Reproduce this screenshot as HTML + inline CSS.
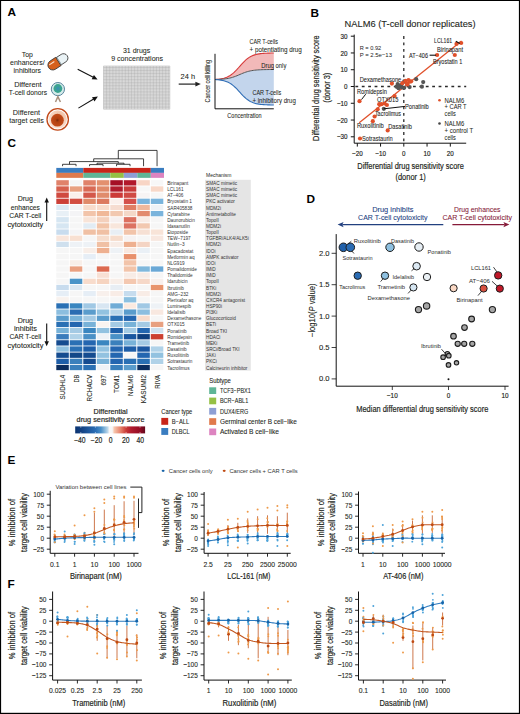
<!DOCTYPE html>
<html><head><meta charset="utf-8"><title>Figure</title>
<style>
html,body{margin:0;padding:0;background:#fff;}
body{width:520px;height:714px;overflow:hidden;position:relative;}
svg{position:absolute;left:0;top:0;display:block;}
svg text{font-family:"Liberation Sans", sans-serif;}
</style></head><body>
<svg width="520" height="714" viewBox="0 0 520 714" font-family='"Liberation Sans", sans-serif'>
<rect x="0" y="0" width="520" height="714" fill="#fff"/>
<text x="7.6" y="16.12" font-size="11.8" font-weight="bold">A</text>
<text x="27.3" y="56.9" font-size="7.25" text-anchor="middle" fill="#231f20" stroke="#231f20" stroke-width="0.06" textLength="11.12" lengthAdjust="spacingAndGlyphs">Top</text>
<text x="27.3" y="65.2" font-size="7.25" text-anchor="middle" fill="#231f20" stroke="#231f20" stroke-width="0.06" textLength="34.6" lengthAdjust="spacingAndGlyphs">enhancers/</text>
<text x="27.3" y="73.3" font-size="7.25" text-anchor="middle" fill="#231f20" stroke="#231f20" stroke-width="0.06" textLength="27.5" lengthAdjust="spacingAndGlyphs">inhibitors</text>
<text x="27.9" y="86.7" font-size="7.25" text-anchor="middle" fill="#231f20" stroke="#231f20" stroke-width="0.06" textLength="27.5" lengthAdjust="spacingAndGlyphs">Different</text>
<text x="27.9" y="94.8" font-size="7.25" text-anchor="middle" fill="#231f20" stroke="#231f20" stroke-width="0.06" textLength="38.4" lengthAdjust="spacingAndGlyphs">T-cell donors</text>
<text x="26.5" y="115.2" font-size="7.25" text-anchor="middle" fill="#231f20" stroke="#231f20" stroke-width="0.06" textLength="27.3" lengthAdjust="spacingAndGlyphs">Different</text>
<text x="26.5" y="122.9" font-size="7.25" text-anchor="middle" fill="#231f20" stroke="#231f20" stroke-width="0.06" textLength="34.6" lengthAdjust="spacingAndGlyphs">target cells</text>
<g transform="translate(58,61.7) rotate(-33)"><path d="M0.4,-4.4 L6.6,-4.4 A4.4,4.4 0 0 1 6.6,4.4 L0.4,4.4 Z" fill="#eaf3f6" stroke="#3a3a3a" stroke-width="0.8"/><path d="M0.4,-4.9 L-6.2,-4.9 A4.9,4.9 0 0 0 -6.2,4.9 L0.4,4.9 Z" fill="#d6601c" stroke="#3a3a3a" stroke-width="0.8"/><line x1="1.3" y1="-4.2" x2="1.3" y2="4.2" stroke="#8fa0a6" stroke-width="1.0"/><path d="M-8.6,-2.1 L-3.4,-2.1" stroke="#fbe3d2" stroke-width="1.1" stroke-linecap="round"/></g>
<defs><radialGradient id="tg"><stop offset="0" stop-color="#3a8cb8"/><stop offset="0.55" stop-color="#3a9f96"/><stop offset="1" stop-color="#3aa88a"/></radialGradient><radialGradient id="og" cx="0.6" cy="0.35" r="0.7"><stop offset="0" stop-color="#eeb898"/><stop offset="1" stop-color="#fbe6da"/></radialGradient><radialGradient id="ig"><stop offset="0" stop-color="#7a2a0c"/><stop offset="0.3" stop-color="#b2400f"/><stop offset="1" stop-color="#c44c1a"/></radialGradient></defs>
<circle cx="57.9" cy="89.1" r="6.6" fill="#d4eaea" stroke="#58849c" stroke-width="1"/>
<circle cx="57.9" cy="88.5" r="4.4" fill="url(#tg)"/>
<path d="M55.5,102.0 L57.9,96.6 L60.4,102.0" fill="none" stroke="#a8917f" stroke-width="1.5"/>
<circle cx="57.7" cy="119.4" r="10.7" fill="#fff" stroke="#c24a1a" stroke-width="1.3"/>
<circle cx="57.7" cy="119.4" r="9.2" fill="url(#og)"/>
<circle cx="57.4" cy="120.2" r="6.4" fill="url(#ig)"/>
<line x1="77.7" y1="69.2" x2="93.26" y2="77.33" stroke="#111" stroke-width="1.1"/>
<path d="M97.6,79.6 L91.7,79.23 L93.93,74.97 Z" fill="#111"/>
<line x1="78.4" y1="108.1" x2="93.68" y2="99.09" stroke="#111" stroke-width="1.1"/>
<path d="M97.9,96.6 L94.47,101.41 L92.03,97.28 Z" fill="#111"/>
<text x="136.6" y="53.1" font-size="7.25" text-anchor="middle" fill="#231f20" stroke="#231f20" stroke-width="0.06" textLength="27.3" lengthAdjust="spacingAndGlyphs">31 drugs</text>
<text x="137.1" y="61.3" font-size="7.25" text-anchor="middle" fill="#231f20" stroke="#231f20" stroke-width="0.06" textLength="51.9" lengthAdjust="spacingAndGlyphs">9 concentrations</text>
<path d="M103.5,66V109.2M104.97,66V109.2M106.45,66V109.2M107.92,66V109.2M109.39,66V109.2M110.87,66V109.2M112.34,66V109.2M113.81,66V109.2M115.29,66V109.2M116.76,66V109.2M118.23,66V109.2M119.71,66V109.2M121.18,66V109.2M122.65,66V109.2M124.13,66V109.2M125.6,66V109.2M127.07,66V109.2M128.55,66V109.2M130.02,66V109.2M131.49,66V109.2M132.97,66V109.2M134.44,66V109.2M135.91,66V109.2M137.39,66V109.2M138.86,66V109.2M140.33,66V109.2M141.81,66V109.2M143.28,66V109.2M144.75,66V109.2M146.23,66V109.2M147.7,66V109.2M149.17,66V109.2M150.65,66V109.2M152.12,66V109.2M153.59,66V109.2M155.07,66V109.2M156.54,66V109.2M158.01,66V109.2M159.49,66V109.2M160.96,66V109.2M162.43,66V109.2M163.91,66V109.2M165.38,66V109.2M166.85,66V109.2M168.33,66V109.2M169.8,66V109.2M103.5,66H169.8M103.5,67.49H169.8M103.5,68.98H169.8M103.5,70.47H169.8M103.5,71.96H169.8M103.5,73.45H169.8M103.5,74.94H169.8M103.5,76.43H169.8M103.5,77.92H169.8M103.5,79.41H169.8M103.5,80.9H169.8M103.5,82.39H169.8M103.5,83.88H169.8M103.5,85.37H169.8M103.5,86.86H169.8M103.5,88.34H169.8M103.5,89.83H169.8M103.5,91.32H169.8M103.5,92.81H169.8M103.5,94.3H169.8M103.5,95.79H169.8M103.5,97.28H169.8M103.5,98.77H169.8M103.5,100.26H169.8M103.5,101.75H169.8M103.5,103.24H169.8M103.5,104.73H169.8M103.5,106.22H169.8M103.5,107.71H169.8M103.5,109.2H169.8" stroke="#959595" stroke-width="0.4" fill="none"/>
<text x="187.8" y="78.8" font-size="7.25" text-anchor="middle" fill="#231f20" stroke="#231f20" stroke-width="0.06" textLength="14.5" lengthAdjust="spacingAndGlyphs">24 h</text>
<line x1="178.7" y1="84.1" x2="195.9" y2="84.1" stroke="#222" stroke-width="1.2"/>
<path d="M200.8,84.1 L195.4,86.4 L195.4,81.8 Z" fill="#222"/>
<polygon points="215,79.5 216.47,79.39 217.94,79.25 219.41,79.07 220.88,78.84 222.35,78.56 223.82,78.2 225.29,77.76 226.76,77.21 228.23,76.54 229.7,75.73 231.17,74.77 232.64,73.65 234.11,72.37 235.58,70.95 237.05,69.39 238.52,67.75 239.99,66.07 241.46,64.4 242.93,62.79 244.4,61.28 245.87,59.91 247.34,58.7 248.81,57.64 250.28,56.75 251.75,56 253.22,55.38 254.69,54.87 256.16,54.47 257.63,54.14 259.1,53.88 260.57,53.67 262.04,53.51 263.51,53.38 264.98,53.28 266.45,53.2 267.92,53.14 269.39,53.09 270.86,53.05 272.33,53.02 273.8,53 273.8,69.5 272.33,69.51 270.86,69.52 269.39,69.53 267.92,69.55 266.45,69.58 264.98,69.61 263.51,69.64 262.04,69.69 260.57,69.75 259.1,69.83 257.63,69.93 256.16,70.05 254.69,70.21 253.22,70.4 251.75,70.63 250.28,70.91 248.81,71.25 247.34,71.65 245.87,72.11 244.4,72.63 242.93,73.19 241.46,73.8 239.99,74.43 238.52,75.07 237.05,75.69 235.58,76.27 234.11,76.81 232.64,77.29 231.17,77.72 229.7,78.08 228.23,78.38 226.76,78.63 225.29,78.84 223.82,79.01 222.35,79.14 220.88,79.25 219.41,79.34 217.94,79.4 216.47,79.46 215,79.5" fill="#f2b9b9"/>
<polygon points="215,79.5 216.47,79.46 217.94,79.4 219.41,79.34 220.88,79.25 222.35,79.14 223.82,79.01 225.29,78.84 226.76,78.63 228.23,78.38 229.7,78.08 231.17,77.72 232.64,77.29 234.11,76.81 235.58,76.27 237.05,75.69 238.52,75.07 239.99,74.43 241.46,73.8 242.93,73.19 244.4,72.63 245.87,72.11 247.34,71.65 248.81,71.25 250.28,70.91 251.75,70.63 253.22,70.4 254.69,70.21 256.16,70.05 257.63,69.93 259.1,69.83 260.57,69.75 262.04,69.69 263.51,69.64 264.98,69.61 266.45,69.58 267.92,69.55 269.39,69.53 270.86,69.52 272.33,69.51 273.8,69.5 273.8,105 272.33,104.98 270.86,104.95 269.39,104.91 267.92,104.87 266.45,104.81 264.98,104.73 263.51,104.63 262.04,104.51 260.57,104.35 259.1,104.15 257.63,103.9 256.16,103.59 254.69,103.2 253.22,102.71 251.75,102.12 250.28,101.4 248.81,100.53 247.34,99.52 245.87,98.35 244.4,97.03 242.93,95.58 241.46,94.03 239.99,92.42 238.52,90.8 237.05,89.22 235.58,87.73 234.11,86.36 232.64,85.13 231.17,84.05 229.7,83.13 228.23,82.35 226.76,81.71 225.29,81.18 223.82,80.75 222.35,80.41 220.88,80.13 219.41,79.92 217.94,79.74 216.47,79.61 215,79.5" fill="#c3d5ec"/>
<polyline points="215,79.5 216.47,79.39 217.94,79.25 219.41,79.07 220.88,78.84 222.35,78.56 223.82,78.2 225.29,77.76 226.76,77.21 228.23,76.54 229.7,75.73 231.17,74.77 232.64,73.65 234.11,72.37 235.58,70.95 237.05,69.39 238.52,67.75 239.99,66.07 241.46,64.4 242.93,62.79 244.4,61.28 245.87,59.91 247.34,58.7 248.81,57.64 250.28,56.75 251.75,56 253.22,55.38 254.69,54.87 256.16,54.47 257.63,54.14 259.1,53.88 260.57,53.67 262.04,53.51 263.51,53.38 264.98,53.28 266.45,53.2 267.92,53.14 269.39,53.09 270.86,53.05 272.33,53.02 273.8,53" fill="none" stroke="#d63a3a" stroke-width="1.1"/>
<polyline points="215,79.5 216.47,79.46 217.94,79.4 219.41,79.34 220.88,79.25 222.35,79.14 223.82,79.01 225.29,78.84 226.76,78.63 228.23,78.38 229.7,78.08 231.17,77.72 232.64,77.29 234.11,76.81 235.58,76.27 237.05,75.69 238.52,75.07 239.99,74.43 241.46,73.8 242.93,73.19 244.4,72.63 245.87,72.11 247.34,71.65 248.81,71.25 250.28,70.91 251.75,70.63 253.22,70.4 254.69,70.21 256.16,70.05 257.63,69.93 259.1,69.83 260.57,69.75 262.04,69.69 263.51,69.64 264.98,69.61 266.45,69.58 267.92,69.55 269.39,69.53 270.86,69.52 272.33,69.51 273.8,69.5" fill="none" stroke="#555" stroke-width="1.0"/>
<polyline points="215,79.5 216.47,79.61 217.94,79.74 219.41,79.92 220.88,80.13 222.35,80.41 223.82,80.75 225.29,81.18 226.76,81.71 228.23,82.35 229.7,83.13 231.17,84.05 232.64,85.13 234.11,86.36 235.58,87.73 237.05,89.22 238.52,90.8 239.99,92.42 241.46,94.03 242.93,95.58 244.4,97.03 245.87,98.35 247.34,99.52 248.81,100.53 250.28,101.4 251.75,102.12 253.22,102.71 254.69,103.2 256.16,103.59 257.63,103.9 259.1,104.15 260.57,104.35 262.04,104.51 263.51,104.63 264.98,104.73 266.45,104.81 267.92,104.87 269.39,104.91 270.86,104.95 272.33,104.98 273.8,105" fill="none" stroke="#2f6db5" stroke-width="1.1"/>
<path d="M215,53.8 V108.8 H273.8" fill="none" stroke="#111" stroke-width="1"/>
<text x="249.5" y="44.39" font-size="6.93" fill="#231f20" stroke="#231f20" stroke-width="0.06" textLength="28.5" lengthAdjust="spacingAndGlyphs">CAR T-cells</text>
<text x="249.5" y="51.89" font-size="6.93" fill="#231f20" stroke="#231f20" stroke-width="0.06" textLength="52.3" lengthAdjust="spacingAndGlyphs">+ potentiating drug</text>
<text x="261.3" y="67.89" font-size="6.93" fill="#231f20" stroke="#231f20" stroke-width="0.06" textLength="25" lengthAdjust="spacingAndGlyphs">Drug only</text>
<text x="252.5" y="95.39" font-size="6.93" fill="#231f20" stroke="#231f20" stroke-width="0.06" textLength="28.8" lengthAdjust="spacingAndGlyphs">CAR T-cells</text>
<text x="252.5" y="102.89" font-size="6.93" fill="#231f20" stroke="#231f20" stroke-width="0.06" textLength="43.3" lengthAdjust="spacingAndGlyphs">+ inhibitory drug</text>
<text transform="translate(207.6,81.3) rotate(-90)" x="0" y="2.25" font-size="6.51" text-anchor="middle" fill="#231f20" stroke="#231f20" stroke-width="0.06" textLength="42.5" lengthAdjust="spacingAndGlyphs">Cancer cell killing</text>
<text x="244.5" y="117.75" font-size="6.51" text-anchor="middle" fill="#231f20" stroke="#231f20" stroke-width="0.06" textLength="34.3" lengthAdjust="spacingAndGlyphs">Concentration</text>
<text x="310.4" y="17.02" font-size="11.8" font-weight="bold">B</text>
<text x="344.6" y="27.41" font-size="9.3" fill="#231f20" stroke="#231f20" stroke-width="0.1" textLength="131" lengthAdjust="spacingAndGlyphs">NALM6 (T-cell donor replicates)</text>
<line x1="350.8" y1="36.19" x2="354.2" y2="36.19" stroke="#111" stroke-width="1"/>
<text x="347.6" y="38.84" font-size="7.68" text-anchor="end" fill="#231f20" stroke="#231f20" stroke-width="0.18" textLength="7.01" lengthAdjust="spacingAndGlyphs">30</text>
<line x1="350.8" y1="52.96" x2="354.2" y2="52.96" stroke="#111" stroke-width="1"/>
<text x="347.6" y="55.61" font-size="7.68" text-anchor="end" fill="#231f20" stroke="#231f20" stroke-width="0.18" textLength="7.01" lengthAdjust="spacingAndGlyphs">20</text>
<line x1="350.8" y1="69.73" x2="354.2" y2="69.73" stroke="#111" stroke-width="1"/>
<text x="347.6" y="72.38" font-size="7.68" text-anchor="end" fill="#231f20" stroke="#231f20" stroke-width="0.18" textLength="7.01" lengthAdjust="spacingAndGlyphs">10</text>
<line x1="350.8" y1="86.5" x2="354.2" y2="86.5" stroke="#111" stroke-width="1"/>
<text x="347.6" y="89.15" font-size="7.68" text-anchor="end" fill="#231f20" stroke="#231f20" stroke-width="0.18" textLength="3.5" lengthAdjust="spacingAndGlyphs">0</text>
<line x1="350.8" y1="103.27" x2="354.2" y2="103.27" stroke="#111" stroke-width="1"/>
<text x="347.6" y="105.92" font-size="7.68" text-anchor="end" fill="#231f20" stroke="#231f20" stroke-width="0.18" textLength="10.69" lengthAdjust="spacingAndGlyphs">−10</text>
<line x1="350.8" y1="120.04" x2="354.2" y2="120.04" stroke="#111" stroke-width="1"/>
<text x="347.6" y="122.69" font-size="7.68" text-anchor="end" fill="#231f20" stroke="#231f20" stroke-width="0.18" textLength="10.69" lengthAdjust="spacingAndGlyphs">−20</text>
<line x1="350.8" y1="136.81" x2="354.2" y2="136.81" stroke="#111" stroke-width="1"/>
<text x="347.6" y="139.46" font-size="7.68" text-anchor="end" fill="#231f20" stroke="#231f20" stroke-width="0.18" textLength="10.69" lengthAdjust="spacingAndGlyphs">−30</text>
<line x1="357.3" y1="143.2" x2="357.3" y2="146.6" stroke="#111" stroke-width="1"/>
<text x="357.3" y="155.65" font-size="7.68" text-anchor="middle" fill="#231f20" stroke="#231f20" stroke-width="0.18" textLength="10.69" lengthAdjust="spacingAndGlyphs">−20</text>
<line x1="380.55" y1="143.2" x2="380.55" y2="146.6" stroke="#111" stroke-width="1"/>
<text x="380.55" y="155.65" font-size="7.68" text-anchor="middle" fill="#231f20" stroke="#231f20" stroke-width="0.18" textLength="10.69" lengthAdjust="spacingAndGlyphs">−10</text>
<line x1="403.8" y1="143.2" x2="403.8" y2="146.6" stroke="#111" stroke-width="1"/>
<text x="403.8" y="155.65" font-size="7.68" text-anchor="middle" fill="#231f20" stroke="#231f20" stroke-width="0.18" textLength="3.5" lengthAdjust="spacingAndGlyphs">0</text>
<line x1="427.05" y1="143.2" x2="427.05" y2="146.6" stroke="#111" stroke-width="1"/>
<text x="427.05" y="155.65" font-size="7.68" text-anchor="middle" fill="#231f20" stroke="#231f20" stroke-width="0.18" textLength="7.01" lengthAdjust="spacingAndGlyphs">10</text>
<line x1="450.3" y1="143.2" x2="450.3" y2="146.6" stroke="#111" stroke-width="1"/>
<text x="450.3" y="155.65" font-size="7.68" text-anchor="middle" fill="#231f20" stroke="#231f20" stroke-width="0.18" textLength="7.01" lengthAdjust="spacingAndGlyphs">20</text>
<line x1="403.8" y1="36.1" x2="403.8" y2="143.2" stroke="#2a2a2a" stroke-width="1.3" stroke-dasharray="2.8,3.6"/>
<line x1="355.4" y1="86.5" x2="466.2" y2="86.5" stroke="#2a2a2a" stroke-width="1.3" stroke-dasharray="2.8,3.6"/>
<path d="M354.2,34.6 V143.2 H466.2" fill="none" stroke="#111" stroke-width="1"/>
<text x="410.6" y="168.76" font-size="8.88" text-anchor="middle" fill="#231f20" stroke="#231f20" stroke-width="0.18" textLength="106.6" lengthAdjust="spacingAndGlyphs">Differential drug sensitivity score</text>
<text x="410.6" y="179.56" font-size="8.88" text-anchor="middle" fill="#231f20" stroke="#231f20" stroke-width="0.18" textLength="30.4" lengthAdjust="spacingAndGlyphs">(donor 1)</text>
<text transform="translate(316,88.2) rotate(-90)" x="0" y="3.06" font-size="8.88" text-anchor="middle" fill="#231f20" stroke="#231f20" stroke-width="0.18" textLength="105.4" lengthAdjust="spacingAndGlyphs">Differential drug sensitivity score</text>
<text transform="translate(327,87.7) rotate(-90)" x="0" y="3.06" font-size="8.88" text-anchor="middle" fill="#231f20" stroke="#231f20" stroke-width="0.18" textLength="30" lengthAdjust="spacingAndGlyphs">(donor 3)</text>
<text x="359.7" y="49.8" font-size="6.2" fill="#222" textLength="21.5" lengthAdjust="spacingAndGlyphs">R = 0.92</text>
<text x="359.7" y="56.7" font-size="6.2" fill="#222" textLength="32.3" lengthAdjust="spacingAndGlyphs">P = 2.5e−13</text>
<line x1="359.2" y1="122.7" x2="461.5" y2="41" stroke="#e0502a" stroke-width="1.25"/>
<circle cx="396.5" cy="86.7" r="2.1" fill="#555"/>
<circle cx="397.7" cy="84" r="2.1" fill="#555"/>
<circle cx="400" cy="86.7" r="2.1" fill="#555"/>
<circle cx="402.3" cy="87.5" r="2.1" fill="#555"/>
<circle cx="404.2" cy="81.3" r="2.1" fill="#555"/>
<circle cx="404.2" cy="87.8" r="2.1" fill="#555"/>
<circle cx="409.6" cy="87.1" r="2.1" fill="#555"/>
<circle cx="416.2" cy="79.2" r="2.1" fill="#555"/>
<circle cx="423.2" cy="82.1" r="2.1" fill="#555"/>
<circle cx="421.9" cy="86.7" r="2.1" fill="#555"/>
<circle cx="399.2" cy="85.9" r="2.1" fill="#555"/>
<circle cx="383.8" cy="108.8" r="2.1" fill="#555"/>
<circle cx="401.5" cy="84.5" r="2.1" fill="#555"/>
<circle cx="398.5" cy="88.2" r="2.1" fill="#555"/>
<circle cx="456.5" cy="43.9" r="2.1" fill="#e0502a"/>
<circle cx="461.2" cy="43" r="2.1" fill="#e0502a"/>
<circle cx="437.1" cy="55" r="2.1" fill="#e0502a"/>
<circle cx="454.8" cy="55" r="2.1" fill="#e0502a"/>
<circle cx="391.9" cy="83.6" r="2.1" fill="#e0502a"/>
<circle cx="359.5" cy="101.2" r="2.1" fill="#e0502a"/>
<circle cx="379.2" cy="104.2" r="2.1" fill="#e0502a"/>
<circle cx="381.5" cy="104.2" r="2.1" fill="#e0502a"/>
<circle cx="384.6" cy="103.5" r="2.1" fill="#e0502a"/>
<circle cx="386.9" cy="105" r="2.1" fill="#e0502a"/>
<circle cx="377.7" cy="109.3" r="2.1" fill="#e0502a"/>
<circle cx="374.6" cy="116.5" r="2.1" fill="#e0502a"/>
<circle cx="372.8" cy="121.2" r="2.1" fill="#e0502a"/>
<circle cx="387.7" cy="130.4" r="2.1" fill="#e0502a"/>
<circle cx="360" cy="138.5" r="2.1" fill="#e0502a"/>
<circle cx="394.6" cy="96" r="2.1" fill="#e0502a"/>
<circle cx="405.4" cy="80.9" r="2.1" fill="#e0502a"/>
<circle cx="409.6" cy="81.7" r="2.1" fill="#e0502a"/>
<circle cx="411.2" cy="81.3" r="2.1" fill="#e0502a"/>
<circle cx="402.3" cy="83.2" r="2.1" fill="#e0502a"/>
<circle cx="406.9" cy="83.6" r="2.1" fill="#e0502a"/>
<circle cx="408.5" cy="80" r="2.1" fill="#e0502a"/>
<circle cx="407.5" cy="84.5" r="2.1" fill="#e0502a"/>
<text x="434" y="43.36" font-size="6.55" fill="#222" stroke="#222" stroke-width="0.07" textLength="18.2" lengthAdjust="spacingAndGlyphs">LCL161</text>
<text x="437.1" y="51.76" font-size="6.55" fill="#222" stroke="#222" stroke-width="0.07" textLength="26" lengthAdjust="spacingAndGlyphs">Birinapant</text>
<text x="408.9" y="57.56" font-size="6.55" fill="#222" stroke="#222" stroke-width="0.07" textLength="19.1" lengthAdjust="spacingAndGlyphs">AT−406</text>
<text x="433" y="63.56" font-size="6.55" fill="#222" stroke="#222" stroke-width="0.07" textLength="29.3" lengthAdjust="spacingAndGlyphs">Bryostatin 1</text>
<text x="359.7" y="81.76" font-size="6.55" fill="#222" stroke="#222" stroke-width="0.07" textLength="41.6" lengthAdjust="spacingAndGlyphs">Dexamethasone</text>
<text x="356.9" y="94.06" font-size="6.55" fill="#222" stroke="#222" stroke-width="0.07" textLength="30" lengthAdjust="spacingAndGlyphs">Romidepsin</text>
<text x="377" y="101.76" font-size="6.55" fill="#222" stroke="#222" stroke-width="0.07" textLength="21.5" lengthAdjust="spacingAndGlyphs">OTX015</text>
<text x="405" y="109.36" font-size="6.55" fill="#222" stroke="#222" stroke-width="0.07" textLength="23.8" lengthAdjust="spacingAndGlyphs">Ponatinib</text>
<text x="374.9" y="116.36" font-size="6.55" fill="#222" stroke="#222" stroke-width="0.07" textLength="26.1" lengthAdjust="spacingAndGlyphs">Tacrolimus</text>
<text x="356.9" y="128.36" font-size="6.55" fill="#222" stroke="#222" stroke-width="0.07" textLength="26.9" lengthAdjust="spacingAndGlyphs">Ruxolitinib</text>
<text x="388.2" y="128.76" font-size="6.55" fill="#222" stroke="#222" stroke-width="0.07" textLength="23.6" lengthAdjust="spacingAndGlyphs">Dasatinib</text>
<text x="362" y="141.06" font-size="6.55" fill="#222" stroke="#222" stroke-width="0.07" textLength="30.8" lengthAdjust="spacingAndGlyphs">Sotrastaurin</text>
<line x1="455.8" y1="41.3" x2="459.9" y2="43.6" stroke="#111" stroke-width="1.1"/>
<line x1="429.6" y1="55.2" x2="436" y2="55.2" stroke="#111" stroke-width="1.1"/>
<line x1="361.5" y1="99.6" x2="365.7" y2="94.2" stroke="#111" stroke-width="1"/>
<line x1="383.8" y1="108.8" x2="405" y2="106.4" stroke="#111" stroke-width="1"/>
<circle cx="439.5" cy="100.3" r="1.3" fill="#e0502a"/>
<circle cx="439.5" cy="123.5" r="1.3" fill="#444"/>
<text x="444.6" y="102.51" font-size="6.42" fill="#231f20" stroke="#231f20" stroke-width="0.05" textLength="19.6" lengthAdjust="spacingAndGlyphs">NALM6</text>
<text x="444.6" y="109.11" font-size="6.42" fill="#231f20" stroke="#231f20" stroke-width="0.05" textLength="22" lengthAdjust="spacingAndGlyphs">+ CAR T</text>
<text x="444.6" y="116.01" font-size="6.42" fill="#231f20" stroke="#231f20" stroke-width="0.05" textLength="11.2" lengthAdjust="spacingAndGlyphs">cells</text>
<text x="444.6" y="125.71" font-size="6.42" fill="#231f20" stroke="#231f20" stroke-width="0.05" textLength="19.6" lengthAdjust="spacingAndGlyphs">NALM6</text>
<text x="444.6" y="133.01" font-size="6.42" fill="#231f20" stroke="#231f20" stroke-width="0.05" textLength="28.5" lengthAdjust="spacingAndGlyphs">+ control T</text>
<text x="444.6" y="139.61" font-size="6.42" fill="#231f20" stroke="#231f20" stroke-width="0.05" textLength="11.2" lengthAdjust="spacingAndGlyphs">cells</text>
<text x="7.5" y="147.32" font-size="11.8" font-weight="bold">C</text>
<rect x="56.3" y="180.2" width="12.5" height="5.31" fill="#e0826a"/>
<rect x="69.8" y="180.2" width="12.5" height="5.31" fill="#f5f5f5"/>
<rect x="83.3" y="180.2" width="12.5" height="5.31" fill="#e0826a"/>
<rect x="96.8" y="180.2" width="12.5" height="5.31" fill="#e3906f"/>
<rect x="110.3" y="180.2" width="12.5" height="5.31" fill="#a50f26"/>
<rect x="123.8" y="180.2" width="12.5" height="5.31" fill="#b2182b"/>
<rect x="137.3" y="180.2" width="12.5" height="5.31" fill="#f8d5c5"/>
<rect x="150.8" y="180.2" width="12.5" height="5.31" fill="#f7f7f7"/>
<rect x="56.3" y="186.35" width="12.5" height="5.31" fill="#d6604d"/>
<rect x="69.8" y="186.35" width="12.5" height="5.31" fill="#e8a080"/>
<rect x="83.3" y="186.35" width="12.5" height="5.31" fill="#d96a55"/>
<rect x="96.8" y="186.35" width="12.5" height="5.31" fill="#e08a6a"/>
<rect x="110.3" y="186.35" width="12.5" height="5.31" fill="#b01c2e"/>
<rect x="123.8" y="186.35" width="12.5" height="5.31" fill="#c83a3a"/>
<rect x="137.3" y="186.35" width="12.5" height="5.31" fill="#f7f7f7"/>
<rect x="150.8" y="186.35" width="12.5" height="5.31" fill="#f8d8c8"/>
<rect x="56.3" y="192.51" width="12.5" height="5.31" fill="#d04a40"/>
<rect x="69.8" y="192.51" width="12.5" height="5.31" fill="#faf0ec"/>
<rect x="83.3" y="192.51" width="12.5" height="5.31" fill="#d4584a"/>
<rect x="96.8" y="192.51" width="12.5" height="5.31" fill="#e08c6c"/>
<rect x="110.3" y="192.51" width="12.5" height="5.31" fill="#cc3a38"/>
<rect x="123.8" y="192.51" width="12.5" height="5.31" fill="#d04a44"/>
<rect x="137.3" y="192.51" width="12.5" height="5.31" fill="#f7f4f4"/>
<rect x="150.8" y="192.51" width="12.5" height="5.31" fill="#f7f7f7"/>
<rect x="56.3" y="198.66" width="12.5" height="5.31" fill="#cc4038"/>
<rect x="69.8" y="198.66" width="12.5" height="5.31" fill="#d24e42"/>
<rect x="83.3" y="198.66" width="12.5" height="5.31" fill="#e08a6a"/>
<rect x="96.8" y="198.66" width="12.5" height="5.31" fill="#dc7a60"/>
<rect x="110.3" y="198.66" width="12.5" height="5.31" fill="#fbf0ec"/>
<rect x="123.8" y="198.66" width="12.5" height="5.31" fill="#d4504a"/>
<rect x="137.3" y="198.66" width="12.5" height="5.31" fill="#7ab4dc"/>
<rect x="150.8" y="198.66" width="12.5" height="5.31" fill="#7ab4dc"/>
<rect x="56.3" y="204.82" width="12.5" height="5.31" fill="#dce9f4"/>
<rect x="69.8" y="204.82" width="12.5" height="5.31" fill="#f2f4f6"/>
<rect x="83.3" y="204.82" width="12.5" height="5.31" fill="#f8dccc"/>
<rect x="96.8" y="204.82" width="12.5" height="5.31" fill="#f8dccc"/>
<rect x="110.3" y="204.82" width="12.5" height="5.31" fill="#f6dcd0"/>
<rect x="123.8" y="204.82" width="12.5" height="5.31" fill="#e07e64"/>
<rect x="137.3" y="204.82" width="12.5" height="5.31" fill="#f0b89c"/>
<rect x="150.8" y="204.82" width="12.5" height="5.31" fill="#eef2f6"/>
<rect x="56.3" y="210.97" width="12.5" height="5.31" fill="#e8f0f6"/>
<rect x="69.8" y="210.97" width="12.5" height="5.31" fill="#f4f4f6"/>
<rect x="83.3" y="210.97" width="12.5" height="5.31" fill="#f2c4aa"/>
<rect x="96.8" y="210.97" width="12.5" height="5.31" fill="#f0b898"/>
<rect x="110.3" y="210.97" width="12.5" height="5.31" fill="#f2c8b0"/>
<rect x="123.8" y="210.97" width="12.5" height="5.31" fill="#f4d8c8"/>
<rect x="137.3" y="210.97" width="12.5" height="5.31" fill="#e28a6e"/>
<rect x="150.8" y="210.97" width="12.5" height="5.31" fill="#7ab4dc"/>
<rect x="56.3" y="217.13" width="12.5" height="5.31" fill="#d6e6f2"/>
<rect x="69.8" y="217.13" width="12.5" height="5.31" fill="#f6f6f6"/>
<rect x="83.3" y="217.13" width="12.5" height="5.31" fill="#f8e4d8"/>
<rect x="96.8" y="217.13" width="12.5" height="5.31" fill="#f4d0bc"/>
<rect x="110.3" y="217.13" width="12.5" height="5.31" fill="#f6f0f0"/>
<rect x="123.8" y="217.13" width="12.5" height="5.31" fill="#dc7060"/>
<rect x="137.3" y="217.13" width="12.5" height="5.31" fill="#f8ece6"/>
<rect x="150.8" y="217.13" width="12.5" height="5.31" fill="#f6f6f6"/>
<rect x="56.3" y="223.28" width="12.5" height="5.31" fill="#d6e6f2"/>
<rect x="69.8" y="223.28" width="12.5" height="5.31" fill="#f6f6f6"/>
<rect x="83.3" y="223.28" width="12.5" height="5.31" fill="#e2ecf4"/>
<rect x="96.8" y="223.28" width="12.5" height="5.31" fill="#f2c4a8"/>
<rect x="110.3" y="223.28" width="12.5" height="5.31" fill="#f8e6dc"/>
<rect x="123.8" y="223.28" width="12.5" height="5.31" fill="#dc7262"/>
<rect x="137.3" y="223.28" width="12.5" height="5.31" fill="#f2c8b0"/>
<rect x="150.8" y="223.28" width="12.5" height="5.31" fill="#f6f6f6"/>
<rect x="56.3" y="229.44" width="12.5" height="5.31" fill="#c8dcee"/>
<rect x="69.8" y="229.44" width="12.5" height="5.31" fill="#f4f4f6"/>
<rect x="83.3" y="229.44" width="12.5" height="5.31" fill="#f0c0a4"/>
<rect x="96.8" y="229.44" width="12.5" height="5.31" fill="#f0c0a4"/>
<rect x="110.3" y="229.44" width="12.5" height="5.31" fill="#e8eef4"/>
<rect x="123.8" y="229.44" width="12.5" height="5.31" fill="#f2c4aa"/>
<rect x="137.3" y="229.44" width="12.5" height="5.31" fill="#f6e0d4"/>
<rect x="150.8" y="229.44" width="12.5" height="5.31" fill="#f8e4d8"/>
<rect x="56.3" y="235.59" width="12.5" height="5.31" fill="#f8e6dc"/>
<rect x="69.8" y="235.59" width="12.5" height="5.31" fill="#f8e0d2"/>
<rect x="83.3" y="235.59" width="12.5" height="5.31" fill="#f6f6f6"/>
<rect x="96.8" y="235.59" width="12.5" height="5.31" fill="#f6dccc"/>
<rect x="110.3" y="235.59" width="12.5" height="5.31" fill="#f6dccc"/>
<rect x="123.8" y="235.59" width="12.5" height="5.31" fill="#f6f2f2"/>
<rect x="137.3" y="235.59" width="12.5" height="5.31" fill="#f6f6f6"/>
<rect x="150.8" y="235.59" width="12.5" height="5.31" fill="#f8e8e0"/>
<rect x="56.3" y="241.75" width="12.5" height="5.31" fill="#cfe0ee"/>
<rect x="69.8" y="241.75" width="12.5" height="5.31" fill="#eef2f6"/>
<rect x="83.3" y="241.75" width="12.5" height="5.31" fill="#eef2f6"/>
<rect x="96.8" y="241.75" width="12.5" height="5.31" fill="#f0c0a4"/>
<rect x="110.3" y="241.75" width="12.5" height="5.31" fill="#f8ece6"/>
<rect x="123.8" y="241.75" width="12.5" height="5.31" fill="#eeb090"/>
<rect x="137.3" y="241.75" width="12.5" height="5.31" fill="#f4d4c4"/>
<rect x="150.8" y="241.75" width="12.5" height="5.31" fill="#f6f6f6"/>
<rect x="56.3" y="247.9" width="12.5" height="5.31" fill="#f6f6f6"/>
<rect x="69.8" y="247.9" width="12.5" height="5.31" fill="#f6f6f6"/>
<rect x="83.3" y="247.9" width="12.5" height="5.31" fill="#f8eee8"/>
<rect x="96.8" y="247.9" width="12.5" height="5.31" fill="#eeb090"/>
<rect x="110.3" y="247.9" width="12.5" height="5.31" fill="#eef2f6"/>
<rect x="123.8" y="247.9" width="12.5" height="5.31" fill="#f8e8e0"/>
<rect x="137.3" y="247.9" width="12.5" height="5.31" fill="#eaf0f6"/>
<rect x="150.8" y="247.9" width="12.5" height="5.31" fill="#f6f6f6"/>
<rect x="56.3" y="254.06" width="12.5" height="5.31" fill="#f6f6f6"/>
<rect x="69.8" y="254.06" width="12.5" height="5.31" fill="#f6f6f6"/>
<rect x="83.3" y="254.06" width="12.5" height="5.31" fill="#e6eef6"/>
<rect x="96.8" y="254.06" width="12.5" height="5.31" fill="#f6f6f6"/>
<rect x="110.3" y="254.06" width="12.5" height="5.31" fill="#f6f6f6"/>
<rect x="123.8" y="254.06" width="12.5" height="5.31" fill="#e8906c"/>
<rect x="137.3" y="254.06" width="12.5" height="5.31" fill="#f6f6f6"/>
<rect x="150.8" y="254.06" width="12.5" height="5.31" fill="#f6f6f6"/>
<rect x="56.3" y="260.21" width="12.5" height="5.31" fill="#f6f6f6"/>
<rect x="69.8" y="260.21" width="12.5" height="5.31" fill="#f8eee8"/>
<rect x="83.3" y="260.21" width="12.5" height="5.31" fill="#f6f6f6"/>
<rect x="96.8" y="260.21" width="12.5" height="5.31" fill="#f6f6f6"/>
<rect x="110.3" y="260.21" width="12.5" height="5.31" fill="#f6f6f6"/>
<rect x="123.8" y="260.21" width="12.5" height="5.31" fill="#f2c4aa"/>
<rect x="137.3" y="260.21" width="12.5" height="5.31" fill="#f6f6f6"/>
<rect x="150.8" y="260.21" width="12.5" height="5.31" fill="#f6f6f6"/>
<rect x="56.3" y="266.37" width="12.5" height="5.31" fill="#f6f6f6"/>
<rect x="69.8" y="266.37" width="12.5" height="5.31" fill="#eaa080"/>
<rect x="83.3" y="266.37" width="12.5" height="5.31" fill="#f6f6f6"/>
<rect x="96.8" y="266.37" width="12.5" height="5.31" fill="#dc6a50"/>
<rect x="110.3" y="266.37" width="12.5" height="5.31" fill="#f6f6f6"/>
<rect x="123.8" y="266.37" width="12.5" height="5.31" fill="#f2c4aa"/>
<rect x="137.3" y="266.37" width="12.5" height="5.31" fill="#80b8dc"/>
<rect x="150.8" y="266.37" width="12.5" height="5.31" fill="#6aa8d6"/>
<rect x="56.3" y="272.52" width="12.5" height="5.31" fill="#f6f6f6"/>
<rect x="69.8" y="272.52" width="12.5" height="5.31" fill="#f6f6f6"/>
<rect x="83.3" y="272.52" width="12.5" height="5.31" fill="#f6f6f6"/>
<rect x="96.8" y="272.52" width="12.5" height="5.31" fill="#f8e0d4"/>
<rect x="110.3" y="272.52" width="12.5" height="5.31" fill="#f6f6f6"/>
<rect x="123.8" y="272.52" width="12.5" height="5.31" fill="#f8ece6"/>
<rect x="137.3" y="272.52" width="12.5" height="5.31" fill="#f8ece6"/>
<rect x="150.8" y="272.52" width="12.5" height="5.31" fill="#f6f6f6"/>
<rect x="56.3" y="278.68" width="12.5" height="5.31" fill="#f6f6f6"/>
<rect x="69.8" y="278.68" width="12.5" height="5.31" fill="#4a94c8"/>
<rect x="83.3" y="278.68" width="12.5" height="5.31" fill="#f8dccc"/>
<rect x="96.8" y="278.68" width="12.5" height="5.31" fill="#f6d4c0"/>
<rect x="110.3" y="278.68" width="12.5" height="5.31" fill="#f8eee8"/>
<rect x="123.8" y="278.68" width="12.5" height="5.31" fill="#f4c8b0"/>
<rect x="137.3" y="278.68" width="12.5" height="5.31" fill="#f6d8c8"/>
<rect x="150.8" y="278.68" width="12.5" height="5.31" fill="#f8f0ec"/>
<rect x="56.3" y="284.83" width="12.5" height="5.31" fill="#c8dcee"/>
<rect x="69.8" y="284.83" width="12.5" height="5.31" fill="#dce8f2"/>
<rect x="83.3" y="284.83" width="12.5" height="5.31" fill="#f6f6f6"/>
<rect x="96.8" y="284.83" width="12.5" height="5.31" fill="#f6f6f6"/>
<rect x="110.3" y="284.83" width="12.5" height="5.31" fill="#e8eef4"/>
<rect x="123.8" y="284.83" width="12.5" height="5.31" fill="#f6f6f6"/>
<rect x="137.3" y="284.83" width="12.5" height="5.31" fill="#f6f6f6"/>
<rect x="150.8" y="284.83" width="12.5" height="5.31" fill="#e8946c"/>
<rect x="56.3" y="290.99" width="12.5" height="5.31" fill="#e6eef6"/>
<rect x="69.8" y="290.99" width="12.5" height="5.31" fill="#f6f6f6"/>
<rect x="83.3" y="290.99" width="12.5" height="5.31" fill="#e6eef6"/>
<rect x="96.8" y="290.99" width="12.5" height="5.31" fill="#f8f0ec"/>
<rect x="110.3" y="290.99" width="12.5" height="5.31" fill="#f8ece6"/>
<rect x="123.8" y="290.99" width="12.5" height="5.31" fill="#c6dcee"/>
<rect x="137.3" y="290.99" width="12.5" height="5.31" fill="#f8ece6"/>
<rect x="150.8" y="290.99" width="12.5" height="5.31" fill="#f6f6f6"/>
<rect x="56.3" y="297.14" width="12.5" height="5.31" fill="#f8f2ee"/>
<rect x="69.8" y="297.14" width="12.5" height="5.31" fill="#f6f6f6"/>
<rect x="83.3" y="297.14" width="12.5" height="5.31" fill="#f6f6f6"/>
<rect x="96.8" y="297.14" width="12.5" height="5.31" fill="#f6f6f6"/>
<rect x="110.3" y="297.14" width="12.5" height="5.31" fill="#f6f6f6"/>
<rect x="123.8" y="297.14" width="12.5" height="5.31" fill="#8cc0e0"/>
<rect x="137.3" y="297.14" width="12.5" height="5.31" fill="#f6f6f6"/>
<rect x="150.8" y="297.14" width="12.5" height="5.31" fill="#f6f6f6"/>
<rect x="56.3" y="303.3" width="12.5" height="5.31" fill="#2a70b4"/>
<rect x="69.8" y="303.3" width="12.5" height="5.31" fill="#3a86c0"/>
<rect x="83.3" y="303.3" width="12.5" height="5.31" fill="#a0c8e4"/>
<rect x="96.8" y="303.3" width="12.5" height="5.31" fill="#d8e6f2"/>
<rect x="110.3" y="303.3" width="12.5" height="5.31" fill="#70acd6"/>
<rect x="123.8" y="303.3" width="12.5" height="5.31" fill="#fbeae0"/>
<rect x="137.3" y="303.3" width="12.5" height="5.31" fill="#a0c8e4"/>
<rect x="150.8" y="303.3" width="12.5" height="5.31" fill="#eef2f6"/>
<rect x="56.3" y="309.45" width="12.5" height="5.31" fill="#8cbedf"/>
<rect x="69.8" y="309.45" width="12.5" height="5.31" fill="#2a6cb2"/>
<rect x="83.3" y="309.45" width="12.5" height="5.31" fill="#5a9ccc"/>
<rect x="96.8" y="309.45" width="12.5" height="5.31" fill="#92c2e0"/>
<rect x="110.3" y="309.45" width="12.5" height="5.31" fill="#b8d6ea"/>
<rect x="123.8" y="309.45" width="12.5" height="5.31" fill="#5a9ccc"/>
<rect x="137.3" y="309.45" width="12.5" height="5.31" fill="#8cbedf"/>
<rect x="150.8" y="309.45" width="12.5" height="5.31" fill="#f8e8e0"/>
<rect x="56.3" y="315.61" width="12.5" height="5.31" fill="#5a9ccc"/>
<rect x="69.8" y="315.61" width="12.5" height="5.31" fill="#78b2d8"/>
<rect x="83.3" y="315.61" width="12.5" height="5.31" fill="#a4cae4"/>
<rect x="96.8" y="315.61" width="12.5" height="5.31" fill="#5a9ccc"/>
<rect x="110.3" y="315.61" width="12.5" height="5.31" fill="#2a70b4"/>
<rect x="123.8" y="315.61" width="12.5" height="5.31" fill="#2466b0"/>
<rect x="137.3" y="315.61" width="12.5" height="5.31" fill="#f8dccc"/>
<rect x="150.8" y="315.61" width="12.5" height="5.31" fill="#f6f6f6"/>
<rect x="56.3" y="321.76" width="12.5" height="5.31" fill="#2a70b4"/>
<rect x="69.8" y="321.76" width="12.5" height="5.31" fill="#2466b0"/>
<rect x="83.3" y="321.76" width="12.5" height="5.31" fill="#78b2d8"/>
<rect x="96.8" y="321.76" width="12.5" height="5.31" fill="#faf4f0"/>
<rect x="110.3" y="321.76" width="12.5" height="5.31" fill="#a4cae4"/>
<rect x="123.8" y="321.76" width="12.5" height="5.31" fill="#78b2d8"/>
<rect x="137.3" y="321.76" width="12.5" height="5.31" fill="#a4cae4"/>
<rect x="150.8" y="321.76" width="12.5" height="5.31" fill="#e8a080"/>
<rect x="56.3" y="327.92" width="12.5" height="5.31" fill="#78b2d8"/>
<rect x="69.8" y="327.92" width="12.5" height="5.31" fill="#a4cae4"/>
<rect x="83.3" y="327.92" width="12.5" height="5.31" fill="#3a86c0"/>
<rect x="96.8" y="327.92" width="12.5" height="5.31" fill="#92c2e0"/>
<rect x="110.3" y="327.92" width="12.5" height="5.31" fill="#1e5ea8"/>
<rect x="123.8" y="327.92" width="12.5" height="5.31" fill="#a4cae4"/>
<rect x="137.3" y="327.92" width="12.5" height="5.31" fill="#2466b0"/>
<rect x="150.8" y="327.92" width="12.5" height="5.31" fill="#d0e2f0"/>
<rect x="56.3" y="334.07" width="12.5" height="5.31" fill="#3a7cbc"/>
<rect x="69.8" y="334.07" width="12.5" height="5.31" fill="#b0d2e8"/>
<rect x="83.3" y="334.07" width="12.5" height="5.31" fill="#4a90c6"/>
<rect x="96.8" y="334.07" width="12.5" height="5.31" fill="#eef2f6"/>
<rect x="110.3" y="334.07" width="12.5" height="5.31" fill="#4a90c6"/>
<rect x="123.8" y="334.07" width="12.5" height="5.31" fill="#1a56a0"/>
<rect x="137.3" y="334.07" width="12.5" height="5.31" fill="#0e3e7e"/>
<rect x="150.8" y="334.07" width="12.5" height="5.31" fill="#cc4030"/>
<rect x="56.3" y="340.23" width="12.5" height="5.31" fill="#154c90"/>
<rect x="69.8" y="340.23" width="12.5" height="5.31" fill="#2a70b4"/>
<rect x="83.3" y="340.23" width="12.5" height="5.31" fill="#2466b0"/>
<rect x="96.8" y="340.23" width="12.5" height="5.31" fill="#3a86c0"/>
<rect x="110.3" y="340.23" width="12.5" height="5.31" fill="#3a80bc"/>
<rect x="123.8" y="340.23" width="12.5" height="5.31" fill="#78b2d8"/>
<rect x="137.3" y="340.23" width="12.5" height="5.31" fill="#a4cae4"/>
<rect x="150.8" y="340.23" width="12.5" height="5.31" fill="#f6f6f6"/>
<rect x="56.3" y="346.38" width="12.5" height="5.31" fill="#92c2e0"/>
<rect x="69.8" y="346.38" width="12.5" height="5.31" fill="#2a70b4"/>
<rect x="83.3" y="346.38" width="12.5" height="5.31" fill="#1e5ea8"/>
<rect x="96.8" y="346.38" width="12.5" height="5.31" fill="#92c2e0"/>
<rect x="110.3" y="346.38" width="12.5" height="5.31" fill="#2466b0"/>
<rect x="123.8" y="346.38" width="12.5" height="5.31" fill="#1e5ea8"/>
<rect x="137.3" y="346.38" width="12.5" height="5.31" fill="#1a56a0"/>
<rect x="150.8" y="346.38" width="12.5" height="5.31" fill="#b0d2e8"/>
<rect x="56.3" y="352.54" width="12.5" height="5.31" fill="#154c90"/>
<rect x="69.8" y="352.54" width="12.5" height="5.31" fill="#124888"/>
<rect x="83.3" y="352.54" width="12.5" height="5.31" fill="#154c90"/>
<rect x="96.8" y="352.54" width="12.5" height="5.31" fill="#92c2e0"/>
<rect x="110.3" y="352.54" width="12.5" height="5.31" fill="#2466b0"/>
<rect x="123.8" y="352.54" width="12.5" height="5.31" fill="#f6f6f6"/>
<rect x="137.3" y="352.54" width="12.5" height="5.31" fill="#2466b0"/>
<rect x="150.8" y="352.54" width="12.5" height="5.31" fill="#92c2e0"/>
<rect x="56.3" y="358.69" width="12.5" height="5.31" fill="#1e5ea8"/>
<rect x="69.8" y="358.69" width="12.5" height="5.31" fill="#3a80bc"/>
<rect x="83.3" y="358.69" width="12.5" height="5.31" fill="#154c90"/>
<rect x="96.8" y="358.69" width="12.5" height="5.31" fill="#78b2d8"/>
<rect x="110.3" y="358.69" width="12.5" height="5.31" fill="#2466b0"/>
<rect x="123.8" y="358.69" width="12.5" height="5.31" fill="#2a70b4"/>
<rect x="137.3" y="358.69" width="12.5" height="5.31" fill="#2a70b4"/>
<rect x="150.8" y="358.69" width="12.5" height="5.31" fill="#b0d2e8"/>
<rect x="56.3" y="364.85" width="12.5" height="5.31" fill="#0c2d5e"/>
<rect x="69.8" y="364.85" width="12.5" height="5.31" fill="#3a80bc"/>
<rect x="83.3" y="364.85" width="12.5" height="5.31" fill="#2a70b4"/>
<rect x="96.8" y="364.85" width="12.5" height="5.31" fill="#eef2f6"/>
<rect x="110.3" y="364.85" width="12.5" height="5.31" fill="#3a80bc"/>
<rect x="123.8" y="364.85" width="12.5" height="5.31" fill="#5a9ccc"/>
<rect x="137.3" y="364.85" width="12.5" height="5.31" fill="#0c2d5e"/>
<rect x="150.8" y="364.85" width="12.5" height="5.31" fill="#f6f6f6"/>
<rect x="56.3" y="167.9" width="27" height="5" fill="#3a7dc0"/>
<rect x="83.3" y="167.9" width="67.5" height="5" fill="#c8251a"/>
<rect x="150.8" y="167.9" width="13.2" height="5" fill="#3a7dc0"/>
<rect x="56.3" y="172.85" width="27" height="5" fill="#e07a4c"/>
<rect x="83.3" y="172.85" width="27" height="5" fill="#5fb596"/>
<rect x="110.3" y="172.85" width="13.5" height="5" fill="#95c045"/>
<rect x="123.8" y="172.85" width="13.5" height="5" fill="#8d9fd4"/>
<rect x="137.3" y="172.85" width="13.5" height="5" fill="#5fb596"/>
<rect x="150.8" y="172.85" width="13.2" height="5" fill="#dd84c0"/>
<path d="M62.55,166.2 V164.3 H76.05 V166.2" fill="none" stroke="#111" stroke-width="0.8"/>
<path d="M89.55,166.2 V164.6 H103.05 V166.2" fill="none" stroke="#111" stroke-width="0.8"/>
<path d="M116.55,166.2 V164.3 H130.05 V166.2" fill="none" stroke="#111" stroke-width="0.8"/>
<path d="M97,164.6 V163.2 H124 V164.3" fill="none" stroke="#111" stroke-width="0.8"/>
<path d="M69.5,164.3 V161.6 H118.3 V163.2" fill="none" stroke="#111" stroke-width="0.8"/>
<path d="M93.7,161.6 V158.8 H143.55 V166.2" fill="none" stroke="#111" stroke-width="0.8"/>
<path d="M118.3,158.8 V150.4 H157.05 V166.2" fill="none" stroke="#111" stroke-width="0.8"/>
<text transform="translate(62.65,374.9) rotate(-90)" x="0" y="2.42" font-size="7.02" text-anchor="end" fill="#231f20" stroke="#231f20" stroke-width="0.09" textLength="24.6" lengthAdjust="spacingAndGlyphs">SUDHL4</text>
<text transform="translate(76.15,374.9) rotate(-90)" x="0" y="2.42" font-size="7.02" text-anchor="end" fill="#231f20" stroke="#231f20" stroke-width="0.09" textLength="7.7" lengthAdjust="spacingAndGlyphs">DB</text>
<text transform="translate(89.65,374.9) rotate(-90)" x="0" y="2.42" font-size="7.02" text-anchor="end" fill="#231f20" stroke="#231f20" stroke-width="0.09" textLength="26.5" lengthAdjust="spacingAndGlyphs">RCHACV</text>
<text transform="translate(103.15,374.9) rotate(-90)" x="0" y="2.42" font-size="7.02" text-anchor="end" fill="#231f20" stroke="#231f20" stroke-width="0.09" textLength="10.5" lengthAdjust="spacingAndGlyphs">697</text>
<text transform="translate(116.65,374.9) rotate(-90)" x="0" y="2.42" font-size="7.02" text-anchor="end" fill="#231f20" stroke="#231f20" stroke-width="0.09" textLength="18" lengthAdjust="spacingAndGlyphs">TOM1</text>
<text transform="translate(130.15,374.9) rotate(-90)" x="0" y="2.42" font-size="7.02" text-anchor="end" fill="#231f20" stroke="#231f20" stroke-width="0.09" textLength="21" lengthAdjust="spacingAndGlyphs">NALM6</text>
<text transform="translate(143.65,374.9) rotate(-90)" x="0" y="2.42" font-size="7.02" text-anchor="end" fill="#231f20" stroke="#231f20" stroke-width="0.09" textLength="28.4" lengthAdjust="spacingAndGlyphs">KASUMI2</text>
<text transform="translate(157.15,374.9) rotate(-90)" x="0" y="2.42" font-size="7.02" text-anchor="end" fill="#231f20" stroke="#231f20" stroke-width="0.09" textLength="13.8" lengthAdjust="spacingAndGlyphs">RIVA</text>
<rect x="205" y="179.8" width="45.8" height="190.8" fill="#e5e5e5"/>
<text x="206" y="177.47" font-size="6" fill="#231f20" textLength="25.5" lengthAdjust="spacingAndGlyphs">Mechanism</text>
<text x="167.2" y="184.93" font-size="5.3" fill="#333" textLength="21.07" lengthAdjust="spacingAndGlyphs">Birinapant</text>
<text x="206" y="184.93" font-size="5.3" fill="#333" textLength="31.21" lengthAdjust="spacingAndGlyphs">SMAC mimetic</text>
<text x="167.2" y="191.08" font-size="5.3" fill="#333" textLength="16.39" lengthAdjust="spacingAndGlyphs">LCL161</text>
<text x="206" y="191.08" font-size="5.3" fill="#333" textLength="31.21" lengthAdjust="spacingAndGlyphs">SMAC mimetic</text>
<text x="167.2" y="197.24" font-size="5.3" fill="#333" textLength="16.17" lengthAdjust="spacingAndGlyphs">AT−406</text>
<text x="206" y="197.24" font-size="5.3" fill="#333" textLength="31.21" lengthAdjust="spacingAndGlyphs">SMAC mimetic</text>
<text x="167.2" y="203.39" font-size="5.3" fill="#333" textLength="24.71" lengthAdjust="spacingAndGlyphs">Bryostatin 1</text>
<text x="206" y="203.39" font-size="5.3" fill="#333" textLength="28.85" lengthAdjust="spacingAndGlyphs">PKC activator</text>
<text x="167.2" y="209.55" font-size="5.3" fill="#333" textLength="25.24" lengthAdjust="spacingAndGlyphs">SAR405838</text>
<text x="206" y="209.55" font-size="5.3" fill="#333" textLength="14.95" lengthAdjust="spacingAndGlyphs">MDM2i</text>
<text x="167.2" y="215.7" font-size="5.3" fill="#333" textLength="22.63" lengthAdjust="spacingAndGlyphs">Cytarabine</text>
<text x="206" y="215.7" font-size="5.3" fill="#333" textLength="29.91" lengthAdjust="spacingAndGlyphs">Antimetabolite</text>
<text x="167.2" y="221.86" font-size="5.3" fill="#333" textLength="27.58" lengthAdjust="spacingAndGlyphs">Daunorubicin</text>
<text x="206" y="221.86" font-size="5.3" fill="#333" textLength="12.86" lengthAdjust="spacingAndGlyphs">TopoII</text>
<text x="167.2" y="228.01" font-size="5.3" fill="#333" textLength="22.64" lengthAdjust="spacingAndGlyphs">Idasanutlin</text>
<text x="206" y="228.01" font-size="5.3" fill="#333" textLength="14.95" lengthAdjust="spacingAndGlyphs">MDM2i</text>
<text x="167.2" y="234.17" font-size="5.3" fill="#333" textLength="20.81" lengthAdjust="spacingAndGlyphs">Etoposide</text>
<text x="206" y="234.17" font-size="5.3" fill="#333" textLength="12.86" lengthAdjust="spacingAndGlyphs">TopoII</text>
<text x="167.2" y="240.32" font-size="5.3" fill="#333" textLength="23.54" lengthAdjust="spacingAndGlyphs">TEW−7197</text>
<text x="206" y="240.32" font-size="5.3" fill="#333" textLength="42.76" lengthAdjust="spacingAndGlyphs">TGFBR/ALK4/ALK5i</text>
<text x="167.2" y="246.48" font-size="5.3" fill="#333" textLength="17.3" lengthAdjust="spacingAndGlyphs">Nutlin−3</text>
<text x="206" y="246.48" font-size="5.3" fill="#333" textLength="14.95" lengthAdjust="spacingAndGlyphs">MDM2i</text>
<text x="167.2" y="252.63" font-size="5.3" fill="#333" textLength="26.02" lengthAdjust="spacingAndGlyphs">Epacadostat</text>
<text x="206" y="252.63" font-size="5.3" fill="#333" textLength="9.44" lengthAdjust="spacingAndGlyphs">IDOi</text>
<text x="167.2" y="258.79" font-size="5.3" fill="#333" textLength="27.31" lengthAdjust="spacingAndGlyphs">Metformin aq</text>
<text x="206" y="258.79" font-size="5.3" fill="#333" textLength="32.53" lengthAdjust="spacingAndGlyphs">AMPK activator</text>
<text x="167.2" y="264.94" font-size="5.3" fill="#333" textLength="17.43" lengthAdjust="spacingAndGlyphs">NLG919</text>
<text x="206" y="264.94" font-size="5.3" fill="#333" textLength="9.44" lengthAdjust="spacingAndGlyphs">IDOi</text>
<text x="167.2" y="271.1" font-size="5.3" fill="#333" textLength="29.65" lengthAdjust="spacingAndGlyphs">Pomalidomide</text>
<text x="206" y="271.1" font-size="5.3" fill="#333" textLength="9.7" lengthAdjust="spacingAndGlyphs">IMiD</text>
<text x="167.2" y="277.25" font-size="5.3" fill="#333" textLength="25.49" lengthAdjust="spacingAndGlyphs">Thalidomide</text>
<text x="206" y="277.25" font-size="5.3" fill="#333" textLength="9.7" lengthAdjust="spacingAndGlyphs">IMiD</text>
<text x="167.2" y="283.41" font-size="5.3" fill="#333" textLength="20.29" lengthAdjust="spacingAndGlyphs">Idarubicin</text>
<text x="206" y="283.41" font-size="5.3" fill="#333" textLength="12.86" lengthAdjust="spacingAndGlyphs">TopoII</text>
<text x="167.2" y="289.56" font-size="5.3" fill="#333" textLength="16.65" lengthAdjust="spacingAndGlyphs">Ibrutinib</text>
<text x="206" y="289.56" font-size="5.3" fill="#333" textLength="10.23" lengthAdjust="spacingAndGlyphs">BTKi</text>
<text x="167.2" y="295.72" font-size="5.3" fill="#333" textLength="21.2" lengthAdjust="spacingAndGlyphs">AMG−232</text>
<text x="206" y="295.72" font-size="5.3" fill="#333" textLength="14.95" lengthAdjust="spacingAndGlyphs">MDM2i</text>
<text x="167.2" y="301.87" font-size="5.3" fill="#333" textLength="26.27" lengthAdjust="spacingAndGlyphs">Plerixafor aq</text>
<text x="206" y="301.87" font-size="5.3" fill="#333" textLength="39.09" lengthAdjust="spacingAndGlyphs">CXCR4 antagonist</text>
<text x="167.2" y="308.03" font-size="5.3" fill="#333" textLength="23.93" lengthAdjust="spacingAndGlyphs">Luminespib</text>
<text x="206" y="308.03" font-size="5.3" fill="#333" textLength="16" lengthAdjust="spacingAndGlyphs">HSP90i</text>
<text x="167.2" y="314.18" font-size="5.3" fill="#333" textLength="18.21" lengthAdjust="spacingAndGlyphs">Idelalisib</text>
<text x="206" y="314.18" font-size="5.3" fill="#333" textLength="11.28" lengthAdjust="spacingAndGlyphs">PI3Ki</text>
<text x="167.2" y="320.34" font-size="5.3" fill="#333" textLength="34.08" lengthAdjust="spacingAndGlyphs">Dexamethasone</text>
<text x="206" y="320.34" font-size="5.3" fill="#333" textLength="29.9" lengthAdjust="spacingAndGlyphs">Glucocorticoid</text>
<text x="167.2" y="326.49" font-size="5.3" fill="#333" textLength="17.43" lengthAdjust="spacingAndGlyphs">OTX015</text>
<text x="206" y="326.49" font-size="5.3" fill="#333" textLength="10.05" lengthAdjust="spacingAndGlyphs">BETi</text>
<text x="167.2" y="332.65" font-size="5.3" fill="#333" textLength="19.51" lengthAdjust="spacingAndGlyphs">Ponatinib</text>
<text x="206" y="332.65" font-size="5.3" fill="#333" textLength="21.16" lengthAdjust="spacingAndGlyphs">Broad TKI</text>
<text x="167.2" y="338.8" font-size="5.3" fill="#333" textLength="24.71" lengthAdjust="spacingAndGlyphs">Romidepsin</text>
<text x="206" y="338.8" font-size="5.3" fill="#333" textLength="14.42" lengthAdjust="spacingAndGlyphs">HDACi</text>
<text x="167.2" y="344.96" font-size="5.3" fill="#333" textLength="21.93" lengthAdjust="spacingAndGlyphs">Trametinib</text>
<text x="206" y="344.96" font-size="5.3" fill="#333" textLength="11.28" lengthAdjust="spacingAndGlyphs">MEKi</text>
<text x="167.2" y="351.11" font-size="5.3" fill="#333" textLength="19.51" lengthAdjust="spacingAndGlyphs">Dasatinib</text>
<text x="206" y="351.11" font-size="5.3" fill="#333" textLength="33.49" lengthAdjust="spacingAndGlyphs">SRCi/Broad TKI</text>
<text x="167.2" y="357.27" font-size="5.3" fill="#333" textLength="21.59" lengthAdjust="spacingAndGlyphs">Ruxolitinib</text>
<text x="206" y="357.27" font-size="5.3" fill="#333" textLength="9.71" lengthAdjust="spacingAndGlyphs">JAKi</text>
<text x="167.2" y="363.42" font-size="5.3" fill="#333" textLength="25.23" lengthAdjust="spacingAndGlyphs">Sotrastaurin</text>
<text x="206" y="363.42" font-size="5.3" fill="#333" textLength="10.75" lengthAdjust="spacingAndGlyphs">PKCi</text>
<text x="167.2" y="369.58" font-size="5.3" fill="#333" textLength="22.36" lengthAdjust="spacingAndGlyphs">Tacrolimus</text>
<text x="206" y="369.58" font-size="5.3" fill="#333" textLength="41.45" lengthAdjust="spacingAndGlyphs">Calcineurin inhibitor</text>
<text x="25.3" y="201.4" font-size="7.25" text-anchor="middle" fill="#231f20" stroke="#231f20" stroke-width="0.09" textLength="15.2" lengthAdjust="spacingAndGlyphs">Drug</text>
<text x="25.3" y="210.1" font-size="7.25" text-anchor="middle" fill="#231f20" stroke="#231f20" stroke-width="0.09" textLength="29" lengthAdjust="spacingAndGlyphs">enhances</text>
<text x="25.3" y="218.2" font-size="7.25" text-anchor="middle" fill="#231f20" stroke="#231f20" stroke-width="0.09" textLength="32" lengthAdjust="spacingAndGlyphs">CAR T-cell</text>
<text x="25.3" y="226.6" font-size="7.25" text-anchor="middle" fill="#231f20" stroke="#231f20" stroke-width="0.09" textLength="35.8" lengthAdjust="spacingAndGlyphs">cytotoxicity</text>
<line x1="46.7" y1="221" x2="46.7" y2="202.1" stroke="#111" stroke-width="1.1"/>
<path d="M46.7,197.6 L48.9,202.6 L44.5,202.6 Z" fill="#111"/>
<text x="25.4" y="322.7" font-size="7.25" text-anchor="middle" fill="#231f20" stroke="#231f20" stroke-width="0.09" textLength="15.3" lengthAdjust="spacingAndGlyphs">Drug</text>
<text x="25.4" y="330.8" font-size="7.25" text-anchor="middle" fill="#231f20" stroke="#231f20" stroke-width="0.09" textLength="23" lengthAdjust="spacingAndGlyphs">inhibits</text>
<text x="25.4" y="339.2" font-size="7.25" text-anchor="middle" fill="#231f20" stroke="#231f20" stroke-width="0.09" textLength="31.8" lengthAdjust="spacingAndGlyphs">CAR T-cell</text>
<text x="25.4" y="347.7" font-size="7.25" text-anchor="middle" fill="#231f20" stroke="#231f20" stroke-width="0.09" textLength="35.8" lengthAdjust="spacingAndGlyphs">cytotoxicity</text>
<line x1="46.7" y1="323.4" x2="46.7" y2="341.7" stroke="#111" stroke-width="1.1"/>
<path d="M46.7,346.2 L44.5,341.2 L48.9,341.2 Z" fill="#111"/>
<text x="110.6" y="413.58" font-size="7.48" text-anchor="middle" fill="#231f20" stroke="#231f20" stroke-width="0.18" textLength="34" lengthAdjust="spacingAndGlyphs">Differential</text>
<text x="110.6" y="422.48" font-size="7.48" text-anchor="middle" fill="#231f20" stroke="#231f20" stroke-width="0.18" textLength="68" lengthAdjust="spacingAndGlyphs">drug sensitivity score</text>
<defs><linearGradient id="cb" x1="0" x2="1" y1="0" y2="0"><stop offset="0" stop-color="#0b3370"/><stop offset="0.08" stop-color="#123f80"/><stop offset="0.29" stop-color="#2a6db5"/><stop offset="0.37" stop-color="#4a90c8"/><stop offset="0.46" stop-color="#b4d3e9"/><stop offset="0.49" stop-color="#f7f7f7"/><stop offset="0.53" stop-color="#f7f7f7"/><stop offset="0.56" stop-color="#f6c4aa"/><stop offset="0.65" stop-color="#e6806a"/><stop offset="0.73" stop-color="#c83a36"/><stop offset="0.8" stop-color="#b01c2e"/><stop offset="0.93" stop-color="#920c24"/><stop offset="1" stop-color="#62081d"/></linearGradient></defs>
<rect x="75.2" y="426.4" width="69.9" height="7" fill="url(#cb)"/>
<line x1="80.8" y1="426.4" x2="80.8" y2="427.6" stroke="#fff" stroke-width="0.6"/>
<line x1="80.8" y1="432.2" x2="80.8" y2="433.4" stroke="#fff" stroke-width="0.6"/>
<line x1="95.4" y1="426.4" x2="95.4" y2="427.6" stroke="#fff" stroke-width="0.6"/>
<line x1="95.4" y1="432.2" x2="95.4" y2="433.4" stroke="#fff" stroke-width="0.6"/>
<line x1="126.1" y1="426.4" x2="126.1" y2="427.6" stroke="#fff" stroke-width="0.6"/>
<line x1="126.1" y1="432.2" x2="126.1" y2="433.4" stroke="#fff" stroke-width="0.6"/>
<line x1="140" y1="426.4" x2="140" y2="427.6" stroke="#fff" stroke-width="0.6"/>
<line x1="140" y1="432.2" x2="140" y2="433.4" stroke="#fff" stroke-width="0.6"/>
<text x="79.9" y="443.42" font-size="8.16" text-anchor="middle" fill="#231f20" stroke="#231f20" stroke-width="0.18" textLength="11.53" lengthAdjust="spacingAndGlyphs">−40</text>
<text x="96.6" y="443.42" font-size="8.16" text-anchor="middle" fill="#231f20" stroke="#231f20" stroke-width="0.18" textLength="11.53" lengthAdjust="spacingAndGlyphs">−20</text>
<text x="110.6" y="443.42" font-size="8.16" text-anchor="middle" fill="#231f20" stroke="#231f20" stroke-width="0.18" textLength="3.78" lengthAdjust="spacingAndGlyphs">0</text>
<text x="125.7" y="443.42" font-size="8.16" text-anchor="middle" fill="#231f20" stroke="#231f20" stroke-width="0.18" textLength="7.56" lengthAdjust="spacingAndGlyphs">20</text>
<text x="140.3" y="443.42" font-size="8.16" text-anchor="middle" fill="#231f20" stroke="#231f20" stroke-width="0.18" textLength="7.56" lengthAdjust="spacingAndGlyphs">40</text>
<text x="161.3" y="413.78" font-size="6.6" fill="#231f20" stroke="#231f20" stroke-width="0.09" textLength="31" lengthAdjust="spacingAndGlyphs">Cancer type</text>
<rect x="161.3" y="417.9" width="6.9" height="6.9" fill="#c8251a"/>
<rect x="161.3" y="428" width="6.9" height="6.9" fill="#3a7dc0"/>
<text x="171.7" y="423.68" font-size="6.6" fill="#231f20" stroke="#231f20" stroke-width="0.09" textLength="17.5" lengthAdjust="spacingAndGlyphs">B−ALL</text>
<text x="171.7" y="433.78" font-size="6.6" fill="#231f20" stroke="#231f20" stroke-width="0.09" textLength="18" lengthAdjust="spacingAndGlyphs">DLBCL</text>
<text x="209.2" y="383.25" font-size="6.82" fill="#231f20" stroke="#231f20" stroke-width="0.09" textLength="21.7" lengthAdjust="spacingAndGlyphs">Subtype</text>
<rect x="209.2" y="387.3" width="7" height="6.7" fill="#5fb596"/>
<text x="219.9" y="393" font-size="6.82" fill="#231f20" stroke="#231f20" stroke-width="0.09" textLength="30.9" lengthAdjust="spacingAndGlyphs">TCF3−PBX1</text>
<rect x="209.2" y="397.6" width="7" height="6.7" fill="#95c045"/>
<text x="219.9" y="403.3" font-size="6.82" fill="#231f20" stroke="#231f20" stroke-width="0.09" textLength="28.3" lengthAdjust="spacingAndGlyphs">BCR−ABL1</text>
<rect x="209.2" y="407.9" width="7" height="6.7" fill="#8d9fd4"/>
<text x="219.9" y="413.6" font-size="6.82" fill="#231f20" stroke="#231f20" stroke-width="0.09" textLength="28.3" lengthAdjust="spacingAndGlyphs">DUX4/ERG</text>
<rect x="209.2" y="418.2" width="7" height="6.7" fill="#e07a4c"/>
<text x="219.9" y="423.9" font-size="6.82" fill="#231f20" stroke="#231f20" stroke-width="0.09" textLength="77" lengthAdjust="spacingAndGlyphs">Germinal center B cell−like</text>
<rect x="209.2" y="428.5" width="7" height="6.7" fill="#dd84c0"/>
<text x="219.9" y="434.2" font-size="6.82" fill="#231f20" stroke="#231f20" stroke-width="0.09" textLength="59" lengthAdjust="spacingAndGlyphs">Activated B cell−like</text>
<text x="306.5" y="202.52" font-size="11.8" font-weight="bold">D</text>
<text x="392.8" y="212.33" font-size="7.92" text-anchor="middle" fill="#22407f" stroke="#22407f" stroke-width="0.08" textLength="41.3" lengthAdjust="spacingAndGlyphs">Drug inhibits</text>
<text x="392.8" y="220.43" font-size="7.92" text-anchor="middle" fill="#22407f" stroke="#22407f" stroke-width="0.08" textLength="69.4" lengthAdjust="spacingAndGlyphs">CAR T-cell cytotoxicity</text>
<text x="477.2" y="212.33" font-size="7.92" text-anchor="middle" fill="#861a38" stroke="#861a38" stroke-width="0.08" textLength="46.4" lengthAdjust="spacingAndGlyphs">Drug enhances</text>
<text x="477.2" y="220.43" font-size="7.92" text-anchor="middle" fill="#861a38" stroke="#861a38" stroke-width="0.08" textLength="69.4" lengthAdjust="spacingAndGlyphs">CAR T-cell cytotoxicity</text>
<line x1="443.3" y1="224.6" x2="342.3" y2="224.6" stroke="#22407f" stroke-width="1.2"/>
<path d="M337.6,224.6 L343.6,222 L342.3,224.6 L343.6,227.2 Z" fill="#22407f"/>
<line x1="452.4" y1="224.6" x2="504.7" y2="224.6" stroke="#861a38" stroke-width="1.2"/>
<path d="M509.4,224.6 L503.4,227.2 L504.7,224.6 L503.4,222 Z" fill="#861a38"/>
<line x1="331.6" y1="253.3" x2="336.2" y2="253.3" stroke="#111" stroke-width="0.8"/>
<text x="329.6" y="255.84" font-size="7.36" text-anchor="end" fill="#231f20" stroke="#231f20" stroke-width="0.09" textLength="10.6" lengthAdjust="spacingAndGlyphs">2.0</text>
<line x1="331.6" y1="284.7" x2="336.2" y2="284.7" stroke="#111" stroke-width="0.8"/>
<text x="329.6" y="287.24" font-size="7.36" text-anchor="end" fill="#231f20" stroke="#231f20" stroke-width="0.09" textLength="10.6" lengthAdjust="spacingAndGlyphs">1.5</text>
<line x1="331.6" y1="316.1" x2="336.2" y2="316.1" stroke="#111" stroke-width="0.8"/>
<text x="329.6" y="318.64" font-size="7.36" text-anchor="end" fill="#231f20" stroke="#231f20" stroke-width="0.09" textLength="10.6" lengthAdjust="spacingAndGlyphs">1.0</text>
<line x1="331.6" y1="347.5" x2="336.2" y2="347.5" stroke="#111" stroke-width="0.8"/>
<text x="329.6" y="350.04" font-size="7.36" text-anchor="end" fill="#231f20" stroke="#231f20" stroke-width="0.09" textLength="10.6" lengthAdjust="spacingAndGlyphs">0.5</text>
<line x1="331.6" y1="378.9" x2="336.2" y2="378.9" stroke="#111" stroke-width="0.8"/>
<text x="329.6" y="381.44" font-size="7.36" text-anchor="end" fill="#231f20" stroke="#231f20" stroke-width="0.09" textLength="10.6" lengthAdjust="spacingAndGlyphs">0.0</text>
<line x1="392.3" y1="386.2" x2="392.3" y2="390" stroke="#111" stroke-width="0.8"/>
<text x="392.3" y="398.45" font-size="7.68" text-anchor="middle" fill="#231f20" stroke="#231f20" stroke-width="0.18" textLength="10.86" lengthAdjust="spacingAndGlyphs">−10</text>
<line x1="448.5" y1="386.2" x2="448.5" y2="390" stroke="#111" stroke-width="0.8"/>
<text x="448.5" y="398.45" font-size="7.68" text-anchor="middle" fill="#231f20" stroke="#231f20" stroke-width="0.18" textLength="3.56" lengthAdjust="spacingAndGlyphs">0</text>
<line x1="505" y1="386.2" x2="505" y2="390" stroke="#111" stroke-width="0.8"/>
<text x="505" y="398.45" font-size="7.68" text-anchor="middle" fill="#231f20" stroke="#231f20" stroke-width="0.18" textLength="7.12" lengthAdjust="spacingAndGlyphs">10</text>
<path d="M336.2,234.1 V386.2 H508.6" fill="none" stroke="#111" stroke-width="1"/>
<text x="422.3" y="412.26" font-size="8.88" text-anchor="middle" fill="#231f20" stroke="#231f20" stroke-width="0.18" textLength="132" lengthAdjust="spacingAndGlyphs">Median differential drug sensitivity score</text>
<text transform="translate(312.0,310.3) rotate(-90)" x="0" y="2.85" font-size="8.3" fill="#231f20" stroke="#231f20" stroke-width="0.12" text-anchor="middle" textLength="53.5" lengthAdjust="spacingAndGlyphs">−log10(<tspan font-style="italic">P</tspan> value)</text>
<circle cx="418.5" cy="309.6" r="3.1" fill="#a6a6a6" stroke="#1d1d1d" stroke-width="1.1"/>
<circle cx="426.6" cy="305.9" r="3.2" fill="#a6a6a6" stroke="#1d1d1d" stroke-width="1.1"/>
<circle cx="492.4" cy="309.6" r="3.1" fill="#a6a6a6" stroke="#1d1d1d" stroke-width="1.1"/>
<circle cx="471.6" cy="319" r="2.9" fill="#a6a6a6" stroke="#1d1d1d" stroke-width="1.1"/>
<circle cx="464.5" cy="327.6" r="2.8" fill="#a6a6a6" stroke="#1d1d1d" stroke-width="1.1"/>
<circle cx="453.5" cy="336.2" r="2.8" fill="#a6a6a6" stroke="#1d1d1d" stroke-width="1.1"/>
<circle cx="457.7" cy="343.8" r="2.6" fill="#a6a6a6" stroke="#1d1d1d" stroke-width="1.1"/>
<circle cx="464.2" cy="343.8" r="2.6" fill="#a6a6a6" stroke="#1d1d1d" stroke-width="1.1"/>
<circle cx="472.3" cy="343.8" r="2.6" fill="#a6a6a6" stroke="#1d1d1d" stroke-width="1.1"/>
<circle cx="443.1" cy="357.2" r="2.3" fill="#a6a6a6" stroke="#1d1d1d" stroke-width="1.1"/>
<circle cx="447.4" cy="353.8" r="2.3" fill="#a6a6a6" stroke="#1d1d1d" stroke-width="1.1"/>
<circle cx="448.8" cy="355.7" r="2.3" fill="#a6a6a6" stroke="#1d1d1d" stroke-width="1.1"/>
<circle cx="448.5" cy="364.9" r="2.3" fill="#a6a6a6" stroke="#1d1d1d" stroke-width="1.1"/>
<circle cx="456.5" cy="362.8" r="2.2" fill="#a6a6a6" stroke="#1d1d1d" stroke-width="1.1"/>
<circle cx="413.4" cy="287.4" r="3.6" fill="#d6e6f2" stroke="#1d1d1d" stroke-width="1"/>
<circle cx="427" cy="277" r="3.7" fill="#eaf0f4" stroke="#1d1d1d" stroke-width="1"/>
<circle cx="416.6" cy="266.2" r="3.8" fill="#dce9f3" stroke="#1d1d1d" stroke-width="1"/>
<circle cx="419" cy="247" r="4.2" fill="#e6eef4" stroke="#1d1d1d" stroke-width="1"/>
<circle cx="390" cy="247.3" r="4.2" fill="#8ec0e0" stroke="#1d1d1d" stroke-width="1"/>
<circle cx="385" cy="275.7" r="3.7" fill="#8ec0e0" stroke="#1d1d1d" stroke-width="1"/>
<circle cx="357.7" cy="275.7" r="3.7" fill="#2a6cb4" stroke="#1d1d1d" stroke-width="1"/>
<circle cx="343.4" cy="247.3" r="4.3" fill="#2060aa" stroke="#1d1d1d" stroke-width="1"/>
<circle cx="350.3" cy="247.3" r="4.3" fill="#2a6cb4" stroke="#1d1d1d" stroke-width="1"/>
<circle cx="453.6" cy="288.2" r="3.6" fill="#fad8c4" stroke="#1d1d1d" stroke-width="1"/>
<circle cx="483.6" cy="288.5" r="3.6" fill="#d65040" stroke="#1d1d1d" stroke-width="1"/>
<circle cx="499.8" cy="288.6" r="3.6" fill="#c01828" stroke="#1d1d1d" stroke-width="1"/>
<circle cx="498.2" cy="275.4" r="3.7" fill="#c01828" stroke="#1d1d1d" stroke-width="1"/>
<circle cx="448.5" cy="379.2" r="1" fill="#111"/>
<text x="353.8" y="243.1" font-size="6.09" fill="#2a2a2a" textLength="27" lengthAdjust="spacingAndGlyphs">Ruxolitinib</text>
<text x="342.5" y="260" font-size="6.09" fill="#2a2a2a" textLength="30" lengthAdjust="spacingAndGlyphs">Sotrastaurin</text>
<text x="391" y="243.1" font-size="6.09" fill="#2a2a2a" textLength="23" lengthAdjust="spacingAndGlyphs">Dasatinib</text>
<text x="427.5" y="254.4" font-size="6.09" fill="#2a2a2a" textLength="23.5" lengthAdjust="spacingAndGlyphs">Ponatinib</text>
<text x="339.2" y="288.8" font-size="6.09" fill="#2a2a2a" textLength="26" lengthAdjust="spacingAndGlyphs">Tacrolimus</text>
<text x="377.5" y="288.8" font-size="6.09" fill="#2a2a2a" textLength="27.5" lengthAdjust="spacingAndGlyphs">Trametinib</text>
<text x="392.5" y="278.9" font-size="6.09" fill="#2a2a2a" textLength="21.5" lengthAdjust="spacingAndGlyphs">Idelalisib</text>
<text x="367.5" y="300.1" font-size="6.09" fill="#2a2a2a" textLength="42.5" lengthAdjust="spacingAndGlyphs">Dexamethasone</text>
<text x="471" y="270" font-size="6.09" fill="#2a2a2a" textLength="20" lengthAdjust="spacingAndGlyphs">LCL161</text>
<text x="469" y="282.7" font-size="6.09" fill="#2a2a2a" textLength="21" lengthAdjust="spacingAndGlyphs">AT−406</text>
<text x="456.5" y="301.7" font-size="6.09" fill="#2a2a2a" textLength="26" lengthAdjust="spacingAndGlyphs">Birinapant</text>
<text x="421" y="347.6" font-size="6.09" fill="#2a2a2a" textLength="20" lengthAdjust="spacingAndGlyphs">Ibrutinib</text>
<line x1="351.3" y1="241.2" x2="347.8" y2="244.4" stroke="#111" stroke-width="0.8"/>
<line x1="354" y1="253.5" x2="351.8" y2="251" stroke="#111" stroke-width="0.8"/>
<line x1="411.5" y1="270.8" x2="414.3" y2="268.5" stroke="#111" stroke-width="0.8"/>
<line x1="380.6" y1="281.6" x2="383.2" y2="278.6" stroke="#111" stroke-width="0.8"/>
<line x1="408.1" y1="293.4" x2="411" y2="290.2" stroke="#111" stroke-width="0.8"/>
<line x1="493.5" y1="267.2" x2="497" y2="272" stroke="#111" stroke-width="0.8"/>
<line x1="492" y1="281.3" x2="497.2" y2="286" stroke="#111" stroke-width="0.8"/>
<line x1="478" y1="295.6" x2="481.5" y2="291.4" stroke="#111" stroke-width="0.8"/>
<line x1="441.5" y1="349.2" x2="445.3" y2="353.5" stroke="#111" stroke-width="0.8"/>
<text x="7.6" y="464.12" font-size="11.8" font-weight="bold">E</text>
<text x="7.4" y="587.52" font-size="11.8" font-weight="bold">F</text>
<ellipse cx="163.1" cy="470.8" rx="1.5" ry="1.1" fill="#1763a8"/>
<ellipse cx="224.2" cy="470.8" rx="1.5" ry="1.1" fill="#bf4a12"/>
<text x="168.8" y="473.03" font-size="6.16" fill="#333" textLength="43.8" lengthAdjust="spacingAndGlyphs">Cancer cells only</text>
<text x="229.4" y="473.03" font-size="6.16" fill="#333" textLength="68.3" lengthAdjust="spacingAndGlyphs">Cancer cells + CAR T cells</text>
<text x="55.4" y="489.03" font-size="6.16" fill="#333" textLength="71" lengthAdjust="spacingAndGlyphs">Variation between cell lines</text>
<path d="M130.3,487.1 H141.9 V512.6 H138.9" fill="none" stroke="#222" stroke-width="1"/>
<line x1="138.5" y1="498.5" x2="138.5" y2="527.9" stroke="#111" stroke-width="0.9"/>
<path d="M50.2,490.8 V553.3 H138.5" fill="none" stroke="#111" stroke-width="1"/>
<line x1="46.8" y1="494.2" x2="50.2" y2="494.2" stroke="#111" stroke-width="0.9"/>
<text x="44" y="496.68" font-size="7.2" text-anchor="end" fill="#231f20" stroke="#231f20" stroke-width="0.09" textLength="10.84" lengthAdjust="spacingAndGlyphs">100</text>
<line x1="46.8" y1="505.2" x2="50.2" y2="505.2" stroke="#111" stroke-width="0.9"/>
<text x="44" y="507.68" font-size="7.2" text-anchor="end" fill="#231f20" stroke="#231f20" stroke-width="0.09" textLength="7.23" lengthAdjust="spacingAndGlyphs">75</text>
<line x1="46.8" y1="516.2" x2="50.2" y2="516.2" stroke="#111" stroke-width="0.9"/>
<text x="44" y="518.68" font-size="7.2" text-anchor="end" fill="#231f20" stroke="#231f20" stroke-width="0.09" textLength="7.23" lengthAdjust="spacingAndGlyphs">50</text>
<line x1="46.8" y1="527.2" x2="50.2" y2="527.2" stroke="#111" stroke-width="0.9"/>
<text x="44" y="529.68" font-size="7.2" text-anchor="end" fill="#231f20" stroke="#231f20" stroke-width="0.09" textLength="7.23" lengthAdjust="spacingAndGlyphs">25</text>
<line x1="46.8" y1="538.2" x2="50.2" y2="538.2" stroke="#111" stroke-width="0.9"/>
<text x="44" y="540.68" font-size="7.2" text-anchor="end" fill="#231f20" stroke="#231f20" stroke-width="0.09" textLength="3.61" lengthAdjust="spacingAndGlyphs">0</text>
<line x1="46.8" y1="549.2" x2="50.2" y2="549.2" stroke="#111" stroke-width="0.9"/>
<text x="44" y="551.68" font-size="7.2" text-anchor="end" fill="#231f20" stroke="#231f20" stroke-width="0.09" textLength="11.03" lengthAdjust="spacingAndGlyphs">−25</text>
<line x1="54.8" y1="553.3" x2="54.8" y2="556.7" stroke="#111" stroke-width="0.9"/>
<text x="54.8" y="566.68" font-size="7.2" text-anchor="middle" fill="#231f20" stroke="#231f20" stroke-width="0.09" textLength="9.45" lengthAdjust="spacingAndGlyphs">0.1</text>
<line x1="74.6" y1="553.3" x2="74.6" y2="556.7" stroke="#111" stroke-width="0.9"/>
<text x="74.6" y="566.68" font-size="7.2" text-anchor="middle" fill="#231f20" stroke="#231f20" stroke-width="0.09" textLength="3.78" lengthAdjust="spacingAndGlyphs">1</text>
<line x1="94.4" y1="553.3" x2="94.4" y2="556.7" stroke="#111" stroke-width="0.9"/>
<text x="94.4" y="566.68" font-size="7.2" text-anchor="middle" fill="#231f20" stroke="#231f20" stroke-width="0.09" textLength="7.56" lengthAdjust="spacingAndGlyphs">10</text>
<line x1="114.2" y1="553.3" x2="114.2" y2="556.7" stroke="#111" stroke-width="0.9"/>
<text x="114.2" y="566.68" font-size="7.2" text-anchor="middle" fill="#231f20" stroke="#231f20" stroke-width="0.09" textLength="11.34" lengthAdjust="spacingAndGlyphs">100</text>
<line x1="134" y1="553.3" x2="134" y2="556.7" stroke="#111" stroke-width="0.9"/>
<text x="134" y="566.68" font-size="7.2" text-anchor="middle" fill="#231f20" stroke="#231f20" stroke-width="0.09" textLength="15.13" lengthAdjust="spacingAndGlyphs">1000</text>
<text x="95.85" y="579.02" font-size="8.75" text-anchor="middle" fill="#231f20" stroke="#231f20" stroke-width="0.18" textLength="51.9" lengthAdjust="spacingAndGlyphs">Birinapant (nM)</text>
<text transform="translate(12.3,522.5) rotate(-90)" x="0" y="2.94" font-size="8.52" text-anchor="middle" fill="#231f20" stroke="#231f20" stroke-width="0.18" textLength="47.4" lengthAdjust="spacingAndGlyphs">% inhibition of</text>
<text transform="translate(23.7,522.5) rotate(-90)" x="0" y="2.94" font-size="8.52" text-anchor="middle" fill="#231f20" stroke="#231f20" stroke-width="0.18" textLength="58.8" lengthAdjust="spacingAndGlyphs">target cell viability</text>
<line x1="54.8" y1="534.68" x2="54.8" y2="538.2" stroke="#c2561f" stroke-width="0.8"/>
<line x1="64.7" y1="534.68" x2="64.7" y2="538.2" stroke="#c2561f" stroke-width="0.8"/>
<line x1="74.6" y1="534.24" x2="74.6" y2="538.2" stroke="#c2561f" stroke-width="0.8"/>
<line x1="84.5" y1="532.04" x2="84.5" y2="538.2" stroke="#c2561f" stroke-width="0.8"/>
<line x1="94.4" y1="512.68" x2="94.4" y2="536" stroke="#c2561f" stroke-width="0.8"/>
<line x1="104.3" y1="509.6" x2="104.3" y2="535.12" stroke="#c2561f" stroke-width="0.8"/>
<line x1="114.2" y1="505.2" x2="114.2" y2="536" stroke="#c2561f" stroke-width="0.8"/>
<line x1="124.1" y1="501.24" x2="124.1" y2="535.56" stroke="#c2561f" stroke-width="0.8"/>
<line x1="134" y1="500.8" x2="134" y2="535.12" stroke="#c2561f" stroke-width="0.8"/>
<circle cx="54.59" cy="540.32" r="0.95" fill="#4ea3d9"/>
<circle cx="54.54" cy="538.02" r="0.95" fill="#4ea3d9"/>
<circle cx="54.72" cy="538.83" r="0.95" fill="#4ea3d9"/>
<circle cx="54.8" cy="542.19" r="0.95" fill="#4ea3d9"/>
<circle cx="54.76" cy="542.34" r="0.95" fill="#4ea3d9"/>
<circle cx="54.55" cy="542.11" r="0.95" fill="#4ea3d9"/>
<circle cx="55" cy="539.61" r="0.95" fill="#4ea3d9"/>
<circle cx="54.63" cy="541.73" r="0.95" fill="#4ea3d9"/>
<circle cx="55.07" cy="536.21" r="0.95" fill="#ee9a4a"/>
<circle cx="54.74" cy="536.47" r="0.95" fill="#ee9a4a"/>
<circle cx="54.53" cy="534.37" r="0.95" fill="#ee9a4a"/>
<circle cx="54.67" cy="534.99" r="0.95" fill="#ee9a4a"/>
<circle cx="54.57" cy="538.76" r="0.95" fill="#ee9a4a"/>
<circle cx="54.99" cy="537.89" r="0.95" fill="#ee9a4a"/>
<circle cx="64.75" cy="541.01" r="0.95" fill="#4ea3d9"/>
<circle cx="64.62" cy="536.98" r="0.95" fill="#4ea3d9"/>
<circle cx="64.44" cy="537.78" r="0.95" fill="#4ea3d9"/>
<circle cx="64.52" cy="542.08" r="0.95" fill="#4ea3d9"/>
<circle cx="64.66" cy="536.61" r="0.95" fill="#4ea3d9"/>
<circle cx="64.75" cy="539.84" r="0.95" fill="#4ea3d9"/>
<circle cx="64.58" cy="538.61" r="0.95" fill="#4ea3d9"/>
<circle cx="64.82" cy="535.61" r="0.95" fill="#4ea3d9"/>
<circle cx="64.74" cy="537.79" r="0.95" fill="#ee9a4a"/>
<circle cx="64.93" cy="536.55" r="0.95" fill="#ee9a4a"/>
<circle cx="64.57" cy="535.65" r="0.95" fill="#ee9a4a"/>
<circle cx="64.47" cy="534.55" r="0.95" fill="#ee9a4a"/>
<circle cx="64.85" cy="537.02" r="0.95" fill="#ee9a4a"/>
<circle cx="64.69" cy="538.19" r="0.95" fill="#ee9a4a"/>
<circle cx="74.7" cy="541.81" r="0.95" fill="#4ea3d9"/>
<circle cx="74.64" cy="535.43" r="0.95" fill="#4ea3d9"/>
<circle cx="74.49" cy="534.46" r="0.95" fill="#4ea3d9"/>
<circle cx="74.66" cy="536.04" r="0.95" fill="#4ea3d9"/>
<circle cx="74.57" cy="537.06" r="0.95" fill="#4ea3d9"/>
<circle cx="74.87" cy="534.77" r="0.95" fill="#4ea3d9"/>
<circle cx="74.7" cy="537.99" r="0.95" fill="#4ea3d9"/>
<circle cx="74.72" cy="541.63" r="0.95" fill="#4ea3d9"/>
<circle cx="74.9" cy="535.66" r="0.95" fill="#ee9a4a"/>
<circle cx="74.47" cy="534.74" r="0.95" fill="#ee9a4a"/>
<circle cx="74.7" cy="537.04" r="0.95" fill="#ee9a4a"/>
<circle cx="74.58" cy="538.96" r="0.95" fill="#ee9a4a"/>
<circle cx="74.37" cy="538.19" r="0.95" fill="#ee9a4a"/>
<circle cx="74.76" cy="538.77" r="0.95" fill="#ee9a4a"/>
<circle cx="84.35" cy="540.48" r="0.95" fill="#4ea3d9"/>
<circle cx="84.72" cy="538.4" r="0.95" fill="#4ea3d9"/>
<circle cx="84.47" cy="540.86" r="0.95" fill="#4ea3d9"/>
<circle cx="84.73" cy="537.15" r="0.95" fill="#4ea3d9"/>
<circle cx="84.72" cy="535.01" r="0.95" fill="#4ea3d9"/>
<circle cx="84.45" cy="539.29" r="0.95" fill="#4ea3d9"/>
<circle cx="84.73" cy="538.66" r="0.95" fill="#4ea3d9"/>
<circle cx="84.29" cy="533.91" r="0.95" fill="#4ea3d9"/>
<circle cx="84.34" cy="537.55" r="0.95" fill="#ee9a4a"/>
<circle cx="84.49" cy="537.2" r="0.95" fill="#ee9a4a"/>
<circle cx="84.36" cy="535.01" r="0.95" fill="#ee9a4a"/>
<circle cx="84.45" cy="538.61" r="0.95" fill="#ee9a4a"/>
<circle cx="84.54" cy="536.37" r="0.95" fill="#ee9a4a"/>
<circle cx="84.61" cy="532.77" r="0.95" fill="#ee9a4a"/>
<circle cx="94.47" cy="537.16" r="0.95" fill="#4ea3d9"/>
<circle cx="94.13" cy="535.46" r="0.95" fill="#4ea3d9"/>
<circle cx="94.57" cy="533.1" r="0.95" fill="#4ea3d9"/>
<circle cx="94.58" cy="533.37" r="0.95" fill="#4ea3d9"/>
<circle cx="94.34" cy="538.46" r="0.95" fill="#4ea3d9"/>
<circle cx="94.48" cy="541.51" r="0.95" fill="#4ea3d9"/>
<circle cx="94.14" cy="541.94" r="0.95" fill="#4ea3d9"/>
<circle cx="94.2" cy="540.4" r="0.95" fill="#4ea3d9"/>
<circle cx="94.13" cy="535.05" r="0.95" fill="#ee9a4a"/>
<circle cx="94.19" cy="538.64" r="0.95" fill="#ee9a4a"/>
<circle cx="94.32" cy="537.57" r="0.95" fill="#ee9a4a"/>
<circle cx="94.62" cy="538.37" r="0.95" fill="#ee9a4a"/>
<circle cx="94.19" cy="532.16" r="0.95" fill="#ee9a4a"/>
<circle cx="94.31" cy="535.98" r="0.95" fill="#ee9a4a"/>
<circle cx="104.07" cy="538.63" r="0.95" fill="#4ea3d9"/>
<circle cx="104.6" cy="533.94" r="0.95" fill="#4ea3d9"/>
<circle cx="104.29" cy="537.65" r="0.95" fill="#4ea3d9"/>
<circle cx="104.06" cy="541.33" r="0.95" fill="#4ea3d9"/>
<circle cx="104.16" cy="538.84" r="0.95" fill="#4ea3d9"/>
<circle cx="104.1" cy="534.14" r="0.95" fill="#4ea3d9"/>
<circle cx="104.57" cy="541.94" r="0.95" fill="#4ea3d9"/>
<circle cx="104.09" cy="537.05" r="0.95" fill="#4ea3d9"/>
<circle cx="104.02" cy="528.87" r="0.95" fill="#ee9a4a"/>
<circle cx="104.59" cy="529.05" r="0.95" fill="#ee9a4a"/>
<circle cx="104.42" cy="524.92" r="0.95" fill="#ee9a4a"/>
<circle cx="104.22" cy="532.34" r="0.95" fill="#ee9a4a"/>
<circle cx="104.46" cy="533.5" r="0.95" fill="#ee9a4a"/>
<circle cx="104.47" cy="529" r="0.95" fill="#ee9a4a"/>
<circle cx="114.03" cy="538.97" r="0.95" fill="#4ea3d9"/>
<circle cx="114.49" cy="534.3" r="0.95" fill="#4ea3d9"/>
<circle cx="114.38" cy="533.91" r="0.95" fill="#4ea3d9"/>
<circle cx="114.34" cy="534.24" r="0.95" fill="#4ea3d9"/>
<circle cx="114.21" cy="539.97" r="0.95" fill="#4ea3d9"/>
<circle cx="113.92" cy="538.72" r="0.95" fill="#4ea3d9"/>
<circle cx="114.07" cy="541.89" r="0.95" fill="#4ea3d9"/>
<circle cx="114.32" cy="539.65" r="0.95" fill="#4ea3d9"/>
<circle cx="114.17" cy="519.45" r="0.95" fill="#ee9a4a"/>
<circle cx="114.49" cy="519.73" r="0.95" fill="#ee9a4a"/>
<circle cx="114.12" cy="519.47" r="0.95" fill="#ee9a4a"/>
<circle cx="114.04" cy="529.82" r="0.95" fill="#ee9a4a"/>
<circle cx="114.02" cy="530.15" r="0.95" fill="#ee9a4a"/>
<circle cx="114.44" cy="524.13" r="0.95" fill="#ee9a4a"/>
<circle cx="124.09" cy="534.32" r="0.95" fill="#4ea3d9"/>
<circle cx="124.28" cy="535.97" r="0.95" fill="#4ea3d9"/>
<circle cx="124.2" cy="540.97" r="0.95" fill="#4ea3d9"/>
<circle cx="124.27" cy="533.71" r="0.95" fill="#4ea3d9"/>
<circle cx="124.09" cy="535.12" r="0.95" fill="#4ea3d9"/>
<circle cx="124.27" cy="540.15" r="0.95" fill="#4ea3d9"/>
<circle cx="124.28" cy="538.79" r="0.95" fill="#4ea3d9"/>
<circle cx="124.04" cy="533.17" r="0.95" fill="#4ea3d9"/>
<circle cx="124.37" cy="525.24" r="0.95" fill="#ee9a4a"/>
<circle cx="123.9" cy="520.12" r="0.95" fill="#ee9a4a"/>
<circle cx="123.89" cy="529.59" r="0.95" fill="#ee9a4a"/>
<circle cx="124.28" cy="517.27" r="0.95" fill="#ee9a4a"/>
<circle cx="124.3" cy="529.28" r="0.95" fill="#ee9a4a"/>
<circle cx="124.19" cy="516.07" r="0.95" fill="#ee9a4a"/>
<circle cx="134.03" cy="538.64" r="0.95" fill="#4ea3d9"/>
<circle cx="133.71" cy="540.57" r="0.95" fill="#4ea3d9"/>
<circle cx="134.09" cy="533.18" r="0.95" fill="#4ea3d9"/>
<circle cx="134.26" cy="537.09" r="0.95" fill="#4ea3d9"/>
<circle cx="134.22" cy="537.9" r="0.95" fill="#4ea3d9"/>
<circle cx="133.83" cy="534.45" r="0.95" fill="#4ea3d9"/>
<circle cx="133.88" cy="539.5" r="0.95" fill="#4ea3d9"/>
<circle cx="134.05" cy="539.6" r="0.95" fill="#4ea3d9"/>
<circle cx="133.95" cy="526.61" r="0.95" fill="#ee9a4a"/>
<circle cx="134.25" cy="528.64" r="0.95" fill="#ee9a4a"/>
<circle cx="133.97" cy="525.12" r="0.95" fill="#ee9a4a"/>
<circle cx="134.24" cy="521.48" r="0.95" fill="#ee9a4a"/>
<circle cx="134.25" cy="524.06" r="0.95" fill="#ee9a4a"/>
<circle cx="134.02" cy="522.77" r="0.95" fill="#ee9a4a"/>
<circle cx="54.8" cy="531.16" r="1" fill="#ee9a4a"/>
<circle cx="74.6" cy="525.44" r="1" fill="#ee9a4a"/>
<circle cx="84.5" cy="515.32" r="1" fill="#ee9a4a"/>
<circle cx="94.4" cy="508.28" r="1" fill="#ee9a4a"/>
<circle cx="94.4" cy="511.8" r="1" fill="#ee9a4a"/>
<circle cx="104.3" cy="499.48" r="1" fill="#ee9a4a"/>
<circle cx="104.3" cy="503" r="1" fill="#ee9a4a"/>
<circle cx="114.2" cy="496.4" r="1" fill="#ee9a4a"/>
<circle cx="114.2" cy="498.6" r="1" fill="#ee9a4a"/>
<circle cx="124.1" cy="496.4" r="1" fill="#ee9a4a"/>
<circle cx="124.1" cy="497.72" r="1" fill="#ee9a4a"/>
<circle cx="134" cy="496.4" r="1" fill="#ee9a4a"/>
<circle cx="134" cy="497.72" r="1" fill="#ee9a4a"/>
<circle cx="54.8" cy="542.16" r="1" fill="#ee9a4a"/>
<circle cx="64.7" cy="531.6" r="1" fill="#4ea3d9"/>
<circle cx="74.6" cy="543.92" r="1" fill="#4ea3d9"/>
<circle cx="94.4" cy="544.8" r="1" fill="#4ea3d9"/>
<circle cx="114.2" cy="544.36" r="1" fill="#4ea3d9"/>
<circle cx="84.5" cy="532.92" r="1" fill="#4ea3d9"/>
<polyline points="54.8,539.08 56.04,538.97 57.27,538.85 58.51,538.73 59.75,538.61 60.99,538.5 62.22,538.39 63.46,538.29 64.7,538.2 65.94,538.12 67.17,538.05 68.41,537.99 69.65,537.94 70.89,537.89 72.12,537.84 73.36,537.8 74.6,537.76 75.84,537.72 77.07,537.69 78.31,537.66 79.55,537.64 80.79,537.61 82.02,537.59 83.26,537.57 84.5,537.54 85.74,537.51 86.97,537.48 88.21,537.45 89.45,537.42 90.69,537.39 91.92,537.36 93.16,537.34 94.4,537.32 95.64,537.31 96.88,537.3 98.11,537.3 99.35,537.31 100.59,537.31 101.83,537.31 103.06,537.32 104.3,537.32 105.54,537.32 106.77,537.32 108.01,537.32 109.25,537.32 110.49,537.32 111.72,537.32 112.96,537.32 114.2,537.32 115.44,537.32 116.67,537.32 117.91,537.32 119.15,537.32 120.39,537.32 121.63,537.32 122.86,537.32 124.1,537.32 125.34,537.32 126.57,537.32 127.81,537.32 129.05,537.32 130.29,537.32 131.53,537.32 132.76,537.32 134,537.32" fill="none" stroke="#2c7bbf" stroke-width="1.1"/>
<polyline points="54.8,536.88 56.04,536.85 57.27,536.83 58.51,536.8 59.75,536.77 60.99,536.74 62.22,536.72 63.46,536.69 64.7,536.66 65.94,536.64 67.17,536.62 68.41,536.61 69.65,536.59 70.89,536.57 72.12,536.54 73.36,536.5 74.6,536.44 75.84,536.37 77.07,536.3 78.31,536.22 79.55,536.12 80.79,536.02 82.02,535.89 83.26,535.74 84.5,535.56 85.74,535.36 86.97,535.14 88.21,534.91 89.45,534.65 90.69,534.37 91.92,534.06 93.16,533.73 94.4,533.36 95.64,532.95 96.88,532.48 98.11,531.98 99.35,531.46 100.59,530.93 101.83,530.4 103.06,529.89 104.3,529.4 105.54,528.93 106.77,528.46 108.01,527.99 109.25,527.53 110.49,527.08 111.72,526.66 112.96,526.25 114.2,525.88 115.44,525.53 116.67,525.21 117.91,524.9 119.15,524.62 120.39,524.35 121.63,524.11 122.86,523.88 124.1,523.68 125.34,523.51 126.57,523.37 127.81,523.25 129.05,523.16 130.29,523.07 131.53,522.99 132.76,522.9 134,522.8" fill="none" stroke="#c2561f" stroke-width="1.1"/>
<circle cx="54.8" cy="539.08" r="1.4" fill="#1763a8"/>
<circle cx="54.8" cy="536.88" r="1.4" fill="#bf4a12"/>
<circle cx="64.7" cy="538.2" r="1.4" fill="#1763a8"/>
<circle cx="64.7" cy="536.88" r="1.4" fill="#bf4a12"/>
<circle cx="74.6" cy="537.76" r="1.4" fill="#1763a8"/>
<circle cx="74.6" cy="536.44" r="1.4" fill="#bf4a12"/>
<circle cx="84.5" cy="537.54" r="1.4" fill="#1763a8"/>
<circle cx="84.5" cy="536" r="1.4" fill="#bf4a12"/>
<circle cx="94.4" cy="537.32" r="1.4" fill="#1763a8"/>
<circle cx="94.4" cy="532.92" r="1.4" fill="#bf4a12"/>
<circle cx="104.3" cy="537.32" r="1.4" fill="#1763a8"/>
<circle cx="104.3" cy="528.52" r="1.4" fill="#bf4a12"/>
<circle cx="114.2" cy="537.32" r="1.4" fill="#1763a8"/>
<circle cx="114.2" cy="525" r="1.4" fill="#bf4a12"/>
<circle cx="124.1" cy="537.32" r="1.4" fill="#1763a8"/>
<circle cx="124.1" cy="522.36" r="1.4" fill="#bf4a12"/>
<circle cx="134" cy="537.32" r="1.4" fill="#1763a8"/>
<circle cx="134" cy="519.28" r="1.4" fill="#bf4a12"/>
<path d="M204.1,492 V553.3 H290.7" fill="none" stroke="#111" stroke-width="1"/>
<line x1="200.7" y1="494.2" x2="204.1" y2="494.2" stroke="#111" stroke-width="0.9"/>
<text x="197.9" y="496.68" font-size="7.2" text-anchor="end" fill="#231f20" stroke="#231f20" stroke-width="0.09" textLength="10.84" lengthAdjust="spacingAndGlyphs">100</text>
<line x1="200.7" y1="505.2" x2="204.1" y2="505.2" stroke="#111" stroke-width="0.9"/>
<text x="197.9" y="507.68" font-size="7.2" text-anchor="end" fill="#231f20" stroke="#231f20" stroke-width="0.09" textLength="7.23" lengthAdjust="spacingAndGlyphs">75</text>
<line x1="200.7" y1="516.2" x2="204.1" y2="516.2" stroke="#111" stroke-width="0.9"/>
<text x="197.9" y="518.68" font-size="7.2" text-anchor="end" fill="#231f20" stroke="#231f20" stroke-width="0.09" textLength="7.23" lengthAdjust="spacingAndGlyphs">50</text>
<line x1="200.7" y1="527.2" x2="204.1" y2="527.2" stroke="#111" stroke-width="0.9"/>
<text x="197.9" y="529.68" font-size="7.2" text-anchor="end" fill="#231f20" stroke="#231f20" stroke-width="0.09" textLength="7.23" lengthAdjust="spacingAndGlyphs">25</text>
<line x1="200.7" y1="538.2" x2="204.1" y2="538.2" stroke="#111" stroke-width="0.9"/>
<text x="197.9" y="540.68" font-size="7.2" text-anchor="end" fill="#231f20" stroke="#231f20" stroke-width="0.09" textLength="3.61" lengthAdjust="spacingAndGlyphs">0</text>
<line x1="200.7" y1="549.2" x2="204.1" y2="549.2" stroke="#111" stroke-width="0.9"/>
<text x="197.9" y="551.68" font-size="7.2" text-anchor="end" fill="#231f20" stroke="#231f20" stroke-width="0.09" textLength="11.03" lengthAdjust="spacingAndGlyphs">−25</text>
<line x1="208.1" y1="553.3" x2="208.1" y2="556.7" stroke="#111" stroke-width="0.9"/>
<text x="208.1" y="566.68" font-size="7.2" text-anchor="middle" fill="#231f20" stroke="#231f20" stroke-width="0.09" textLength="9.45" lengthAdjust="spacingAndGlyphs">2.5</text>
<line x1="227.9" y1="553.3" x2="227.9" y2="556.7" stroke="#111" stroke-width="0.9"/>
<text x="227.9" y="566.68" font-size="7.2" text-anchor="middle" fill="#231f20" stroke="#231f20" stroke-width="0.09" textLength="7.56" lengthAdjust="spacingAndGlyphs">25</text>
<line x1="247.7" y1="553.3" x2="247.7" y2="556.7" stroke="#111" stroke-width="0.9"/>
<text x="247.7" y="566.68" font-size="7.2" text-anchor="middle" fill="#231f20" stroke="#231f20" stroke-width="0.09" textLength="11.34" lengthAdjust="spacingAndGlyphs">250</text>
<line x1="267.5" y1="553.3" x2="267.5" y2="556.7" stroke="#111" stroke-width="0.9"/>
<text x="267.5" y="566.68" font-size="7.2" text-anchor="middle" fill="#231f20" stroke="#231f20" stroke-width="0.09" textLength="15.13" lengthAdjust="spacingAndGlyphs">2500</text>
<line x1="287.3" y1="553.3" x2="287.3" y2="556.7" stroke="#111" stroke-width="0.9"/>
<text x="287.3" y="566.68" font-size="7.2" text-anchor="middle" fill="#231f20" stroke="#231f20" stroke-width="0.09" textLength="18.91" lengthAdjust="spacingAndGlyphs">25000</text>
<text x="248.9" y="579.02" font-size="8.75" text-anchor="middle" fill="#231f20" stroke="#231f20" stroke-width="0.18" textLength="43.1" lengthAdjust="spacingAndGlyphs">LCL-161 (nM)</text>
<text transform="translate(166.2,522.5) rotate(-90)" x="0" y="2.94" font-size="8.52" text-anchor="middle" fill="#231f20" stroke="#231f20" stroke-width="0.18" textLength="47.4" lengthAdjust="spacingAndGlyphs">% inhibition of</text>
<text transform="translate(177.6,522.5) rotate(-90)" x="0" y="2.94" font-size="8.52" text-anchor="middle" fill="#231f20" stroke="#231f20" stroke-width="0.18" textLength="58.8" lengthAdjust="spacingAndGlyphs">target cell viability</text>
<line x1="208.1" y1="530.28" x2="208.1" y2="536" stroke="#c2561f" stroke-width="0.8"/>
<line x1="218" y1="528.52" x2="218" y2="534.68" stroke="#c2561f" stroke-width="0.8"/>
<line x1="227.9" y1="525" x2="227.9" y2="532.92" stroke="#c2561f" stroke-width="0.8"/>
<line x1="237.8" y1="522.8" x2="237.8" y2="531.6" stroke="#c2561f" stroke-width="0.8"/>
<line x1="247.7" y1="518.4" x2="247.7" y2="532.92" stroke="#c2561f" stroke-width="0.8"/>
<line x1="257.6" y1="516.2" x2="257.6" y2="533.8" stroke="#c2561f" stroke-width="0.8"/>
<line x1="267.5" y1="515.32" x2="267.5" y2="533.8" stroke="#c2561f" stroke-width="0.8"/>
<line x1="277.4" y1="516.2" x2="277.4" y2="534.68" stroke="#c2561f" stroke-width="0.8"/>
<line x1="287.3" y1="512.68" x2="287.3" y2="536" stroke="#c2561f" stroke-width="0.8"/>
<circle cx="207.81" cy="540.85" r="0.95" fill="#4ea3d9"/>
<circle cx="207.91" cy="541.44" r="0.95" fill="#4ea3d9"/>
<circle cx="208.28" cy="544.51" r="0.95" fill="#4ea3d9"/>
<circle cx="208.08" cy="543.32" r="0.95" fill="#4ea3d9"/>
<circle cx="208.13" cy="539.43" r="0.95" fill="#4ea3d9"/>
<circle cx="208.11" cy="542.24" r="0.95" fill="#4ea3d9"/>
<circle cx="208.27" cy="540.63" r="0.95" fill="#4ea3d9"/>
<circle cx="208.14" cy="543.79" r="0.95" fill="#4ea3d9"/>
<circle cx="207.97" cy="534.95" r="0.95" fill="#ee9a4a"/>
<circle cx="208.1" cy="531.27" r="0.95" fill="#ee9a4a"/>
<circle cx="208.26" cy="532.75" r="0.95" fill="#ee9a4a"/>
<circle cx="208.07" cy="530.28" r="0.95" fill="#ee9a4a"/>
<circle cx="208.1" cy="532.39" r="0.95" fill="#ee9a4a"/>
<circle cx="208.22" cy="533.1" r="0.95" fill="#ee9a4a"/>
<circle cx="218.02" cy="539.86" r="0.95" fill="#4ea3d9"/>
<circle cx="218.26" cy="539.67" r="0.95" fill="#4ea3d9"/>
<circle cx="218.23" cy="538.12" r="0.95" fill="#4ea3d9"/>
<circle cx="217.86" cy="536.41" r="0.95" fill="#4ea3d9"/>
<circle cx="218.27" cy="539.1" r="0.95" fill="#4ea3d9"/>
<circle cx="217.78" cy="537.13" r="0.95" fill="#4ea3d9"/>
<circle cx="217.97" cy="542.18" r="0.95" fill="#4ea3d9"/>
<circle cx="217.84" cy="542.53" r="0.95" fill="#4ea3d9"/>
<circle cx="218.1" cy="533.63" r="0.95" fill="#ee9a4a"/>
<circle cx="218.24" cy="529.88" r="0.95" fill="#ee9a4a"/>
<circle cx="218.13" cy="533.2" r="0.95" fill="#ee9a4a"/>
<circle cx="217.79" cy="530.53" r="0.95" fill="#ee9a4a"/>
<circle cx="218.28" cy="529.36" r="0.95" fill="#ee9a4a"/>
<circle cx="218.27" cy="532.86" r="0.95" fill="#ee9a4a"/>
<circle cx="227.89" cy="538.83" r="0.95" fill="#4ea3d9"/>
<circle cx="228.1" cy="532.59" r="0.95" fill="#4ea3d9"/>
<circle cx="227.86" cy="541.33" r="0.95" fill="#4ea3d9"/>
<circle cx="227.8" cy="537.6" r="0.95" fill="#4ea3d9"/>
<circle cx="227.79" cy="540.97" r="0.95" fill="#4ea3d9"/>
<circle cx="227.61" cy="535.41" r="0.95" fill="#4ea3d9"/>
<circle cx="227.86" cy="537.19" r="0.95" fill="#4ea3d9"/>
<circle cx="227.8" cy="542.85" r="0.95" fill="#4ea3d9"/>
<circle cx="227.91" cy="528.09" r="0.95" fill="#ee9a4a"/>
<circle cx="228.19" cy="533.01" r="0.95" fill="#ee9a4a"/>
<circle cx="228.18" cy="526.64" r="0.95" fill="#ee9a4a"/>
<circle cx="227.76" cy="532.66" r="0.95" fill="#ee9a4a"/>
<circle cx="228.07" cy="533.23" r="0.95" fill="#ee9a4a"/>
<circle cx="227.68" cy="531.2" r="0.95" fill="#ee9a4a"/>
<circle cx="238.05" cy="537.87" r="0.95" fill="#4ea3d9"/>
<circle cx="237.66" cy="534.38" r="0.95" fill="#4ea3d9"/>
<circle cx="238.05" cy="540.27" r="0.95" fill="#4ea3d9"/>
<circle cx="237.92" cy="536.57" r="0.95" fill="#4ea3d9"/>
<circle cx="237.53" cy="540.8" r="0.95" fill="#4ea3d9"/>
<circle cx="237.76" cy="535.53" r="0.95" fill="#4ea3d9"/>
<circle cx="238.06" cy="540.95" r="0.95" fill="#4ea3d9"/>
<circle cx="237.98" cy="536" r="0.95" fill="#4ea3d9"/>
<circle cx="238.01" cy="531.08" r="0.95" fill="#ee9a4a"/>
<circle cx="238.02" cy="531.23" r="0.95" fill="#ee9a4a"/>
<circle cx="237.7" cy="527.83" r="0.95" fill="#ee9a4a"/>
<circle cx="238.06" cy="526.95" r="0.95" fill="#ee9a4a"/>
<circle cx="237.58" cy="529.46" r="0.95" fill="#ee9a4a"/>
<circle cx="237.64" cy="527.18" r="0.95" fill="#ee9a4a"/>
<circle cx="247.5" cy="540.32" r="0.95" fill="#4ea3d9"/>
<circle cx="247.52" cy="540.84" r="0.95" fill="#4ea3d9"/>
<circle cx="247.58" cy="538.53" r="0.95" fill="#4ea3d9"/>
<circle cx="247.57" cy="534.6" r="0.95" fill="#4ea3d9"/>
<circle cx="247.51" cy="536.88" r="0.95" fill="#4ea3d9"/>
<circle cx="247.41" cy="538.23" r="0.95" fill="#4ea3d9"/>
<circle cx="247.41" cy="539.08" r="0.95" fill="#4ea3d9"/>
<circle cx="247.73" cy="534.83" r="0.95" fill="#4ea3d9"/>
<circle cx="247.68" cy="530.15" r="0.95" fill="#ee9a4a"/>
<circle cx="247.46" cy="520.97" r="0.95" fill="#ee9a4a"/>
<circle cx="247.66" cy="522.39" r="0.95" fill="#ee9a4a"/>
<circle cx="247.9" cy="526.38" r="0.95" fill="#ee9a4a"/>
<circle cx="247.7" cy="527.64" r="0.95" fill="#ee9a4a"/>
<circle cx="247.99" cy="524.01" r="0.95" fill="#ee9a4a"/>
<circle cx="257.8" cy="537.82" r="0.95" fill="#4ea3d9"/>
<circle cx="257.68" cy="534.62" r="0.95" fill="#4ea3d9"/>
<circle cx="257.51" cy="537.28" r="0.95" fill="#4ea3d9"/>
<circle cx="257.38" cy="540.36" r="0.95" fill="#4ea3d9"/>
<circle cx="257.74" cy="540.22" r="0.95" fill="#4ea3d9"/>
<circle cx="257.4" cy="538.59" r="0.95" fill="#4ea3d9"/>
<circle cx="257.8" cy="540.1" r="0.95" fill="#4ea3d9"/>
<circle cx="257.7" cy="533.18" r="0.95" fill="#4ea3d9"/>
<circle cx="257.45" cy="528.86" r="0.95" fill="#ee9a4a"/>
<circle cx="257.58" cy="528.71" r="0.95" fill="#ee9a4a"/>
<circle cx="257.57" cy="530.61" r="0.95" fill="#ee9a4a"/>
<circle cx="257.88" cy="529.13" r="0.95" fill="#ee9a4a"/>
<circle cx="257.63" cy="519.14" r="0.95" fill="#ee9a4a"/>
<circle cx="257.88" cy="529.39" r="0.95" fill="#ee9a4a"/>
<circle cx="267.41" cy="538.12" r="0.95" fill="#4ea3d9"/>
<circle cx="267.43" cy="540.83" r="0.95" fill="#4ea3d9"/>
<circle cx="267.5" cy="536.66" r="0.95" fill="#4ea3d9"/>
<circle cx="267.5" cy="539.07" r="0.95" fill="#4ea3d9"/>
<circle cx="267.36" cy="540.8" r="0.95" fill="#4ea3d9"/>
<circle cx="267.44" cy="540.05" r="0.95" fill="#4ea3d9"/>
<circle cx="267.21" cy="540.47" r="0.95" fill="#4ea3d9"/>
<circle cx="267.34" cy="538.16" r="0.95" fill="#4ea3d9"/>
<circle cx="267.52" cy="524.16" r="0.95" fill="#ee9a4a"/>
<circle cx="267.59" cy="521.69" r="0.95" fill="#ee9a4a"/>
<circle cx="267.73" cy="522.21" r="0.95" fill="#ee9a4a"/>
<circle cx="267.4" cy="527.09" r="0.95" fill="#ee9a4a"/>
<circle cx="267.29" cy="518.19" r="0.95" fill="#ee9a4a"/>
<circle cx="267.59" cy="522.09" r="0.95" fill="#ee9a4a"/>
<circle cx="277.6" cy="540.45" r="0.95" fill="#4ea3d9"/>
<circle cx="277.48" cy="532.99" r="0.95" fill="#4ea3d9"/>
<circle cx="277.59" cy="534.38" r="0.95" fill="#4ea3d9"/>
<circle cx="277.41" cy="539.61" r="0.95" fill="#4ea3d9"/>
<circle cx="277.6" cy="536.4" r="0.95" fill="#4ea3d9"/>
<circle cx="277.6" cy="533.76" r="0.95" fill="#4ea3d9"/>
<circle cx="277.64" cy="535.7" r="0.95" fill="#4ea3d9"/>
<circle cx="277.52" cy="534.83" r="0.95" fill="#4ea3d9"/>
<circle cx="277.12" cy="529.24" r="0.95" fill="#ee9a4a"/>
<circle cx="277.32" cy="530.61" r="0.95" fill="#ee9a4a"/>
<circle cx="277.6" cy="531" r="0.95" fill="#ee9a4a"/>
<circle cx="277.48" cy="524.62" r="0.95" fill="#ee9a4a"/>
<circle cx="277.51" cy="523.66" r="0.95" fill="#ee9a4a"/>
<circle cx="277.1" cy="525.59" r="0.95" fill="#ee9a4a"/>
<circle cx="287.45" cy="533.82" r="0.95" fill="#4ea3d9"/>
<circle cx="287.32" cy="536.41" r="0.95" fill="#4ea3d9"/>
<circle cx="287.04" cy="535.04" r="0.95" fill="#4ea3d9"/>
<circle cx="287.15" cy="534.36" r="0.95" fill="#4ea3d9"/>
<circle cx="287.16" cy="540.18" r="0.95" fill="#4ea3d9"/>
<circle cx="287.12" cy="534.42" r="0.95" fill="#4ea3d9"/>
<circle cx="287.59" cy="534.33" r="0.95" fill="#4ea3d9"/>
<circle cx="287.23" cy="536.49" r="0.95" fill="#4ea3d9"/>
<circle cx="287.41" cy="525.77" r="0.95" fill="#ee9a4a"/>
<circle cx="287.37" cy="521.21" r="0.95" fill="#ee9a4a"/>
<circle cx="287.05" cy="523.18" r="0.95" fill="#ee9a4a"/>
<circle cx="287.15" cy="531.02" r="0.95" fill="#ee9a4a"/>
<circle cx="287.18" cy="521.59" r="0.95" fill="#ee9a4a"/>
<circle cx="287.01" cy="524.37" r="0.95" fill="#ee9a4a"/>
<circle cx="208.1" cy="524.12" r="1" fill="#ee9a4a"/>
<circle cx="227.9" cy="519.72" r="1" fill="#ee9a4a"/>
<circle cx="237.8" cy="518.84" r="1" fill="#ee9a4a"/>
<circle cx="247.7" cy="511.8" r="1" fill="#ee9a4a"/>
<circle cx="257.6" cy="509.6" r="1" fill="#ee9a4a"/>
<circle cx="267.5" cy="507.84" r="1" fill="#ee9a4a"/>
<circle cx="277.4" cy="506.08" r="1" fill="#ee9a4a"/>
<circle cx="287.3" cy="505.2" r="1" fill="#ee9a4a"/>
<circle cx="287.3" cy="507.4" r="1" fill="#ee9a4a"/>
<circle cx="237.8" cy="547.44" r="1" fill="#ee9a4a"/>
<circle cx="287.3" cy="546.12" r="1" fill="#ee9a4a"/>
<circle cx="277.4" cy="510.48" r="1" fill="#ee9a4a"/>
<circle cx="227.9" cy="545.24" r="1" fill="#4ea3d9"/>
<circle cx="277.4" cy="546.12" r="1" fill="#4ea3d9"/>
<circle cx="247.7" cy="543.48" r="1" fill="#4ea3d9"/>
<circle cx="208.1" cy="546.12" r="1" fill="#4ea3d9"/>
<polyline points="208.1,541.02 209.34,540.83 210.57,540.65 211.81,540.47 213.05,540.28 214.29,540.1 215.53,539.91 216.76,539.72 218,539.52 219.24,539.3 220.47,539.07 221.71,538.83 222.95,538.58 224.19,538.34 225.43,538.12 226.66,537.92 227.9,537.76 229.14,537.63 230.38,537.53 231.61,537.45 232.85,537.38 234.09,537.33 235.33,537.28 236.56,537.24 237.8,537.19 239.04,537.14 240.28,537.1 241.51,537.06 242.75,537.03 243.99,536.99 245.23,536.96 246.46,536.92 247.7,536.88 248.94,536.83 250.17,536.77 251.41,536.71 252.65,536.64 253.89,536.58 255.12,536.52 256.36,536.47 257.6,536.44 258.84,536.42 260.08,536.41 261.31,536.41 262.55,536.41 263.79,536.42 265.03,536.43 266.26,536.44 267.5,536.44 268.74,536.44 269.98,536.44 271.21,536.44 272.45,536.44 273.69,536.44 274.92,536.44 276.16,536.44 277.4,536.44 278.64,536.44 279.88,536.44 281.11,536.44 282.35,536.44 283.59,536.44 284.82,536.44 286.06,536.44 287.3,536.44" fill="none" stroke="#2c7bbf" stroke-width="1.1"/>
<polyline points="208.1,533.18 209.34,532.96 210.57,532.74 211.81,532.52 213.05,532.31 214.29,532.09 215.53,531.86 216.76,531.62 218,531.38 219.24,531.12 220.47,530.85 221.71,530.56 222.95,530.28 224.19,529.99 225.43,529.71 226.66,529.44 227.9,529.18 229.14,528.93 230.38,528.69 231.61,528.46 232.85,528.23 234.09,528.01 235.33,527.8 236.56,527.61 237.8,527.42 239.04,527.25 240.28,527.09 241.51,526.93 242.75,526.79 243.99,526.66 245.23,526.54 246.46,526.43 247.7,526.32 248.94,526.23 250.17,526.14 251.41,526.07 252.65,526.01 253.89,525.95 255.12,525.9 256.36,525.85 257.6,525.79 258.84,525.74 260.08,525.68 261.31,525.63 262.55,525.58 263.79,525.54 265.03,525.5 266.26,525.47 267.5,525.44 268.74,525.42 269.98,525.42 271.21,525.41 272.45,525.42 273.69,525.42 274.92,525.43 276.16,525.44 277.4,525.44 278.64,525.44 279.88,525.44 281.11,525.44 282.35,525.44 283.59,525.44 284.82,525.44 286.06,525.44 287.3,525.44" fill="none" stroke="#c2561f" stroke-width="1.1"/>
<circle cx="208.1" cy="541.02" r="1.4" fill="#1763a8"/>
<circle cx="208.1" cy="533.18" r="1.4" fill="#bf4a12"/>
<circle cx="218" cy="539.52" r="1.4" fill="#1763a8"/>
<circle cx="218" cy="531.38" r="1.4" fill="#bf4a12"/>
<circle cx="227.9" cy="537.76" r="1.4" fill="#1763a8"/>
<circle cx="227.9" cy="529.18" r="1.4" fill="#bf4a12"/>
<circle cx="237.8" cy="537.19" r="1.4" fill="#1763a8"/>
<circle cx="237.8" cy="527.42" r="1.4" fill="#bf4a12"/>
<circle cx="247.7" cy="536.88" r="1.4" fill="#1763a8"/>
<circle cx="247.7" cy="526.32" r="1.4" fill="#bf4a12"/>
<circle cx="257.6" cy="536.44" r="1.4" fill="#1763a8"/>
<circle cx="257.6" cy="525.79" r="1.4" fill="#bf4a12"/>
<circle cx="267.5" cy="536.44" r="1.4" fill="#1763a8"/>
<circle cx="267.5" cy="525.44" r="1.4" fill="#bf4a12"/>
<circle cx="277.4" cy="536.44" r="1.4" fill="#1763a8"/>
<circle cx="277.4" cy="525.44" r="1.4" fill="#bf4a12"/>
<circle cx="287.3" cy="536.44" r="1.4" fill="#1763a8"/>
<circle cx="287.3" cy="525.44" r="1.4" fill="#bf4a12"/>
<path d="M358.5,491.5 V553.3 H445" fill="none" stroke="#111" stroke-width="1"/>
<line x1="355.1" y1="494.2" x2="358.5" y2="494.2" stroke="#111" stroke-width="0.9"/>
<text x="352.3" y="496.68" font-size="7.2" text-anchor="end" fill="#231f20" stroke="#231f20" stroke-width="0.09" textLength="10.84" lengthAdjust="spacingAndGlyphs">100</text>
<line x1="355.1" y1="505.2" x2="358.5" y2="505.2" stroke="#111" stroke-width="0.9"/>
<text x="352.3" y="507.68" font-size="7.2" text-anchor="end" fill="#231f20" stroke="#231f20" stroke-width="0.09" textLength="7.23" lengthAdjust="spacingAndGlyphs">75</text>
<line x1="355.1" y1="516.2" x2="358.5" y2="516.2" stroke="#111" stroke-width="0.9"/>
<text x="352.3" y="518.68" font-size="7.2" text-anchor="end" fill="#231f20" stroke="#231f20" stroke-width="0.09" textLength="7.23" lengthAdjust="spacingAndGlyphs">50</text>
<line x1="355.1" y1="527.2" x2="358.5" y2="527.2" stroke="#111" stroke-width="0.9"/>
<text x="352.3" y="529.68" font-size="7.2" text-anchor="end" fill="#231f20" stroke="#231f20" stroke-width="0.09" textLength="7.23" lengthAdjust="spacingAndGlyphs">25</text>
<line x1="355.1" y1="538.2" x2="358.5" y2="538.2" stroke="#111" stroke-width="0.9"/>
<text x="352.3" y="540.68" font-size="7.2" text-anchor="end" fill="#231f20" stroke="#231f20" stroke-width="0.09" textLength="3.61" lengthAdjust="spacingAndGlyphs">0</text>
<line x1="355.1" y1="549.2" x2="358.5" y2="549.2" stroke="#111" stroke-width="0.9"/>
<text x="352.3" y="551.68" font-size="7.2" text-anchor="end" fill="#231f20" stroke="#231f20" stroke-width="0.09" textLength="11.03" lengthAdjust="spacingAndGlyphs">−25</text>
<line x1="363" y1="553.3" x2="363" y2="556.7" stroke="#111" stroke-width="0.9"/>
<text x="363" y="566.68" font-size="7.2" text-anchor="middle" fill="#231f20" stroke="#231f20" stroke-width="0.09" textLength="3.78" lengthAdjust="spacingAndGlyphs">1</text>
<line x1="382.8" y1="553.3" x2="382.8" y2="556.7" stroke="#111" stroke-width="0.9"/>
<text x="382.8" y="566.68" font-size="7.2" text-anchor="middle" fill="#231f20" stroke="#231f20" stroke-width="0.09" textLength="7.56" lengthAdjust="spacingAndGlyphs">10</text>
<line x1="402.6" y1="553.3" x2="402.6" y2="556.7" stroke="#111" stroke-width="0.9"/>
<text x="402.6" y="566.68" font-size="7.2" text-anchor="middle" fill="#231f20" stroke="#231f20" stroke-width="0.09" textLength="11.34" lengthAdjust="spacingAndGlyphs">100</text>
<line x1="422.4" y1="553.3" x2="422.4" y2="556.7" stroke="#111" stroke-width="0.9"/>
<text x="422.4" y="566.68" font-size="7.2" text-anchor="middle" fill="#231f20" stroke="#231f20" stroke-width="0.09" textLength="15.13" lengthAdjust="spacingAndGlyphs">1000</text>
<line x1="442.2" y1="553.3" x2="442.2" y2="556.7" stroke="#111" stroke-width="0.9"/>
<text x="442.2" y="566.68" font-size="7.2" text-anchor="middle" fill="#231f20" stroke="#231f20" stroke-width="0.09" textLength="18.91" lengthAdjust="spacingAndGlyphs">10000</text>
<text x="403.25" y="579.02" font-size="8.75" text-anchor="middle" fill="#231f20" stroke="#231f20" stroke-width="0.18" textLength="40.2" lengthAdjust="spacingAndGlyphs">AT-406 (nM)</text>
<text transform="translate(320.6,522.5) rotate(-90)" x="0" y="2.94" font-size="8.52" text-anchor="middle" fill="#231f20" stroke="#231f20" stroke-width="0.18" textLength="47.4" lengthAdjust="spacingAndGlyphs">% inhibition of</text>
<text transform="translate(332,522.5) rotate(-90)" x="0" y="2.94" font-size="8.52" text-anchor="middle" fill="#231f20" stroke="#231f20" stroke-width="0.18" textLength="58.8" lengthAdjust="spacingAndGlyphs">target cell viability</text>
<line x1="363" y1="535.56" x2="363" y2="541.72" stroke="#c2561f" stroke-width="0.8"/>
<line x1="372.9" y1="531.6" x2="372.9" y2="540.4" stroke="#c2561f" stroke-width="0.8"/>
<line x1="382.8" y1="532.92" x2="382.8" y2="539.08" stroke="#c2561f" stroke-width="0.8"/>
<line x1="392.7" y1="528.52" x2="392.7" y2="538.2" stroke="#c2561f" stroke-width="0.8"/>
<line x1="402.6" y1="524.12" x2="402.6" y2="536" stroke="#c2561f" stroke-width="0.8"/>
<line x1="412.5" y1="520.6" x2="412.5" y2="532.92" stroke="#c2561f" stroke-width="0.8"/>
<line x1="422.4" y1="515.32" x2="422.4" y2="533.8" stroke="#c2561f" stroke-width="0.8"/>
<line x1="432.3" y1="515.32" x2="432.3" y2="532.92" stroke="#c2561f" stroke-width="0.8"/>
<line x1="442.2" y1="516.2" x2="442.2" y2="533.8" stroke="#c2561f" stroke-width="0.8"/>
<circle cx="362.86" cy="543.49" r="0.95" fill="#4ea3d9"/>
<circle cx="363.12" cy="539.19" r="0.95" fill="#4ea3d9"/>
<circle cx="362.87" cy="539.16" r="0.95" fill="#4ea3d9"/>
<circle cx="362.98" cy="540.28" r="0.95" fill="#4ea3d9"/>
<circle cx="362.77" cy="540.64" r="0.95" fill="#4ea3d9"/>
<circle cx="362.82" cy="537.63" r="0.95" fill="#4ea3d9"/>
<circle cx="363.26" cy="537.03" r="0.95" fill="#4ea3d9"/>
<circle cx="362.98" cy="543.8" r="0.95" fill="#4ea3d9"/>
<circle cx="363.28" cy="536.83" r="0.95" fill="#ee9a4a"/>
<circle cx="362.86" cy="539.44" r="0.95" fill="#ee9a4a"/>
<circle cx="363.27" cy="541.12" r="0.95" fill="#ee9a4a"/>
<circle cx="363.05" cy="541.12" r="0.95" fill="#ee9a4a"/>
<circle cx="363.01" cy="541.6" r="0.95" fill="#ee9a4a"/>
<circle cx="362.78" cy="535.89" r="0.95" fill="#ee9a4a"/>
<circle cx="372.91" cy="537.14" r="0.95" fill="#4ea3d9"/>
<circle cx="373.02" cy="536.56" r="0.95" fill="#4ea3d9"/>
<circle cx="373.14" cy="542.32" r="0.95" fill="#4ea3d9"/>
<circle cx="372.61" cy="540.08" r="0.95" fill="#4ea3d9"/>
<circle cx="372.9" cy="544.33" r="0.95" fill="#4ea3d9"/>
<circle cx="372.78" cy="540.39" r="0.95" fill="#4ea3d9"/>
<circle cx="372.81" cy="543.12" r="0.95" fill="#4ea3d9"/>
<circle cx="373.1" cy="541.58" r="0.95" fill="#4ea3d9"/>
<circle cx="373.05" cy="543.46" r="0.95" fill="#ee9a4a"/>
<circle cx="372.67" cy="534.62" r="0.95" fill="#ee9a4a"/>
<circle cx="373.03" cy="533.7" r="0.95" fill="#ee9a4a"/>
<circle cx="372.77" cy="533.96" r="0.95" fill="#ee9a4a"/>
<circle cx="372.84" cy="539.55" r="0.95" fill="#ee9a4a"/>
<circle cx="372.95" cy="532.93" r="0.95" fill="#ee9a4a"/>
<circle cx="382.76" cy="540.31" r="0.95" fill="#4ea3d9"/>
<circle cx="382.53" cy="541.06" r="0.95" fill="#4ea3d9"/>
<circle cx="383" cy="542.58" r="0.95" fill="#4ea3d9"/>
<circle cx="383.06" cy="540.97" r="0.95" fill="#4ea3d9"/>
<circle cx="382.66" cy="541.29" r="0.95" fill="#4ea3d9"/>
<circle cx="382.61" cy="538.98" r="0.95" fill="#4ea3d9"/>
<circle cx="383.07" cy="540.19" r="0.95" fill="#4ea3d9"/>
<circle cx="382.99" cy="535.7" r="0.95" fill="#4ea3d9"/>
<circle cx="383.05" cy="535.52" r="0.95" fill="#ee9a4a"/>
<circle cx="382.83" cy="533.34" r="0.95" fill="#ee9a4a"/>
<circle cx="382.53" cy="534.89" r="0.95" fill="#ee9a4a"/>
<circle cx="382.77" cy="534.8" r="0.95" fill="#ee9a4a"/>
<circle cx="382.89" cy="534.66" r="0.95" fill="#ee9a4a"/>
<circle cx="382.53" cy="537.95" r="0.95" fill="#ee9a4a"/>
<circle cx="392.48" cy="535.64" r="0.95" fill="#4ea3d9"/>
<circle cx="392.61" cy="538.84" r="0.95" fill="#4ea3d9"/>
<circle cx="392.84" cy="540.06" r="0.95" fill="#4ea3d9"/>
<circle cx="392.56" cy="535.29" r="0.95" fill="#4ea3d9"/>
<circle cx="392.58" cy="537.54" r="0.95" fill="#4ea3d9"/>
<circle cx="392.64" cy="538.24" r="0.95" fill="#4ea3d9"/>
<circle cx="392.5" cy="540.98" r="0.95" fill="#4ea3d9"/>
<circle cx="392.94" cy="540.7" r="0.95" fill="#4ea3d9"/>
<circle cx="392.53" cy="534.27" r="0.95" fill="#ee9a4a"/>
<circle cx="393" cy="529.95" r="0.95" fill="#ee9a4a"/>
<circle cx="392.48" cy="534.77" r="0.95" fill="#ee9a4a"/>
<circle cx="392.45" cy="537.49" r="0.95" fill="#ee9a4a"/>
<circle cx="392.45" cy="535.91" r="0.95" fill="#ee9a4a"/>
<circle cx="392.56" cy="536.99" r="0.95" fill="#ee9a4a"/>
<circle cx="402.83" cy="537.59" r="0.95" fill="#4ea3d9"/>
<circle cx="402.55" cy="536" r="0.95" fill="#4ea3d9"/>
<circle cx="402.61" cy="538.96" r="0.95" fill="#4ea3d9"/>
<circle cx="402.5" cy="539.28" r="0.95" fill="#4ea3d9"/>
<circle cx="402.47" cy="542.05" r="0.95" fill="#4ea3d9"/>
<circle cx="402.38" cy="534.08" r="0.95" fill="#4ea3d9"/>
<circle cx="402.68" cy="538.17" r="0.95" fill="#4ea3d9"/>
<circle cx="402.43" cy="535.01" r="0.95" fill="#4ea3d9"/>
<circle cx="402.45" cy="533.32" r="0.95" fill="#ee9a4a"/>
<circle cx="402.57" cy="531.73" r="0.95" fill="#ee9a4a"/>
<circle cx="402.81" cy="524.91" r="0.95" fill="#ee9a4a"/>
<circle cx="402.31" cy="525.91" r="0.95" fill="#ee9a4a"/>
<circle cx="402.73" cy="536.26" r="0.95" fill="#ee9a4a"/>
<circle cx="402.58" cy="525.63" r="0.95" fill="#ee9a4a"/>
<circle cx="412.2" cy="537.43" r="0.95" fill="#4ea3d9"/>
<circle cx="412.76" cy="539.15" r="0.95" fill="#4ea3d9"/>
<circle cx="412.71" cy="535.33" r="0.95" fill="#4ea3d9"/>
<circle cx="412.35" cy="534.04" r="0.95" fill="#4ea3d9"/>
<circle cx="412.29" cy="541.64" r="0.95" fill="#4ea3d9"/>
<circle cx="412.61" cy="538" r="0.95" fill="#4ea3d9"/>
<circle cx="412.63" cy="534.31" r="0.95" fill="#4ea3d9"/>
<circle cx="412.66" cy="536.9" r="0.95" fill="#4ea3d9"/>
<circle cx="412.53" cy="527.42" r="0.95" fill="#ee9a4a"/>
<circle cx="412.67" cy="532.56" r="0.95" fill="#ee9a4a"/>
<circle cx="412.75" cy="530.19" r="0.95" fill="#ee9a4a"/>
<circle cx="412.38" cy="525.1" r="0.95" fill="#ee9a4a"/>
<circle cx="412.35" cy="531.48" r="0.95" fill="#ee9a4a"/>
<circle cx="412.62" cy="525.21" r="0.95" fill="#ee9a4a"/>
<circle cx="422.14" cy="541.61" r="0.95" fill="#4ea3d9"/>
<circle cx="422.45" cy="537.98" r="0.95" fill="#4ea3d9"/>
<circle cx="422.23" cy="539.18" r="0.95" fill="#4ea3d9"/>
<circle cx="422.11" cy="537.31" r="0.95" fill="#4ea3d9"/>
<circle cx="422.38" cy="539.95" r="0.95" fill="#4ea3d9"/>
<circle cx="422.49" cy="534.16" r="0.95" fill="#4ea3d9"/>
<circle cx="422.39" cy="534.82" r="0.95" fill="#4ea3d9"/>
<circle cx="422.25" cy="540.53" r="0.95" fill="#4ea3d9"/>
<circle cx="422.52" cy="517.7" r="0.95" fill="#ee9a4a"/>
<circle cx="422.11" cy="528.05" r="0.95" fill="#ee9a4a"/>
<circle cx="422.5" cy="525.03" r="0.95" fill="#ee9a4a"/>
<circle cx="422.25" cy="526.27" r="0.95" fill="#ee9a4a"/>
<circle cx="422.66" cy="522.35" r="0.95" fill="#ee9a4a"/>
<circle cx="422.12" cy="529.33" r="0.95" fill="#ee9a4a"/>
<circle cx="432.25" cy="539.63" r="0.95" fill="#4ea3d9"/>
<circle cx="432.12" cy="536.59" r="0.95" fill="#4ea3d9"/>
<circle cx="432.44" cy="535.59" r="0.95" fill="#4ea3d9"/>
<circle cx="432.12" cy="538.16" r="0.95" fill="#4ea3d9"/>
<circle cx="432.19" cy="534.07" r="0.95" fill="#4ea3d9"/>
<circle cx="432.14" cy="535.38" r="0.95" fill="#4ea3d9"/>
<circle cx="432.46" cy="540.65" r="0.95" fill="#4ea3d9"/>
<circle cx="432.57" cy="540" r="0.95" fill="#4ea3d9"/>
<circle cx="432.11" cy="524.8" r="0.95" fill="#ee9a4a"/>
<circle cx="432.25" cy="528.63" r="0.95" fill="#ee9a4a"/>
<circle cx="432.57" cy="522.41" r="0.95" fill="#ee9a4a"/>
<circle cx="432.24" cy="529.71" r="0.95" fill="#ee9a4a"/>
<circle cx="432.58" cy="528.78" r="0.95" fill="#ee9a4a"/>
<circle cx="432.03" cy="529.78" r="0.95" fill="#ee9a4a"/>
<circle cx="442.14" cy="542.07" r="0.95" fill="#4ea3d9"/>
<circle cx="442.43" cy="534.7" r="0.95" fill="#4ea3d9"/>
<circle cx="442.5" cy="536.15" r="0.95" fill="#4ea3d9"/>
<circle cx="442.1" cy="534.4" r="0.95" fill="#4ea3d9"/>
<circle cx="442.46" cy="540.97" r="0.95" fill="#4ea3d9"/>
<circle cx="441.92" cy="536.03" r="0.95" fill="#4ea3d9"/>
<circle cx="442.13" cy="536.75" r="0.95" fill="#4ea3d9"/>
<circle cx="442.1" cy="539.31" r="0.95" fill="#4ea3d9"/>
<circle cx="441.9" cy="530.56" r="0.95" fill="#ee9a4a"/>
<circle cx="442.11" cy="528.61" r="0.95" fill="#ee9a4a"/>
<circle cx="441.97" cy="516.72" r="0.95" fill="#ee9a4a"/>
<circle cx="442.02" cy="516.56" r="0.95" fill="#ee9a4a"/>
<circle cx="442.39" cy="527.26" r="0.95" fill="#ee9a4a"/>
<circle cx="442.16" cy="519.07" r="0.95" fill="#ee9a4a"/>
<circle cx="363" cy="533.36" r="1" fill="#ee9a4a"/>
<circle cx="372.9" cy="526.32" r="1" fill="#ee9a4a"/>
<circle cx="392.7" cy="525" r="1" fill="#ee9a4a"/>
<circle cx="402.6" cy="521.48" r="1" fill="#ee9a4a"/>
<circle cx="412.5" cy="519.28" r="1" fill="#ee9a4a"/>
<circle cx="422.4" cy="511.8" r="1" fill="#ee9a4a"/>
<circle cx="432.3" cy="511.8" r="1" fill="#ee9a4a"/>
<circle cx="442.2" cy="510.04" r="1" fill="#ee9a4a"/>
<circle cx="382.8" cy="546.12" r="1" fill="#ee9a4a"/>
<circle cx="402.6" cy="542.6" r="1" fill="#ee9a4a"/>
<circle cx="372.9" cy="552.72" r="1" fill="#4ea3d9"/>
<circle cx="392.7" cy="546.12" r="1" fill="#4ea3d9"/>
<circle cx="442.2" cy="547.44" r="1" fill="#4ea3d9"/>
<circle cx="382.8" cy="525" r="1" fill="#4ea3d9"/>
<circle cx="422.4" cy="544.36" r="1" fill="#4ea3d9"/>
<polyline points="363,540.4 364.24,540.35 365.48,540.3 366.71,540.25 367.95,540.21 369.19,540.16 370.43,540.1 371.66,540.04 372.9,539.96 374.14,539.87 375.38,539.76 376.61,539.64 377.85,539.52 379.09,539.4 380.32,539.28 381.56,539.17 382.8,539.08 384.04,539 385.28,538.94 386.51,538.88 387.75,538.83 388.99,538.79 390.23,538.74 391.46,538.69 392.7,538.64 393.94,538.58 395.18,538.52 396.41,538.46 397.65,538.39 398.89,538.33 400.12,538.28 401.36,538.23 402.6,538.2 403.84,538.18 405.08,538.17 406.31,538.17 407.55,538.17 408.79,538.18 410.03,538.19 411.26,538.2 412.5,538.2 413.74,538.2 414.98,538.2 416.21,538.2 417.45,538.2 418.69,538.2 419.93,538.2 421.16,538.2 422.4,538.2 423.64,538.2 424.88,538.2 426.11,538.2 427.35,538.2 428.59,538.2 429.82,538.2 431.06,538.2 432.3,538.2 433.54,538.2 434.78,538.2 436.01,538.2 437.25,538.2 438.49,538.2 439.73,538.2 440.96,538.2 442.2,538.2" fill="none" stroke="#2c7bbf" stroke-width="1.1"/>
<polyline points="363,539.08 364.24,538.98 365.48,538.88 366.71,538.79 367.95,538.7 369.19,538.59 370.43,538.48 371.66,538.35 372.9,538.2 374.14,538.03 375.38,537.83 376.61,537.62 377.85,537.4 379.09,537.17 380.32,536.93 381.56,536.69 382.8,536.44 384.04,536.2 385.28,535.96 386.51,535.71 387.75,535.46 388.99,535.2 390.23,534.91 391.46,534.59 392.7,534.24 393.94,533.85 395.18,533.41 396.41,532.94 397.65,532.46 398.89,531.96 400.12,531.46 401.36,530.97 402.6,530.5 403.84,530.03 405.08,529.55 406.31,529.06 407.55,528.58 408.79,528.11 410.03,527.67 411.26,527.26 412.5,526.89 413.74,526.56 414.98,526.26 416.21,525.99 417.45,525.74 418.69,525.51 419.93,525.32 421.16,525.15 422.4,525 423.64,524.89 424.88,524.81 426.11,524.77 427.35,524.75 428.59,524.74 429.82,524.75 431.06,524.75 432.3,524.74 433.54,524.72 434.78,524.72 436.01,524.72 437.25,524.72 438.49,524.72 439.73,524.73 440.96,524.73 442.2,524.74" fill="none" stroke="#c2561f" stroke-width="1.1"/>
<circle cx="363" cy="540.4" r="1.4" fill="#1763a8"/>
<circle cx="363" cy="539.08" r="1.4" fill="#bf4a12"/>
<circle cx="372.9" cy="539.96" r="1.4" fill="#1763a8"/>
<circle cx="372.9" cy="538.2" r="1.4" fill="#bf4a12"/>
<circle cx="382.8" cy="539.08" r="1.4" fill="#1763a8"/>
<circle cx="382.8" cy="536.44" r="1.4" fill="#bf4a12"/>
<circle cx="392.7" cy="538.64" r="1.4" fill="#1763a8"/>
<circle cx="392.7" cy="534.24" r="1.4" fill="#bf4a12"/>
<circle cx="402.6" cy="538.2" r="1.4" fill="#1763a8"/>
<circle cx="402.6" cy="530.5" r="1.4" fill="#bf4a12"/>
<circle cx="412.5" cy="538.2" r="1.4" fill="#1763a8"/>
<circle cx="412.5" cy="526.89" r="1.4" fill="#bf4a12"/>
<circle cx="422.4" cy="538.2" r="1.4" fill="#1763a8"/>
<circle cx="422.4" cy="525" r="1.4" fill="#bf4a12"/>
<circle cx="432.3" cy="538.2" r="1.4" fill="#1763a8"/>
<circle cx="432.3" cy="524.74" r="1.4" fill="#bf4a12"/>
<circle cx="442.2" cy="538.2" r="1.4" fill="#1763a8"/>
<circle cx="442.2" cy="524.74" r="1.4" fill="#bf4a12"/>
<path d="M52.6,591.5 V680.1 H141.9" fill="none" stroke="#111" stroke-width="1"/>
<line x1="49.2" y1="599.4" x2="52.6" y2="599.4" stroke="#111" stroke-width="0.9"/>
<text x="46.4" y="601.88" font-size="7.2" text-anchor="end" fill="#231f20" stroke="#231f20" stroke-width="0.09" textLength="7.23" lengthAdjust="spacingAndGlyphs">50</text>
<line x1="49.2" y1="610.3" x2="52.6" y2="610.3" stroke="#111" stroke-width="0.9"/>
<text x="46.4" y="612.78" font-size="7.2" text-anchor="end" fill="#231f20" stroke="#231f20" stroke-width="0.09" textLength="7.23" lengthAdjust="spacingAndGlyphs">25</text>
<line x1="49.2" y1="621.2" x2="52.6" y2="621.2" stroke="#111" stroke-width="0.9"/>
<text x="46.4" y="623.68" font-size="7.2" text-anchor="end" fill="#231f20" stroke="#231f20" stroke-width="0.09" textLength="3.61" lengthAdjust="spacingAndGlyphs">0</text>
<line x1="49.2" y1="632.1" x2="52.6" y2="632.1" stroke="#111" stroke-width="0.9"/>
<text x="46.4" y="634.58" font-size="7.2" text-anchor="end" fill="#231f20" stroke="#231f20" stroke-width="0.09" textLength="11.03" lengthAdjust="spacingAndGlyphs">−25</text>
<line x1="49.2" y1="643" x2="52.6" y2="643" stroke="#111" stroke-width="0.9"/>
<text x="46.4" y="645.48" font-size="7.2" text-anchor="end" fill="#231f20" stroke="#231f20" stroke-width="0.09" textLength="11.03" lengthAdjust="spacingAndGlyphs">−50</text>
<line x1="49.2" y1="653.9" x2="52.6" y2="653.9" stroke="#111" stroke-width="0.9"/>
<text x="46.4" y="656.38" font-size="7.2" text-anchor="end" fill="#231f20" stroke="#231f20" stroke-width="0.09" textLength="11.03" lengthAdjust="spacingAndGlyphs">−75</text>
<line x1="49.2" y1="664.8" x2="52.6" y2="664.8" stroke="#111" stroke-width="0.9"/>
<text x="46.4" y="667.28" font-size="7.2" text-anchor="end" fill="#231f20" stroke="#231f20" stroke-width="0.09" textLength="14.64" lengthAdjust="spacingAndGlyphs">−100</text>
<line x1="49.2" y1="675.7" x2="52.6" y2="675.7" stroke="#111" stroke-width="0.9"/>
<text x="46.4" y="678.18" font-size="7.2" text-anchor="end" fill="#231f20" stroke="#231f20" stroke-width="0.09" textLength="14.64" lengthAdjust="spacingAndGlyphs">−125</text>
<line x1="57.6" y1="680.1" x2="57.6" y2="683.5" stroke="#111" stroke-width="0.9"/>
<text x="57.6" y="693.48" font-size="7.2" text-anchor="middle" fill="#231f20" stroke="#231f20" stroke-width="0.09" textLength="17.01" lengthAdjust="spacingAndGlyphs">0.025</text>
<line x1="77.4" y1="680.1" x2="77.4" y2="683.5" stroke="#111" stroke-width="0.9"/>
<text x="77.4" y="693.48" font-size="7.2" text-anchor="middle" fill="#231f20" stroke="#231f20" stroke-width="0.09" textLength="13.23" lengthAdjust="spacingAndGlyphs">0.25</text>
<line x1="97.2" y1="680.1" x2="97.2" y2="683.5" stroke="#111" stroke-width="0.9"/>
<text x="97.2" y="693.48" font-size="7.2" text-anchor="middle" fill="#231f20" stroke="#231f20" stroke-width="0.09" textLength="9.45" lengthAdjust="spacingAndGlyphs">2.5</text>
<line x1="117" y1="680.1" x2="117" y2="683.5" stroke="#111" stroke-width="0.9"/>
<text x="117" y="693.48" font-size="7.2" text-anchor="middle" fill="#231f20" stroke="#231f20" stroke-width="0.09" textLength="7.56" lengthAdjust="spacingAndGlyphs">25</text>
<line x1="136.8" y1="680.1" x2="136.8" y2="683.5" stroke="#111" stroke-width="0.9"/>
<text x="136.8" y="693.48" font-size="7.2" text-anchor="middle" fill="#231f20" stroke="#231f20" stroke-width="0.09" textLength="11.34" lengthAdjust="spacingAndGlyphs">250</text>
<text x="98.75" y="706.02" font-size="8.75" text-anchor="middle" fill="#231f20" stroke="#231f20" stroke-width="0.18" textLength="52.9" lengthAdjust="spacingAndGlyphs">Trametinib (nM)</text>
<text transform="translate(11.9,635.6) rotate(-90)" x="0" y="2.94" font-size="8.52" text-anchor="middle" fill="#231f20" stroke="#231f20" stroke-width="0.18" textLength="47.4" lengthAdjust="spacingAndGlyphs">% inhibition of</text>
<text transform="translate(24,635.6) rotate(-90)" x="0" y="2.94" font-size="8.52" text-anchor="middle" fill="#231f20" stroke="#231f20" stroke-width="0.18" textLength="58.8" lengthAdjust="spacingAndGlyphs">target cell viability</text>
<line x1="57.6" y1="620.33" x2="57.6" y2="623.82" stroke="#c2561f" stroke-width="0.8"/>
<line x1="67.5" y1="620.33" x2="67.5" y2="624.69" stroke="#c2561f" stroke-width="0.8"/>
<line x1="77.4" y1="621.2" x2="77.4" y2="624.69" stroke="#c2561f" stroke-width="0.8"/>
<line x1="87.3" y1="621.2" x2="87.3" y2="629.05" stroke="#c2561f" stroke-width="0.8"/>
<line x1="97.2" y1="623.38" x2="97.2" y2="640.82" stroke="#c2561f" stroke-width="0.8"/>
<line x1="107.1" y1="625.56" x2="107.1" y2="658.26" stroke="#c2561f" stroke-width="0.8"/>
<line x1="117" y1="629.92" x2="117" y2="658.26" stroke="#c2561f" stroke-width="0.8"/>
<line x1="126.9" y1="625.56" x2="126.9" y2="656.08" stroke="#c2561f" stroke-width="0.8"/>
<line x1="136.8" y1="634.28" x2="136.8" y2="658.26" stroke="#c2561f" stroke-width="0.8"/>
<circle cx="57.58" cy="622.43" r="0.95" fill="#4ea3d9"/>
<circle cx="57.85" cy="620.17" r="0.95" fill="#4ea3d9"/>
<circle cx="57.52" cy="621.42" r="0.95" fill="#4ea3d9"/>
<circle cx="57.32" cy="616.51" r="0.95" fill="#4ea3d9"/>
<circle cx="57.79" cy="619.9" r="0.95" fill="#4ea3d9"/>
<circle cx="57.32" cy="617.42" r="0.95" fill="#4ea3d9"/>
<circle cx="57.34" cy="622.53" r="0.95" fill="#4ea3d9"/>
<circle cx="57.45" cy="616.35" r="0.95" fill="#4ea3d9"/>
<circle cx="57.84" cy="620.91" r="0.95" fill="#ee9a4a"/>
<circle cx="57.46" cy="623.04" r="0.95" fill="#ee9a4a"/>
<circle cx="57.67" cy="619.81" r="0.95" fill="#ee9a4a"/>
<circle cx="57.73" cy="623.45" r="0.95" fill="#ee9a4a"/>
<circle cx="57.47" cy="623.16" r="0.95" fill="#ee9a4a"/>
<circle cx="57.75" cy="624.8" r="0.95" fill="#ee9a4a"/>
<circle cx="67.58" cy="617.51" r="0.95" fill="#4ea3d9"/>
<circle cx="67.21" cy="617.32" r="0.95" fill="#4ea3d9"/>
<circle cx="67.49" cy="622.27" r="0.95" fill="#4ea3d9"/>
<circle cx="67.77" cy="617.23" r="0.95" fill="#4ea3d9"/>
<circle cx="67.35" cy="621.21" r="0.95" fill="#4ea3d9"/>
<circle cx="67.5" cy="620.9" r="0.95" fill="#4ea3d9"/>
<circle cx="67.31" cy="617.43" r="0.95" fill="#4ea3d9"/>
<circle cx="67.64" cy="618.3" r="0.95" fill="#4ea3d9"/>
<circle cx="67.66" cy="621.1" r="0.95" fill="#ee9a4a"/>
<circle cx="67.4" cy="622.04" r="0.95" fill="#ee9a4a"/>
<circle cx="67.42" cy="623.29" r="0.95" fill="#ee9a4a"/>
<circle cx="67.25" cy="621.28" r="0.95" fill="#ee9a4a"/>
<circle cx="67.65" cy="623.83" r="0.95" fill="#ee9a4a"/>
<circle cx="67.24" cy="623.61" r="0.95" fill="#ee9a4a"/>
<circle cx="77.43" cy="623.83" r="0.95" fill="#4ea3d9"/>
<circle cx="77.69" cy="622.05" r="0.95" fill="#4ea3d9"/>
<circle cx="77.69" cy="618.64" r="0.95" fill="#4ea3d9"/>
<circle cx="77.15" cy="622.42" r="0.95" fill="#4ea3d9"/>
<circle cx="77.4" cy="623.45" r="0.95" fill="#4ea3d9"/>
<circle cx="77.37" cy="619.7" r="0.95" fill="#4ea3d9"/>
<circle cx="77.35" cy="622.6" r="0.95" fill="#4ea3d9"/>
<circle cx="77.5" cy="620.25" r="0.95" fill="#4ea3d9"/>
<circle cx="77.61" cy="621.82" r="0.95" fill="#ee9a4a"/>
<circle cx="77.17" cy="622.26" r="0.95" fill="#ee9a4a"/>
<circle cx="77.28" cy="621.33" r="0.95" fill="#ee9a4a"/>
<circle cx="77.32" cy="622.77" r="0.95" fill="#ee9a4a"/>
<circle cx="77.22" cy="621.87" r="0.95" fill="#ee9a4a"/>
<circle cx="77.25" cy="624.44" r="0.95" fill="#ee9a4a"/>
<circle cx="87.53" cy="623.92" r="0.95" fill="#4ea3d9"/>
<circle cx="87.2" cy="620.59" r="0.95" fill="#4ea3d9"/>
<circle cx="87.6" cy="622.02" r="0.95" fill="#4ea3d9"/>
<circle cx="87.14" cy="621.14" r="0.95" fill="#4ea3d9"/>
<circle cx="87.39" cy="618.78" r="0.95" fill="#4ea3d9"/>
<circle cx="87.06" cy="617.35" r="0.95" fill="#4ea3d9"/>
<circle cx="87.49" cy="621.4" r="0.95" fill="#4ea3d9"/>
<circle cx="87.55" cy="618.53" r="0.95" fill="#4ea3d9"/>
<circle cx="87.18" cy="630.11" r="0.95" fill="#ee9a4a"/>
<circle cx="87.11" cy="629.28" r="0.95" fill="#ee9a4a"/>
<circle cx="87.35" cy="620.35" r="0.95" fill="#ee9a4a"/>
<circle cx="87.22" cy="620.8" r="0.95" fill="#ee9a4a"/>
<circle cx="87.27" cy="621.47" r="0.95" fill="#ee9a4a"/>
<circle cx="87.47" cy="627.81" r="0.95" fill="#ee9a4a"/>
<circle cx="96.96" cy="617.31" r="0.95" fill="#4ea3d9"/>
<circle cx="97.27" cy="620.36" r="0.95" fill="#4ea3d9"/>
<circle cx="97.12" cy="623.66" r="0.95" fill="#4ea3d9"/>
<circle cx="97.02" cy="624.33" r="0.95" fill="#4ea3d9"/>
<circle cx="97.26" cy="623.34" r="0.95" fill="#4ea3d9"/>
<circle cx="97.02" cy="619.88" r="0.95" fill="#4ea3d9"/>
<circle cx="97.1" cy="625.46" r="0.95" fill="#4ea3d9"/>
<circle cx="97.01" cy="619.65" r="0.95" fill="#4ea3d9"/>
<circle cx="97.02" cy="633.65" r="0.95" fill="#ee9a4a"/>
<circle cx="97.23" cy="626.07" r="0.95" fill="#ee9a4a"/>
<circle cx="96.96" cy="637.56" r="0.95" fill="#ee9a4a"/>
<circle cx="97.23" cy="632.35" r="0.95" fill="#ee9a4a"/>
<circle cx="96.95" cy="628.52" r="0.95" fill="#ee9a4a"/>
<circle cx="97.32" cy="635.98" r="0.95" fill="#ee9a4a"/>
<circle cx="106.97" cy="621.99" r="0.95" fill="#4ea3d9"/>
<circle cx="107.37" cy="622.88" r="0.95" fill="#4ea3d9"/>
<circle cx="107.14" cy="622.84" r="0.95" fill="#4ea3d9"/>
<circle cx="107.05" cy="622.45" r="0.95" fill="#4ea3d9"/>
<circle cx="107.4" cy="618.02" r="0.95" fill="#4ea3d9"/>
<circle cx="106.92" cy="622.39" r="0.95" fill="#4ea3d9"/>
<circle cx="106.92" cy="619.21" r="0.95" fill="#4ea3d9"/>
<circle cx="107.34" cy="625.51" r="0.95" fill="#4ea3d9"/>
<circle cx="107.29" cy="638.99" r="0.95" fill="#ee9a4a"/>
<circle cx="107.33" cy="639.38" r="0.95" fill="#ee9a4a"/>
<circle cx="106.9" cy="638.18" r="0.95" fill="#ee9a4a"/>
<circle cx="107.13" cy="647.91" r="0.95" fill="#ee9a4a"/>
<circle cx="107.35" cy="634.27" r="0.95" fill="#ee9a4a"/>
<circle cx="107.17" cy="646.29" r="0.95" fill="#ee9a4a"/>
<circle cx="117" cy="622.33" r="0.95" fill="#4ea3d9"/>
<circle cx="116.87" cy="624.29" r="0.95" fill="#4ea3d9"/>
<circle cx="117.26" cy="621.02" r="0.95" fill="#4ea3d9"/>
<circle cx="116.99" cy="624.61" r="0.95" fill="#4ea3d9"/>
<circle cx="117.28" cy="618.54" r="0.95" fill="#4ea3d9"/>
<circle cx="116.78" cy="623.84" r="0.95" fill="#4ea3d9"/>
<circle cx="117.29" cy="617.34" r="0.95" fill="#4ea3d9"/>
<circle cx="116.73" cy="621.35" r="0.95" fill="#4ea3d9"/>
<circle cx="116.93" cy="632.23" r="0.95" fill="#ee9a4a"/>
<circle cx="117.07" cy="632.71" r="0.95" fill="#ee9a4a"/>
<circle cx="116.8" cy="634.44" r="0.95" fill="#ee9a4a"/>
<circle cx="116.83" cy="635.29" r="0.95" fill="#ee9a4a"/>
<circle cx="117.21" cy="643.6" r="0.95" fill="#ee9a4a"/>
<circle cx="116.81" cy="634.34" r="0.95" fill="#ee9a4a"/>
<circle cx="126.84" cy="623.41" r="0.95" fill="#4ea3d9"/>
<circle cx="126.83" cy="621.06" r="0.95" fill="#4ea3d9"/>
<circle cx="126.75" cy="624.16" r="0.95" fill="#4ea3d9"/>
<circle cx="127.14" cy="619.44" r="0.95" fill="#4ea3d9"/>
<circle cx="126.94" cy="624.8" r="0.95" fill="#4ea3d9"/>
<circle cx="126.62" cy="619.18" r="0.95" fill="#4ea3d9"/>
<circle cx="126.67" cy="618.55" r="0.95" fill="#4ea3d9"/>
<circle cx="126.93" cy="620.42" r="0.95" fill="#4ea3d9"/>
<circle cx="126.78" cy="640.87" r="0.95" fill="#ee9a4a"/>
<circle cx="126.95" cy="644.84" r="0.95" fill="#ee9a4a"/>
<circle cx="127" cy="644.73" r="0.95" fill="#ee9a4a"/>
<circle cx="126.86" cy="644.33" r="0.95" fill="#ee9a4a"/>
<circle cx="126.97" cy="652.45" r="0.95" fill="#ee9a4a"/>
<circle cx="126.74" cy="643.51" r="0.95" fill="#ee9a4a"/>
<circle cx="136.97" cy="618.9" r="0.95" fill="#4ea3d9"/>
<circle cx="136.61" cy="621.56" r="0.95" fill="#4ea3d9"/>
<circle cx="136.56" cy="621.43" r="0.95" fill="#4ea3d9"/>
<circle cx="136.76" cy="624.44" r="0.95" fill="#4ea3d9"/>
<circle cx="136.77" cy="624.76" r="0.95" fill="#4ea3d9"/>
<circle cx="136.52" cy="621.11" r="0.95" fill="#4ea3d9"/>
<circle cx="136.55" cy="620.01" r="0.95" fill="#4ea3d9"/>
<circle cx="136.97" cy="619.16" r="0.95" fill="#4ea3d9"/>
<circle cx="136.53" cy="644" r="0.95" fill="#ee9a4a"/>
<circle cx="136.73" cy="644.15" r="0.95" fill="#ee9a4a"/>
<circle cx="136.58" cy="635.57" r="0.95" fill="#ee9a4a"/>
<circle cx="137.1" cy="637.37" r="0.95" fill="#ee9a4a"/>
<circle cx="136.99" cy="639.77" r="0.95" fill="#ee9a4a"/>
<circle cx="137.09" cy="650.1" r="0.95" fill="#ee9a4a"/>
<circle cx="67.5" cy="636.46" r="1" fill="#ee9a4a"/>
<circle cx="87.3" cy="606.81" r="1" fill="#ee9a4a"/>
<circle cx="77.4" cy="611.17" r="1" fill="#ee9a4a"/>
<circle cx="97.2" cy="653.46" r="1" fill="#ee9a4a"/>
<circle cx="107.1" cy="657.82" r="1" fill="#ee9a4a"/>
<circle cx="117" cy="659.13" r="1" fill="#ee9a4a"/>
<circle cx="126.9" cy="656.52" r="1" fill="#ee9a4a"/>
<circle cx="136.8" cy="660.44" r="1" fill="#ee9a4a"/>
<circle cx="97.2" cy="615.1" r="1" fill="#ee9a4a"/>
<circle cx="136.8" cy="613.35" r="1" fill="#ee9a4a"/>
<circle cx="117" cy="630.79" r="1" fill="#4ea3d9"/>
<circle cx="136.8" cy="610.3" r="1" fill="#4ea3d9"/>
<circle cx="57.6" cy="612.48" r="1" fill="#4ea3d9"/>
<circle cx="97.2" cy="615.1" r="1" fill="#4ea3d9"/>
<circle cx="126.9" cy="615.1" r="1" fill="#4ea3d9"/>
<polyline points="57.6,619.28 58.84,619.43 60.08,619.58 61.31,619.73 62.55,619.88 63.79,620.03 65.03,620.17 66.26,620.3 67.5,620.42 68.74,620.52 69.97,620.6 71.21,620.68 72.45,620.76 73.69,620.82 74.92,620.88 76.16,620.93 77.4,620.98 78.64,621.03 79.88,621.07 81.11,621.1 82.35,621.13 83.59,621.15 84.83,621.17 86.06,621.19 87.3,621.2 88.54,621.21 89.78,621.22 91.01,621.22 92.25,621.21 93.49,621.21 94.72,621.21 95.96,621.2 97.2,621.2 98.44,621.2 99.67,621.2 100.91,621.2 102.15,621.2 103.39,621.2 104.63,621.2 105.86,621.2 107.1,621.2 108.34,621.2 109.57,621.2 110.81,621.2 112.05,621.2 113.29,621.2 114.52,621.2 115.76,621.2 117,621.2 118.24,621.2 119.47,621.2 120.71,621.2 121.95,621.2 123.19,621.2 124.43,621.2 125.66,621.2 126.9,621.2 128.14,621.2 129.38,621.2 130.61,621.2 131.85,621.2 133.09,621.2 134.33,621.2 135.56,621.2 136.8,621.2" fill="none" stroke="#2c7bbf" stroke-width="1.1"/>
<polyline points="57.6,622.2 58.84,622.24 60.08,622.27 61.31,622.3 62.55,622.34 63.79,622.37 65.03,622.41 66.26,622.46 67.5,622.51 68.74,622.56 69.97,622.6 71.21,622.65 72.45,622.7 73.69,622.76 74.92,622.85 76.16,622.96 77.4,623.12 78.64,623.29 79.88,623.48 81.11,623.68 82.35,623.91 83.59,624.18 84.83,624.49 86.06,624.86 87.3,625.3 88.54,625.81 89.78,626.39 91.01,627.04 92.25,627.72 93.49,628.45 94.72,629.19 95.96,629.95 97.2,630.7 98.44,631.49 99.67,632.33 100.91,633.21 102.15,634.09 103.39,634.97 104.63,635.82 105.86,636.61 107.1,637.33 108.34,637.99 109.57,638.61 110.81,639.19 112.05,639.73 113.29,640.23 114.52,640.7 115.76,641.13 117,641.52 118.24,641.86 119.47,642.15 120.71,642.4 121.95,642.62 123.19,642.8 124.43,642.98 125.66,643.14 126.9,643.31 128.14,643.46 129.38,643.6 130.61,643.71 131.85,643.82 133.09,643.92 134.33,644.01 135.56,644.11 136.8,644.22" fill="none" stroke="#c2561f" stroke-width="1.1"/>
<circle cx="57.6" cy="619.28" r="1.4" fill="#1763a8"/>
<circle cx="57.6" cy="622.94" r="1.4" fill="#bf4a12"/>
<circle cx="67.5" cy="620.42" r="1.4" fill="#1763a8"/>
<circle cx="67.5" cy="622.51" r="1.4" fill="#bf4a12"/>
<circle cx="77.4" cy="620.98" r="1.4" fill="#1763a8"/>
<circle cx="77.4" cy="623.38" r="1.4" fill="#bf4a12"/>
<circle cx="87.3" cy="621.2" r="1.4" fill="#1763a8"/>
<circle cx="87.3" cy="624.69" r="1.4" fill="#bf4a12"/>
<circle cx="97.2" cy="621.2" r="1.4" fill="#1763a8"/>
<circle cx="97.2" cy="629.05" r="1.4" fill="#bf4a12"/>
<circle cx="107.1" cy="621.2" r="1.4" fill="#1763a8"/>
<circle cx="107.1" cy="638.64" r="1.4" fill="#bf4a12"/>
<circle cx="117" cy="621.2" r="1.4" fill="#1763a8"/>
<circle cx="117" cy="642.13" r="1.4" fill="#bf4a12"/>
<circle cx="126.9" cy="621.2" r="1.4" fill="#1763a8"/>
<circle cx="126.9" cy="639.73" r="1.4" fill="#bf4a12"/>
<circle cx="136.8" cy="621.2" r="1.4" fill="#1763a8"/>
<circle cx="136.8" cy="643" r="1.4" fill="#bf4a12"/>
<path d="M204,591.5 V680.1 H291.8" fill="none" stroke="#111" stroke-width="1"/>
<line x1="200.6" y1="599.4" x2="204" y2="599.4" stroke="#111" stroke-width="0.9"/>
<text x="197.8" y="601.88" font-size="7.2" text-anchor="end" fill="#231f20" stroke="#231f20" stroke-width="0.09" textLength="7.23" lengthAdjust="spacingAndGlyphs">50</text>
<line x1="200.6" y1="610.3" x2="204" y2="610.3" stroke="#111" stroke-width="0.9"/>
<text x="197.8" y="612.78" font-size="7.2" text-anchor="end" fill="#231f20" stroke="#231f20" stroke-width="0.09" textLength="7.23" lengthAdjust="spacingAndGlyphs">25</text>
<line x1="200.6" y1="621.2" x2="204" y2="621.2" stroke="#111" stroke-width="0.9"/>
<text x="197.8" y="623.68" font-size="7.2" text-anchor="end" fill="#231f20" stroke="#231f20" stroke-width="0.09" textLength="3.61" lengthAdjust="spacingAndGlyphs">0</text>
<line x1="200.6" y1="632.1" x2="204" y2="632.1" stroke="#111" stroke-width="0.9"/>
<text x="197.8" y="634.58" font-size="7.2" text-anchor="end" fill="#231f20" stroke="#231f20" stroke-width="0.09" textLength="11.03" lengthAdjust="spacingAndGlyphs">−25</text>
<line x1="200.6" y1="643" x2="204" y2="643" stroke="#111" stroke-width="0.9"/>
<text x="197.8" y="645.48" font-size="7.2" text-anchor="end" fill="#231f20" stroke="#231f20" stroke-width="0.09" textLength="11.03" lengthAdjust="spacingAndGlyphs">−50</text>
<line x1="200.6" y1="653.9" x2="204" y2="653.9" stroke="#111" stroke-width="0.9"/>
<text x="197.8" y="656.38" font-size="7.2" text-anchor="end" fill="#231f20" stroke="#231f20" stroke-width="0.09" textLength="11.03" lengthAdjust="spacingAndGlyphs">−75</text>
<line x1="200.6" y1="664.8" x2="204" y2="664.8" stroke="#111" stroke-width="0.9"/>
<text x="197.8" y="667.28" font-size="7.2" text-anchor="end" fill="#231f20" stroke="#231f20" stroke-width="0.09" textLength="14.64" lengthAdjust="spacingAndGlyphs">−100</text>
<line x1="200.6" y1="675.7" x2="204" y2="675.7" stroke="#111" stroke-width="0.9"/>
<text x="197.8" y="678.18" font-size="7.2" text-anchor="end" fill="#231f20" stroke="#231f20" stroke-width="0.09" textLength="14.64" lengthAdjust="spacingAndGlyphs">−125</text>
<line x1="208.7" y1="680.1" x2="208.7" y2="683.5" stroke="#111" stroke-width="0.9"/>
<text x="208.7" y="693.48" font-size="7.2" text-anchor="middle" fill="#231f20" stroke="#231f20" stroke-width="0.09" textLength="3.78" lengthAdjust="spacingAndGlyphs">1</text>
<line x1="228.5" y1="680.1" x2="228.5" y2="683.5" stroke="#111" stroke-width="0.9"/>
<text x="228.5" y="693.48" font-size="7.2" text-anchor="middle" fill="#231f20" stroke="#231f20" stroke-width="0.09" textLength="7.56" lengthAdjust="spacingAndGlyphs">10</text>
<line x1="248.3" y1="680.1" x2="248.3" y2="683.5" stroke="#111" stroke-width="0.9"/>
<text x="248.3" y="693.48" font-size="7.2" text-anchor="middle" fill="#231f20" stroke="#231f20" stroke-width="0.09" textLength="11.34" lengthAdjust="spacingAndGlyphs">100</text>
<line x1="268.1" y1="680.1" x2="268.1" y2="683.5" stroke="#111" stroke-width="0.9"/>
<text x="268.1" y="693.48" font-size="7.2" text-anchor="middle" fill="#231f20" stroke="#231f20" stroke-width="0.09" textLength="15.13" lengthAdjust="spacingAndGlyphs">1000</text>
<line x1="287.9" y1="680.1" x2="287.9" y2="683.5" stroke="#111" stroke-width="0.9"/>
<text x="287.9" y="693.48" font-size="7.2" text-anchor="middle" fill="#231f20" stroke="#231f20" stroke-width="0.09" textLength="18.91" lengthAdjust="spacingAndGlyphs">10000</text>
<text x="249.4" y="706.02" font-size="8.75" text-anchor="middle" fill="#231f20" stroke="#231f20" stroke-width="0.18" textLength="53.8" lengthAdjust="spacingAndGlyphs">Ruxolitinib (nM)</text>
<text transform="translate(163.3,635.6) rotate(-90)" x="0" y="2.94" font-size="8.52" text-anchor="middle" fill="#231f20" stroke="#231f20" stroke-width="0.18" textLength="47.4" lengthAdjust="spacingAndGlyphs">% inhibition of</text>
<text transform="translate(175.4,635.6) rotate(-90)" x="0" y="2.94" font-size="8.52" text-anchor="middle" fill="#231f20" stroke="#231f20" stroke-width="0.18" textLength="58.8" lengthAdjust="spacingAndGlyphs">target cell viability</text>
<line x1="208.7" y1="621.2" x2="208.7" y2="624.69" stroke="#c2561f" stroke-width="0.8"/>
<line x1="218.6" y1="622.51" x2="218.6" y2="627.3" stroke="#c2561f" stroke-width="0.8"/>
<line x1="228.5" y1="626.43" x2="228.5" y2="640.82" stroke="#c2561f" stroke-width="0.8"/>
<line x1="238.4" y1="624.69" x2="238.4" y2="645.18" stroke="#c2561f" stroke-width="0.8"/>
<line x1="248.3" y1="624.69" x2="248.3" y2="648.23" stroke="#c2561f" stroke-width="0.8"/>
<line x1="258.2" y1="616.84" x2="258.2" y2="658.26" stroke="#c2561f" stroke-width="0.8"/>
<line x1="268.1" y1="616.84" x2="268.1" y2="651.72" stroke="#c2561f" stroke-width="0.8"/>
<line x1="278" y1="625.56" x2="278" y2="655.21" stroke="#c2561f" stroke-width="0.8"/>
<line x1="287.9" y1="629.92" x2="287.9" y2="655.21" stroke="#c2561f" stroke-width="0.8"/>
<circle cx="208.97" cy="620.46" r="0.95" fill="#4ea3d9"/>
<circle cx="208.5" cy="617.88" r="0.95" fill="#4ea3d9"/>
<circle cx="208.96" cy="618.65" r="0.95" fill="#4ea3d9"/>
<circle cx="208.61" cy="623.07" r="0.95" fill="#4ea3d9"/>
<circle cx="208.5" cy="618.85" r="0.95" fill="#4ea3d9"/>
<circle cx="208.56" cy="617.99" r="0.95" fill="#4ea3d9"/>
<circle cx="208.49" cy="618.49" r="0.95" fill="#4ea3d9"/>
<circle cx="208.95" cy="620.4" r="0.95" fill="#4ea3d9"/>
<circle cx="208.56" cy="623.78" r="0.95" fill="#ee9a4a"/>
<circle cx="208.59" cy="622.48" r="0.95" fill="#ee9a4a"/>
<circle cx="208.51" cy="624.53" r="0.95" fill="#ee9a4a"/>
<circle cx="208.96" cy="623.99" r="0.95" fill="#ee9a4a"/>
<circle cx="208.94" cy="621.72" r="0.95" fill="#ee9a4a"/>
<circle cx="208.87" cy="623.95" r="0.95" fill="#ee9a4a"/>
<circle cx="218.62" cy="623.1" r="0.95" fill="#4ea3d9"/>
<circle cx="218.52" cy="619.46" r="0.95" fill="#4ea3d9"/>
<circle cx="218.63" cy="617.81" r="0.95" fill="#4ea3d9"/>
<circle cx="218.83" cy="619.86" r="0.95" fill="#4ea3d9"/>
<circle cx="218.9" cy="623.17" r="0.95" fill="#4ea3d9"/>
<circle cx="218.54" cy="619.51" r="0.95" fill="#4ea3d9"/>
<circle cx="218.46" cy="618.34" r="0.95" fill="#4ea3d9"/>
<circle cx="218.65" cy="616.99" r="0.95" fill="#4ea3d9"/>
<circle cx="218.76" cy="625.11" r="0.95" fill="#ee9a4a"/>
<circle cx="218.41" cy="624.68" r="0.95" fill="#ee9a4a"/>
<circle cx="218.33" cy="623.11" r="0.95" fill="#ee9a4a"/>
<circle cx="218.45" cy="622.71" r="0.95" fill="#ee9a4a"/>
<circle cx="218.89" cy="623.65" r="0.95" fill="#ee9a4a"/>
<circle cx="218.7" cy="623.93" r="0.95" fill="#ee9a4a"/>
<circle cx="228.2" cy="621.56" r="0.95" fill="#4ea3d9"/>
<circle cx="228.29" cy="623.26" r="0.95" fill="#4ea3d9"/>
<circle cx="228.46" cy="619.71" r="0.95" fill="#4ea3d9"/>
<circle cx="228.74" cy="620.34" r="0.95" fill="#4ea3d9"/>
<circle cx="228.34" cy="622.66" r="0.95" fill="#4ea3d9"/>
<circle cx="228.21" cy="619.48" r="0.95" fill="#4ea3d9"/>
<circle cx="228.41" cy="623.45" r="0.95" fill="#4ea3d9"/>
<circle cx="228.41" cy="622.82" r="0.95" fill="#4ea3d9"/>
<circle cx="228.55" cy="632.52" r="0.95" fill="#ee9a4a"/>
<circle cx="228.32" cy="627.75" r="0.95" fill="#ee9a4a"/>
<circle cx="228.48" cy="627.3" r="0.95" fill="#ee9a4a"/>
<circle cx="228.76" cy="633.69" r="0.95" fill="#ee9a4a"/>
<circle cx="228.29" cy="632.27" r="0.95" fill="#ee9a4a"/>
<circle cx="228.58" cy="634.2" r="0.95" fill="#ee9a4a"/>
<circle cx="238.57" cy="618.15" r="0.95" fill="#4ea3d9"/>
<circle cx="238.26" cy="621.01" r="0.95" fill="#4ea3d9"/>
<circle cx="238.49" cy="623.4" r="0.95" fill="#4ea3d9"/>
<circle cx="238.31" cy="620.03" r="0.95" fill="#4ea3d9"/>
<circle cx="238.37" cy="619.53" r="0.95" fill="#4ea3d9"/>
<circle cx="238.54" cy="617.75" r="0.95" fill="#4ea3d9"/>
<circle cx="238.64" cy="621.95" r="0.95" fill="#4ea3d9"/>
<circle cx="238.42" cy="623.2" r="0.95" fill="#4ea3d9"/>
<circle cx="238.24" cy="635.76" r="0.95" fill="#ee9a4a"/>
<circle cx="238.57" cy="641.21" r="0.95" fill="#ee9a4a"/>
<circle cx="238.43" cy="641.93" r="0.95" fill="#ee9a4a"/>
<circle cx="238.19" cy="627.36" r="0.95" fill="#ee9a4a"/>
<circle cx="238.46" cy="639" r="0.95" fill="#ee9a4a"/>
<circle cx="238.48" cy="634.17" r="0.95" fill="#ee9a4a"/>
<circle cx="248.1" cy="617.96" r="0.95" fill="#4ea3d9"/>
<circle cx="248.18" cy="621.91" r="0.95" fill="#4ea3d9"/>
<circle cx="248.53" cy="623.96" r="0.95" fill="#4ea3d9"/>
<circle cx="248.43" cy="618.19" r="0.95" fill="#4ea3d9"/>
<circle cx="248.51" cy="624.29" r="0.95" fill="#4ea3d9"/>
<circle cx="248.28" cy="618.49" r="0.95" fill="#4ea3d9"/>
<circle cx="248.27" cy="618.52" r="0.95" fill="#4ea3d9"/>
<circle cx="248.06" cy="622.57" r="0.95" fill="#4ea3d9"/>
<circle cx="248.02" cy="644.4" r="0.95" fill="#ee9a4a"/>
<circle cx="248.45" cy="642.6" r="0.95" fill="#ee9a4a"/>
<circle cx="248.51" cy="636.33" r="0.95" fill="#ee9a4a"/>
<circle cx="248.16" cy="636.04" r="0.95" fill="#ee9a4a"/>
<circle cx="248.26" cy="638.79" r="0.95" fill="#ee9a4a"/>
<circle cx="248.31" cy="634.7" r="0.95" fill="#ee9a4a"/>
<circle cx="258.29" cy="622.61" r="0.95" fill="#4ea3d9"/>
<circle cx="258.03" cy="617.11" r="0.95" fill="#4ea3d9"/>
<circle cx="257.91" cy="617.78" r="0.95" fill="#4ea3d9"/>
<circle cx="258.04" cy="622.64" r="0.95" fill="#4ea3d9"/>
<circle cx="258.47" cy="618.85" r="0.95" fill="#4ea3d9"/>
<circle cx="258.1" cy="618.83" r="0.95" fill="#4ea3d9"/>
<circle cx="258.1" cy="617.78" r="0.95" fill="#4ea3d9"/>
<circle cx="258.44" cy="622.81" r="0.95" fill="#4ea3d9"/>
<circle cx="258.32" cy="639.28" r="0.95" fill="#ee9a4a"/>
<circle cx="258.49" cy="638.53" r="0.95" fill="#ee9a4a"/>
<circle cx="258.4" cy="642.79" r="0.95" fill="#ee9a4a"/>
<circle cx="258.41" cy="637.82" r="0.95" fill="#ee9a4a"/>
<circle cx="258.33" cy="643.5" r="0.95" fill="#ee9a4a"/>
<circle cx="258.08" cy="640.59" r="0.95" fill="#ee9a4a"/>
<circle cx="268.17" cy="624.46" r="0.95" fill="#4ea3d9"/>
<circle cx="268.35" cy="625.52" r="0.95" fill="#4ea3d9"/>
<circle cx="267.82" cy="624.99" r="0.95" fill="#4ea3d9"/>
<circle cx="268.36" cy="625.29" r="0.95" fill="#4ea3d9"/>
<circle cx="267.89" cy="623.42" r="0.95" fill="#4ea3d9"/>
<circle cx="267.82" cy="625.9" r="0.95" fill="#4ea3d9"/>
<circle cx="268.18" cy="620.69" r="0.95" fill="#4ea3d9"/>
<circle cx="268.24" cy="620.66" r="0.95" fill="#4ea3d9"/>
<circle cx="268.15" cy="652.77" r="0.95" fill="#ee9a4a"/>
<circle cx="268.29" cy="646.28" r="0.95" fill="#ee9a4a"/>
<circle cx="268.33" cy="636.34" r="0.95" fill="#ee9a4a"/>
<circle cx="268.32" cy="652.77" r="0.95" fill="#ee9a4a"/>
<circle cx="268.37" cy="634.27" r="0.95" fill="#ee9a4a"/>
<circle cx="267.92" cy="651.87" r="0.95" fill="#ee9a4a"/>
<circle cx="277.72" cy="626.22" r="0.95" fill="#4ea3d9"/>
<circle cx="278.19" cy="621.09" r="0.95" fill="#4ea3d9"/>
<circle cx="278.2" cy="622.57" r="0.95" fill="#4ea3d9"/>
<circle cx="277.87" cy="622.59" r="0.95" fill="#4ea3d9"/>
<circle cx="277.76" cy="626.3" r="0.95" fill="#4ea3d9"/>
<circle cx="277.82" cy="621.72" r="0.95" fill="#4ea3d9"/>
<circle cx="277.95" cy="624.77" r="0.95" fill="#4ea3d9"/>
<circle cx="277.85" cy="626.85" r="0.95" fill="#4ea3d9"/>
<circle cx="278.13" cy="648.18" r="0.95" fill="#ee9a4a"/>
<circle cx="277.89" cy="646.31" r="0.95" fill="#ee9a4a"/>
<circle cx="278" cy="633.32" r="0.95" fill="#ee9a4a"/>
<circle cx="278.07" cy="635.78" r="0.95" fill="#ee9a4a"/>
<circle cx="277.95" cy="653.66" r="0.95" fill="#ee9a4a"/>
<circle cx="278.16" cy="644.82" r="0.95" fill="#ee9a4a"/>
<circle cx="288.02" cy="625.1" r="0.95" fill="#4ea3d9"/>
<circle cx="287.73" cy="623.77" r="0.95" fill="#4ea3d9"/>
<circle cx="287.65" cy="621.51" r="0.95" fill="#4ea3d9"/>
<circle cx="287.7" cy="621.8" r="0.95" fill="#4ea3d9"/>
<circle cx="287.72" cy="627.51" r="0.95" fill="#4ea3d9"/>
<circle cx="288.19" cy="622.21" r="0.95" fill="#4ea3d9"/>
<circle cx="287.89" cy="627.49" r="0.95" fill="#4ea3d9"/>
<circle cx="288.08" cy="624.09" r="0.95" fill="#4ea3d9"/>
<circle cx="287.9" cy="649.49" r="0.95" fill="#ee9a4a"/>
<circle cx="288.1" cy="646.37" r="0.95" fill="#ee9a4a"/>
<circle cx="288.17" cy="648.03" r="0.95" fill="#ee9a4a"/>
<circle cx="287.73" cy="647.58" r="0.95" fill="#ee9a4a"/>
<circle cx="287.9" cy="639.61" r="0.95" fill="#ee9a4a"/>
<circle cx="287.98" cy="650.92" r="0.95" fill="#ee9a4a"/>
<circle cx="208.7" cy="636.46" r="1" fill="#ee9a4a"/>
<circle cx="218.6" cy="635.59" r="1" fill="#ee9a4a"/>
<circle cx="228.5" cy="652.59" r="1" fill="#ee9a4a"/>
<circle cx="238.4" cy="653.46" r="1" fill="#ee9a4a"/>
<circle cx="248.3" cy="658.7" r="1" fill="#ee9a4a"/>
<circle cx="258.2" cy="660.44" r="1" fill="#ee9a4a"/>
<circle cx="268.1" cy="608.12" r="1" fill="#ee9a4a"/>
<circle cx="268.1" cy="674.39" r="1" fill="#ee9a4a"/>
<circle cx="278" cy="608.99" r="1" fill="#ee9a4a"/>
<circle cx="278" cy="669.16" r="1" fill="#ee9a4a"/>
<circle cx="287.9" cy="601.58" r="1" fill="#ee9a4a"/>
<circle cx="287.9" cy="652.59" r="1" fill="#ee9a4a"/>
<circle cx="258.2" cy="621.2" r="1" fill="#ee9a4a"/>
<circle cx="248.3" cy="611.61" r="1" fill="#4ea3d9"/>
<circle cx="208.7" cy="614.66" r="1" fill="#4ea3d9"/>
<polyline points="208.7,620.42 209.94,620.42 211.17,620.42 212.41,620.42 213.65,620.42 214.89,620.42 216.12,620.42 217.36,620.42 218.6,620.42 219.84,620.42 221.07,620.42 222.31,620.42 223.55,620.42 224.79,620.42 226.03,620.42 227.26,620.42 228.5,620.42 229.74,620.42 230.97,620.42 232.21,620.42 233.45,620.42 234.69,620.42 235.92,620.42 237.16,620.42 238.4,620.42 239.64,620.41 240.87,620.41 242.11,620.4 243.35,620.39 244.59,620.39 245.82,620.39 247.06,620.4 248.3,620.42 249.54,620.43 250.77,620.45 252.01,620.47 253.25,620.5 254.49,620.54 255.72,620.59 256.96,620.67 258.2,620.76 259.44,620.89 260.68,621.05 261.91,621.23 263.15,621.42 264.39,621.62 265.62,621.83 266.86,622.02 268.1,622.2 269.34,622.38 270.58,622.56 271.81,622.74 273.05,622.91 274.29,623.08 275.53,623.24 276.76,623.39 278,623.51 279.24,623.61 280.48,623.7 281.71,623.76 282.95,623.82 284.19,623.87 285.42,623.92 286.66,623.97 287.9,624.03" fill="none" stroke="#2c7bbf" stroke-width="1.1"/>
<polyline points="208.7,622.51 209.94,622.72 211.17,622.91 212.41,623.09 213.65,623.28 214.89,623.48 216.12,623.73 217.36,624.02 218.6,624.38 219.84,624.82 221.07,625.31 222.31,625.85 223.55,626.43 224.79,627.04 226.03,627.66 227.26,628.29 228.5,628.92 229.74,629.55 230.97,630.2 232.21,630.86 233.45,631.54 234.69,632.23 235.92,632.91 237.16,633.6 238.4,634.28 239.64,634.98 240.87,635.71 242.11,636.45 243.35,637.19 244.59,637.91 245.82,638.58 247.06,639.19 248.3,639.73 249.54,640.18 250.77,640.57 252.01,640.91 253.25,641.2 254.49,641.45 255.72,641.69 256.96,641.91 258.2,642.13 259.44,642.34 260.68,642.53 261.91,642.7 263.15,642.86 264.39,642.99 265.62,643.11 266.86,643.22 268.1,643.31 269.34,643.37 270.58,643.41 271.81,643.44 273.05,643.44 274.29,643.44 275.53,643.44 276.76,643.43 278,643.44 279.24,643.44 280.48,643.45 281.71,643.45 282.95,643.44 284.19,643.44 285.42,643.44 286.66,643.44 287.9,643.44" fill="none" stroke="#c2561f" stroke-width="1.1"/>
<circle cx="208.7" cy="620.42" r="1.4" fill="#1763a8"/>
<circle cx="208.7" cy="623.38" r="1.4" fill="#bf4a12"/>
<circle cx="218.6" cy="620.42" r="1.4" fill="#1763a8"/>
<circle cx="218.6" cy="623.82" r="1.4" fill="#bf4a12"/>
<circle cx="228.5" cy="620.42" r="1.4" fill="#1763a8"/>
<circle cx="228.5" cy="634.28" r="1.4" fill="#bf4a12"/>
<circle cx="238.4" cy="620.42" r="1.4" fill="#1763a8"/>
<circle cx="238.4" cy="633.41" r="1.4" fill="#bf4a12"/>
<circle cx="248.3" cy="620.42" r="1.4" fill="#1763a8"/>
<circle cx="248.3" cy="640.38" r="1.4" fill="#bf4a12"/>
<circle cx="258.2" cy="620.76" r="1.4" fill="#1763a8"/>
<circle cx="258.2" cy="641.26" r="1.4" fill="#bf4a12"/>
<circle cx="268.1" cy="622.2" r="1.4" fill="#1763a8"/>
<circle cx="268.1" cy="646.05" r="1.4" fill="#bf4a12"/>
<circle cx="278" cy="623.51" r="1.4" fill="#1763a8"/>
<circle cx="278" cy="643.44" r="1.4" fill="#bf4a12"/>
<circle cx="287.9" cy="624.03" r="1.4" fill="#1763a8"/>
<circle cx="287.9" cy="643" r="1.4" fill="#bf4a12"/>
<path d="M358.5,591.5 V680.1 H446" fill="none" stroke="#111" stroke-width="1"/>
<line x1="355.1" y1="599.4" x2="358.5" y2="599.4" stroke="#111" stroke-width="0.9"/>
<text x="352.3" y="601.88" font-size="7.2" text-anchor="end" fill="#231f20" stroke="#231f20" stroke-width="0.09" textLength="7.23" lengthAdjust="spacingAndGlyphs">50</text>
<line x1="355.1" y1="610.3" x2="358.5" y2="610.3" stroke="#111" stroke-width="0.9"/>
<text x="352.3" y="612.78" font-size="7.2" text-anchor="end" fill="#231f20" stroke="#231f20" stroke-width="0.09" textLength="7.23" lengthAdjust="spacingAndGlyphs">25</text>
<line x1="355.1" y1="621.2" x2="358.5" y2="621.2" stroke="#111" stroke-width="0.9"/>
<text x="352.3" y="623.68" font-size="7.2" text-anchor="end" fill="#231f20" stroke="#231f20" stroke-width="0.09" textLength="3.61" lengthAdjust="spacingAndGlyphs">0</text>
<line x1="355.1" y1="632.1" x2="358.5" y2="632.1" stroke="#111" stroke-width="0.9"/>
<text x="352.3" y="634.58" font-size="7.2" text-anchor="end" fill="#231f20" stroke="#231f20" stroke-width="0.09" textLength="11.03" lengthAdjust="spacingAndGlyphs">−25</text>
<line x1="355.1" y1="643" x2="358.5" y2="643" stroke="#111" stroke-width="0.9"/>
<text x="352.3" y="645.48" font-size="7.2" text-anchor="end" fill="#231f20" stroke="#231f20" stroke-width="0.09" textLength="11.03" lengthAdjust="spacingAndGlyphs">−50</text>
<line x1="355.1" y1="653.9" x2="358.5" y2="653.9" stroke="#111" stroke-width="0.9"/>
<text x="352.3" y="656.38" font-size="7.2" text-anchor="end" fill="#231f20" stroke="#231f20" stroke-width="0.09" textLength="11.03" lengthAdjust="spacingAndGlyphs">−75</text>
<line x1="355.1" y1="664.8" x2="358.5" y2="664.8" stroke="#111" stroke-width="0.9"/>
<text x="352.3" y="667.28" font-size="7.2" text-anchor="end" fill="#231f20" stroke="#231f20" stroke-width="0.09" textLength="14.64" lengthAdjust="spacingAndGlyphs">−100</text>
<line x1="355.1" y1="675.7" x2="358.5" y2="675.7" stroke="#111" stroke-width="0.9"/>
<text x="352.3" y="678.18" font-size="7.2" text-anchor="end" fill="#231f20" stroke="#231f20" stroke-width="0.09" textLength="14.64" lengthAdjust="spacingAndGlyphs">−125</text>
<line x1="363.4" y1="680.1" x2="363.4" y2="683.5" stroke="#111" stroke-width="0.9"/>
<text x="363.4" y="693.48" font-size="7.2" text-anchor="middle" fill="#231f20" stroke="#231f20" stroke-width="0.09" textLength="9.45" lengthAdjust="spacingAndGlyphs">0.1</text>
<line x1="383.2" y1="680.1" x2="383.2" y2="683.5" stroke="#111" stroke-width="0.9"/>
<text x="383.2" y="693.48" font-size="7.2" text-anchor="middle" fill="#231f20" stroke="#231f20" stroke-width="0.09" textLength="3.78" lengthAdjust="spacingAndGlyphs">1</text>
<line x1="403" y1="680.1" x2="403" y2="683.5" stroke="#111" stroke-width="0.9"/>
<text x="403" y="693.48" font-size="7.2" text-anchor="middle" fill="#231f20" stroke="#231f20" stroke-width="0.09" textLength="7.56" lengthAdjust="spacingAndGlyphs">10</text>
<line x1="422.8" y1="680.1" x2="422.8" y2="683.5" stroke="#111" stroke-width="0.9"/>
<text x="422.8" y="693.48" font-size="7.2" text-anchor="middle" fill="#231f20" stroke="#231f20" stroke-width="0.09" textLength="11.34" lengthAdjust="spacingAndGlyphs">100</text>
<line x1="442.6" y1="680.1" x2="442.6" y2="683.5" stroke="#111" stroke-width="0.9"/>
<text x="442.6" y="693.48" font-size="7.2" text-anchor="middle" fill="#231f20" stroke="#231f20" stroke-width="0.09" textLength="15.13" lengthAdjust="spacingAndGlyphs">1000</text>
<text x="403.75" y="706.02" font-size="8.75" text-anchor="middle" fill="#231f20" stroke="#231f20" stroke-width="0.18" textLength="48.6" lengthAdjust="spacingAndGlyphs">Dasatinib (nM)</text>
<text transform="translate(317.8,635.6) rotate(-90)" x="0" y="2.94" font-size="8.52" text-anchor="middle" fill="#231f20" stroke="#231f20" stroke-width="0.18" textLength="47.4" lengthAdjust="spacingAndGlyphs">% inhibition of</text>
<text transform="translate(329.9,635.6) rotate(-90)" x="0" y="2.94" font-size="8.52" text-anchor="middle" fill="#231f20" stroke="#231f20" stroke-width="0.18" textLength="58.8" lengthAdjust="spacingAndGlyphs">target cell viability</text>
<line x1="363.4" y1="615.97" x2="363.4" y2="626.43" stroke="#c2561f" stroke-width="0.8"/>
<line x1="373.3" y1="615.1" x2="373.3" y2="622.94" stroke="#c2561f" stroke-width="0.8"/>
<line x1="383.2" y1="614.66" x2="383.2" y2="624.69" stroke="#c2561f" stroke-width="0.8"/>
<line x1="393.1" y1="619.02" x2="393.1" y2="626.43" stroke="#c2561f" stroke-width="0.8"/>
<line x1="403" y1="629.92" x2="403" y2="640.82" stroke="#c2561f" stroke-width="0.8"/>
<line x1="412.9" y1="625.56" x2="412.9" y2="669.16" stroke="#c2561f" stroke-width="0.8"/>
<line x1="422.8" y1="623.38" x2="422.8" y2="660.44" stroke="#c2561f" stroke-width="0.8"/>
<line x1="432.7" y1="627.74" x2="432.7" y2="649.54" stroke="#c2561f" stroke-width="0.8"/>
<line x1="442.6" y1="612.48" x2="442.6" y2="625.56" stroke="#c2561f" stroke-width="0.8"/>
<circle cx="363.57" cy="626.59" r="0.95" fill="#4ea3d9"/>
<circle cx="363.57" cy="620.14" r="0.95" fill="#4ea3d9"/>
<circle cx="363.31" cy="620.86" r="0.95" fill="#4ea3d9"/>
<circle cx="363.34" cy="623.24" r="0.95" fill="#4ea3d9"/>
<circle cx="363.15" cy="618.12" r="0.95" fill="#4ea3d9"/>
<circle cx="363.12" cy="618.14" r="0.95" fill="#4ea3d9"/>
<circle cx="363.26" cy="625.28" r="0.95" fill="#4ea3d9"/>
<circle cx="363.4" cy="618" r="0.95" fill="#4ea3d9"/>
<circle cx="363.63" cy="620.54" r="0.95" fill="#ee9a4a"/>
<circle cx="363.38" cy="622.07" r="0.95" fill="#ee9a4a"/>
<circle cx="363.55" cy="618.95" r="0.95" fill="#ee9a4a"/>
<circle cx="363.49" cy="616.63" r="0.95" fill="#ee9a4a"/>
<circle cx="363.3" cy="620.87" r="0.95" fill="#ee9a4a"/>
<circle cx="363.61" cy="622.89" r="0.95" fill="#ee9a4a"/>
<circle cx="373.45" cy="620.51" r="0.95" fill="#4ea3d9"/>
<circle cx="373.26" cy="625.66" r="0.95" fill="#4ea3d9"/>
<circle cx="373.35" cy="619.34" r="0.95" fill="#4ea3d9"/>
<circle cx="373.28" cy="626.12" r="0.95" fill="#4ea3d9"/>
<circle cx="373.14" cy="618.17" r="0.95" fill="#4ea3d9"/>
<circle cx="373.18" cy="625.43" r="0.95" fill="#4ea3d9"/>
<circle cx="373.51" cy="620.08" r="0.95" fill="#4ea3d9"/>
<circle cx="373.09" cy="625.82" r="0.95" fill="#4ea3d9"/>
<circle cx="373.2" cy="622.45" r="0.95" fill="#ee9a4a"/>
<circle cx="373.1" cy="619.57" r="0.95" fill="#ee9a4a"/>
<circle cx="373.11" cy="621.6" r="0.95" fill="#ee9a4a"/>
<circle cx="373.44" cy="614.83" r="0.95" fill="#ee9a4a"/>
<circle cx="373.58" cy="623.97" r="0.95" fill="#ee9a4a"/>
<circle cx="373.23" cy="623.97" r="0.95" fill="#ee9a4a"/>
<circle cx="383.38" cy="616.57" r="0.95" fill="#4ea3d9"/>
<circle cx="383.16" cy="619.19" r="0.95" fill="#4ea3d9"/>
<circle cx="383.28" cy="624.82" r="0.95" fill="#4ea3d9"/>
<circle cx="383.02" cy="625.75" r="0.95" fill="#4ea3d9"/>
<circle cx="382.92" cy="622.8" r="0.95" fill="#4ea3d9"/>
<circle cx="383.37" cy="622.69" r="0.95" fill="#4ea3d9"/>
<circle cx="383.2" cy="619.61" r="0.95" fill="#4ea3d9"/>
<circle cx="383.18" cy="620.25" r="0.95" fill="#4ea3d9"/>
<circle cx="383.26" cy="625.57" r="0.95" fill="#ee9a4a"/>
<circle cx="383.34" cy="622.36" r="0.95" fill="#ee9a4a"/>
<circle cx="383.16" cy="616.22" r="0.95" fill="#ee9a4a"/>
<circle cx="383.35" cy="620.3" r="0.95" fill="#ee9a4a"/>
<circle cx="383.04" cy="622.16" r="0.95" fill="#ee9a4a"/>
<circle cx="383.43" cy="618.49" r="0.95" fill="#ee9a4a"/>
<circle cx="393.22" cy="618.85" r="0.95" fill="#4ea3d9"/>
<circle cx="393.21" cy="618.31" r="0.95" fill="#4ea3d9"/>
<circle cx="393.07" cy="619.78" r="0.95" fill="#4ea3d9"/>
<circle cx="393.18" cy="622.07" r="0.95" fill="#4ea3d9"/>
<circle cx="393.05" cy="623.57" r="0.95" fill="#4ea3d9"/>
<circle cx="393.23" cy="618.79" r="0.95" fill="#4ea3d9"/>
<circle cx="392.95" cy="619.86" r="0.95" fill="#4ea3d9"/>
<circle cx="393.07" cy="621.3" r="0.95" fill="#4ea3d9"/>
<circle cx="393.05" cy="622.45" r="0.95" fill="#ee9a4a"/>
<circle cx="393.36" cy="621.98" r="0.95" fill="#ee9a4a"/>
<circle cx="393.19" cy="626.27" r="0.95" fill="#ee9a4a"/>
<circle cx="393.03" cy="621.09" r="0.95" fill="#ee9a4a"/>
<circle cx="393.38" cy="623.6" r="0.95" fill="#ee9a4a"/>
<circle cx="393.13" cy="627.54" r="0.95" fill="#ee9a4a"/>
<circle cx="403.17" cy="621.57" r="0.95" fill="#4ea3d9"/>
<circle cx="403.01" cy="613.41" r="0.95" fill="#4ea3d9"/>
<circle cx="403.04" cy="622.19" r="0.95" fill="#4ea3d9"/>
<circle cx="403.13" cy="617.59" r="0.95" fill="#4ea3d9"/>
<circle cx="403.08" cy="617.89" r="0.95" fill="#4ea3d9"/>
<circle cx="403.01" cy="614.57" r="0.95" fill="#4ea3d9"/>
<circle cx="403.27" cy="618.96" r="0.95" fill="#4ea3d9"/>
<circle cx="403.11" cy="621.05" r="0.95" fill="#4ea3d9"/>
<circle cx="403.16" cy="629.43" r="0.95" fill="#ee9a4a"/>
<circle cx="403.29" cy="633.67" r="0.95" fill="#ee9a4a"/>
<circle cx="402.73" cy="630.01" r="0.95" fill="#ee9a4a"/>
<circle cx="402.94" cy="631.28" r="0.95" fill="#ee9a4a"/>
<circle cx="402.95" cy="635.38" r="0.95" fill="#ee9a4a"/>
<circle cx="403.12" cy="628.99" r="0.95" fill="#ee9a4a"/>
<circle cx="412.76" cy="614.42" r="0.95" fill="#4ea3d9"/>
<circle cx="413.04" cy="615.97" r="0.95" fill="#4ea3d9"/>
<circle cx="412.92" cy="607.24" r="0.95" fill="#4ea3d9"/>
<circle cx="413.08" cy="616.04" r="0.95" fill="#4ea3d9"/>
<circle cx="412.73" cy="613.93" r="0.95" fill="#4ea3d9"/>
<circle cx="413.07" cy="617.14" r="0.95" fill="#4ea3d9"/>
<circle cx="412.98" cy="608.83" r="0.95" fill="#4ea3d9"/>
<circle cx="412.94" cy="612.99" r="0.95" fill="#4ea3d9"/>
<circle cx="413.18" cy="636.07" r="0.95" fill="#ee9a4a"/>
<circle cx="412.98" cy="633.3" r="0.95" fill="#ee9a4a"/>
<circle cx="413.09" cy="623.15" r="0.95" fill="#ee9a4a"/>
<circle cx="412.78" cy="630.79" r="0.95" fill="#ee9a4a"/>
<circle cx="412.68" cy="629.04" r="0.95" fill="#ee9a4a"/>
<circle cx="412.81" cy="622.82" r="0.95" fill="#ee9a4a"/>
<circle cx="422.66" cy="605.06" r="0.95" fill="#4ea3d9"/>
<circle cx="422.65" cy="609.2" r="0.95" fill="#4ea3d9"/>
<circle cx="422.61" cy="608.76" r="0.95" fill="#4ea3d9"/>
<circle cx="422.93" cy="612.46" r="0.95" fill="#4ea3d9"/>
<circle cx="422.65" cy="610.03" r="0.95" fill="#4ea3d9"/>
<circle cx="422.79" cy="609.85" r="0.95" fill="#4ea3d9"/>
<circle cx="422.88" cy="608.74" r="0.95" fill="#4ea3d9"/>
<circle cx="422.72" cy="606.73" r="0.95" fill="#4ea3d9"/>
<circle cx="423.01" cy="622.23" r="0.95" fill="#ee9a4a"/>
<circle cx="423" cy="641.23" r="0.95" fill="#ee9a4a"/>
<circle cx="422.97" cy="622.73" r="0.95" fill="#ee9a4a"/>
<circle cx="423" cy="639.42" r="0.95" fill="#ee9a4a"/>
<circle cx="422.51" cy="628.67" r="0.95" fill="#ee9a4a"/>
<circle cx="423.07" cy="642.23" r="0.95" fill="#ee9a4a"/>
<circle cx="432.55" cy="602.9" r="0.95" fill="#4ea3d9"/>
<circle cx="432.49" cy="609.67" r="0.95" fill="#4ea3d9"/>
<circle cx="432.87" cy="608.06" r="0.95" fill="#4ea3d9"/>
<circle cx="432.49" cy="606.68" r="0.95" fill="#4ea3d9"/>
<circle cx="432.88" cy="599.87" r="0.95" fill="#4ea3d9"/>
<circle cx="432.93" cy="608.86" r="0.95" fill="#4ea3d9"/>
<circle cx="432.87" cy="603.48" r="0.95" fill="#4ea3d9"/>
<circle cx="432.94" cy="602.75" r="0.95" fill="#4ea3d9"/>
<circle cx="432.9" cy="627.58" r="0.95" fill="#ee9a4a"/>
<circle cx="432.82" cy="636.85" r="0.95" fill="#ee9a4a"/>
<circle cx="432.85" cy="631.62" r="0.95" fill="#ee9a4a"/>
<circle cx="432.93" cy="633.06" r="0.95" fill="#ee9a4a"/>
<circle cx="432.56" cy="631.24" r="0.95" fill="#ee9a4a"/>
<circle cx="432.48" cy="636.27" r="0.95" fill="#ee9a4a"/>
<circle cx="442.34" cy="602.79" r="0.95" fill="#4ea3d9"/>
<circle cx="442.39" cy="603.06" r="0.95" fill="#4ea3d9"/>
<circle cx="442.6" cy="602.8" r="0.95" fill="#4ea3d9"/>
<circle cx="442.82" cy="602.3" r="0.95" fill="#4ea3d9"/>
<circle cx="442.8" cy="607.88" r="0.95" fill="#4ea3d9"/>
<circle cx="442.64" cy="603.05" r="0.95" fill="#4ea3d9"/>
<circle cx="442.8" cy="600.98" r="0.95" fill="#4ea3d9"/>
<circle cx="442.55" cy="604.02" r="0.95" fill="#4ea3d9"/>
<circle cx="442.35" cy="626.51" r="0.95" fill="#ee9a4a"/>
<circle cx="442.68" cy="630.74" r="0.95" fill="#ee9a4a"/>
<circle cx="442.67" cy="638.7" r="0.95" fill="#ee9a4a"/>
<circle cx="442.86" cy="630.15" r="0.95" fill="#ee9a4a"/>
<circle cx="442.89" cy="634.75" r="0.95" fill="#ee9a4a"/>
<circle cx="442.59" cy="632.4" r="0.95" fill="#ee9a4a"/>
<circle cx="393.1" cy="642.78" r="1" fill="#ee9a4a"/>
<circle cx="403" cy="652.59" r="1" fill="#ee9a4a"/>
<circle cx="412.9" cy="668.29" r="1" fill="#ee9a4a"/>
<circle cx="412.9" cy="678.75" r="1" fill="#ee9a4a"/>
<circle cx="422.8" cy="662.18" r="1" fill="#ee9a4a"/>
<circle cx="432.7" cy="649.54" r="1" fill="#ee9a4a"/>
<circle cx="363.4" cy="608.12" r="1" fill="#ee9a4a"/>
<circle cx="363.4" cy="631.23" r="1" fill="#ee9a4a"/>
<circle cx="442.6" cy="616.84" r="1" fill="#ee9a4a"/>
<circle cx="373.3" cy="605.94" r="1" fill="#4ea3d9"/>
<circle cx="383.2" cy="633.41" r="1" fill="#4ea3d9"/>
<circle cx="432.7" cy="593.73" r="1" fill="#4ea3d9"/>
<circle cx="442.6" cy="595.04" r="1" fill="#4ea3d9"/>
<circle cx="363.4" cy="610.74" r="1" fill="#4ea3d9"/>
<polyline points="363.4,622.2 364.64,622.21 365.88,622.22 367.11,622.23 368.35,622.24 369.59,622.24 370.82,622.24 372.06,622.23 373.3,622.2 374.54,622.16 375.77,622.11 377.01,622.05 378.25,621.97 379.49,621.9 380.73,621.81 381.96,621.73 383.2,621.64 384.44,621.55 385.68,621.48 386.91,621.41 388.15,621.34 389.39,621.24 390.62,621.12 391.86,620.96 393.1,620.76 394.34,620.53 395.57,620.27 396.81,619.99 398.05,619.67 399.29,619.32 400.53,618.93 401.76,618.5 403,618.02 404.24,617.46 405.48,616.83 406.71,616.14 407.95,615.42 409.19,614.69 410.43,613.96 411.66,613.26 412.9,612.61 414.14,612 415.38,611.4 416.61,610.81 417.85,610.23 419.09,609.68 420.32,609.14 421.56,608.62 422.8,608.12 424.04,607.64 425.27,607.18 426.51,606.74 427.75,606.31 428.99,605.91 430.22,605.52 431.46,605.15 432.7,604.81 433.94,604.49 435.18,604.2 436.41,603.93 437.65,603.68 438.89,603.44 440.12,603.21 441.36,602.97 442.6,602.71" fill="none" stroke="#2c7bbf" stroke-width="1.1"/>
<polyline points="363.4,619.28 364.64,619.34 365.88,619.39 367.11,619.44 368.35,619.49 369.59,619.54 370.82,619.61 372.06,619.7 373.3,619.8 374.54,619.93 375.77,620.07 377.01,620.22 378.25,620.39 379.49,620.57 380.73,620.77 381.96,620.98 383.2,621.2 384.44,621.43 385.68,621.67 386.91,621.92 388.15,622.18 389.39,622.46 390.62,622.78 391.86,623.12 393.1,623.51 394.34,623.96 395.57,624.48 396.81,625.04 398.05,625.62 399.29,626.21 400.53,626.77 401.76,627.29 403,627.74 404.24,628.13 405.48,628.48 406.71,628.8 407.95,629.09 409.19,629.36 410.43,629.61 411.66,629.85 412.9,630.09 414.14,630.33 415.38,630.55 416.61,630.76 417.85,630.95 419.09,631.13 420.32,631.29 421.56,631.44 422.8,631.58 424.04,631.69 425.27,631.78 426.51,631.85 427.75,631.9 428.99,631.95 430.22,632 431.46,632.05 432.7,632.1 433.94,632.16 435.18,632.22 436.41,632.27 437.65,632.32 438.89,632.38 440.12,632.43 441.36,632.48 442.6,632.54" fill="none" stroke="#c2561f" stroke-width="1.1"/>
<circle cx="363.4" cy="622.2" r="1.4" fill="#1763a8"/>
<circle cx="363.4" cy="622.51" r="1.4" fill="#bf4a12"/>
<circle cx="373.3" cy="622.2" r="1.4" fill="#1763a8"/>
<circle cx="373.3" cy="618.58" r="1.4" fill="#bf4a12"/>
<circle cx="383.2" cy="621.64" r="1.4" fill="#1763a8"/>
<circle cx="383.2" cy="621.2" r="1.4" fill="#bf4a12"/>
<circle cx="393.1" cy="620.76" r="1.4" fill="#1763a8"/>
<circle cx="393.1" cy="622.51" r="1.4" fill="#bf4a12"/>
<circle cx="403" cy="618.02" r="1.4" fill="#1763a8"/>
<circle cx="403" cy="637.59" r="1.4" fill="#bf4a12"/>
<circle cx="412.9" cy="612.61" r="1.4" fill="#1763a8"/>
<circle cx="412.9" cy="641.69" r="1.4" fill="#bf4a12"/>
<circle cx="422.8" cy="608.12" r="1.4" fill="#1763a8"/>
<circle cx="422.8" cy="638.64" r="1.4" fill="#bf4a12"/>
<circle cx="432.7" cy="604.81" r="1.4" fill="#1763a8"/>
<circle cx="432.7" cy="634.93" r="1.4" fill="#bf4a12"/>
<circle cx="442.6" cy="602.71" r="1.4" fill="#1763a8"/>
<circle cx="442.6" cy="618.32" r="1.4" fill="#bf4a12"/>
<rect x="0" y="0" width="520" height="1" fill="#000"/><rect x="0" y="0" width="1.1" height="714" fill="#000"/><rect x="518.9" y="0" width="1.1" height="714" fill="#000"/><rect x="0" y="712.8" width="520" height="1.2" fill="#000"/>
</svg>
</body></html>
